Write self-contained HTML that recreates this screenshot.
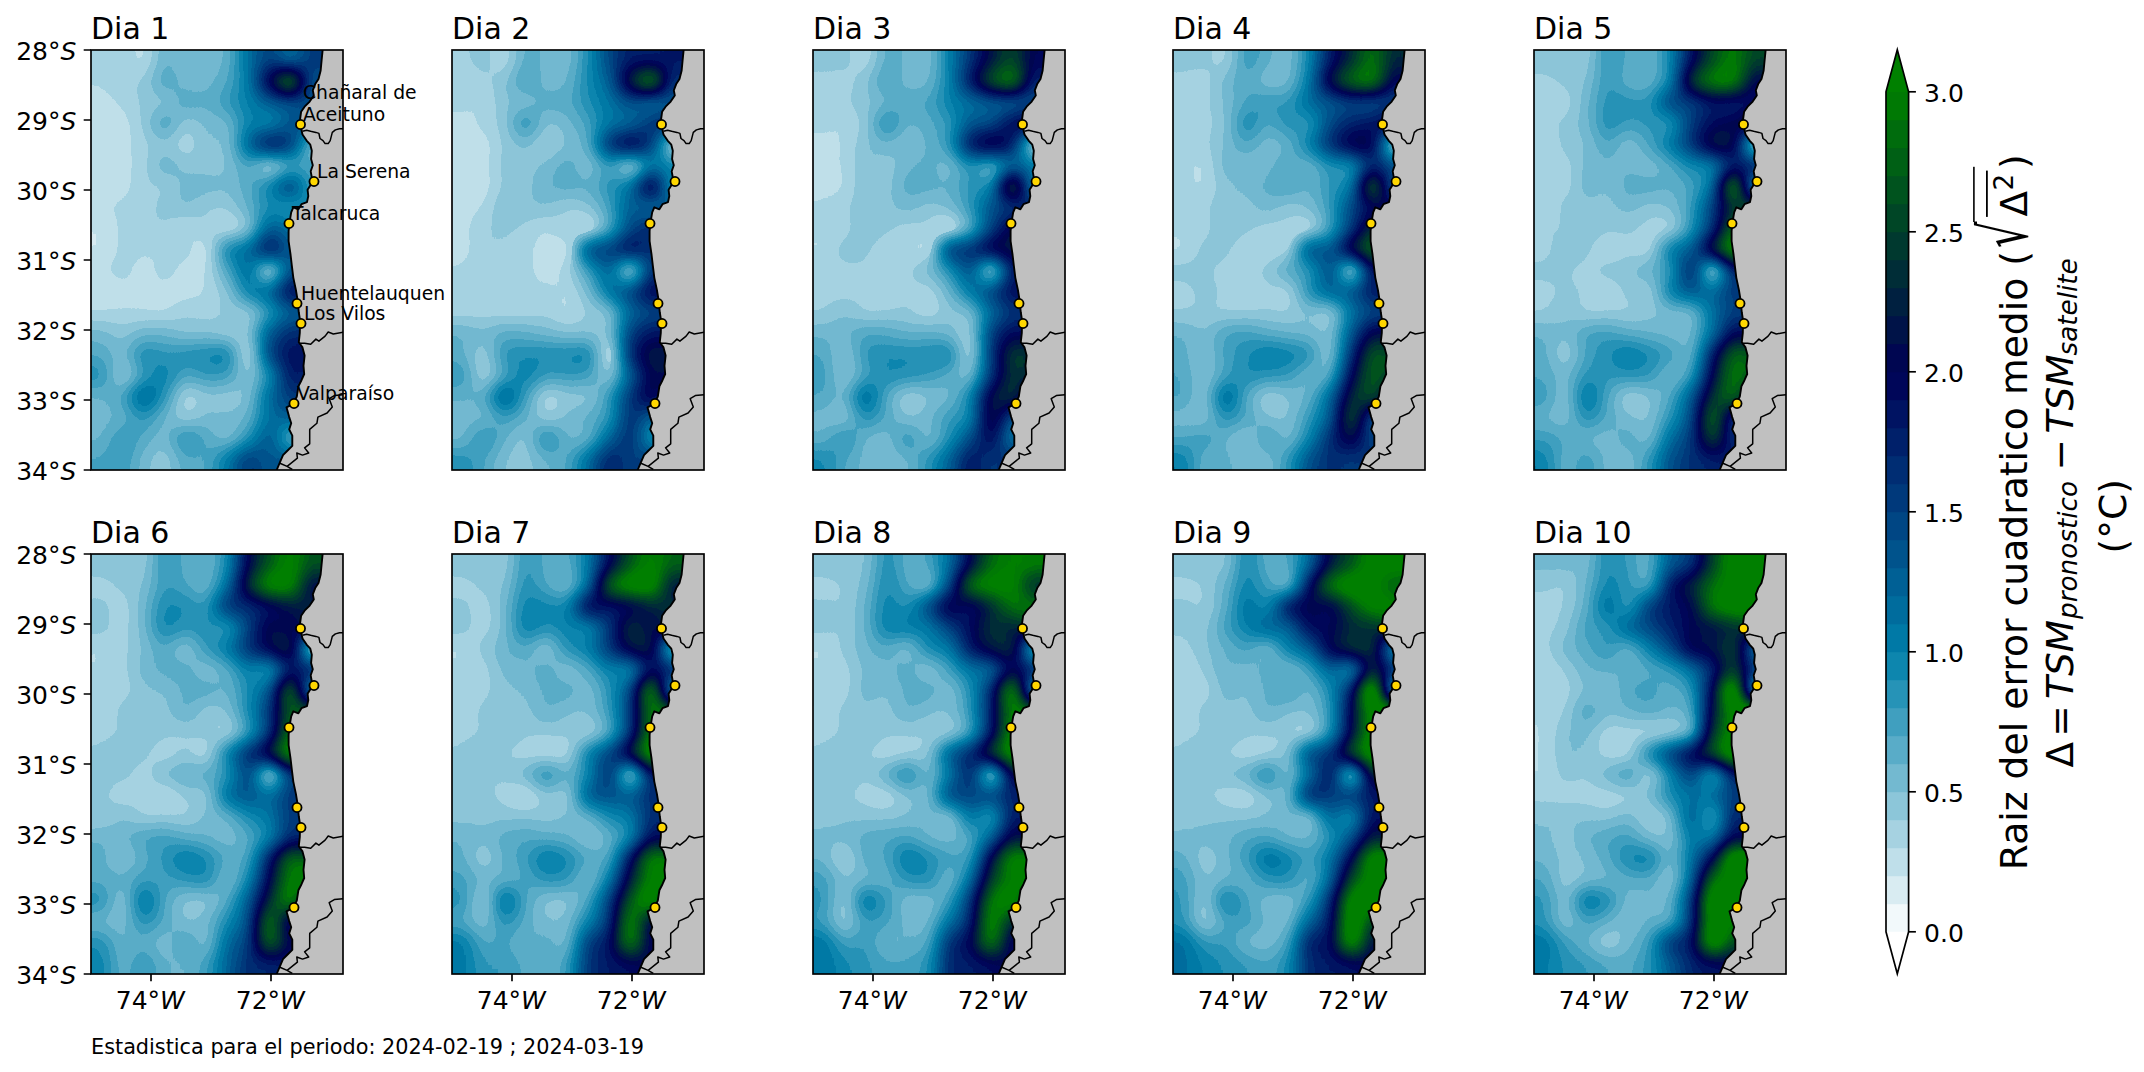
<!DOCTYPE html>
<html lang="es"><head><meta charset="utf-8"><title>RMSE TSM</title>
<style>html,body{margin:0;padding:0;background:#fff}body{width:2144px;height:1072px;overflow:hidden}svg{display:block}text{font-family:"DejaVu Sans","Liberation Sans",sans-serif;fill:#000}.i{font-family:"DejaVu Sans","Liberation Sans",sans-serif;font-style:oblique}.tk{font-size:25px}.tt{font-size:30px}.ct{font-size:18.75px}</style>
</head><body>
<svg width="2144" height="1072" viewBox="0 0 2144 1072">
<defs>
<filter id="cm" filterUnits="userSpaceOnUse" x="-63" y="-63" width="378" height="546" color-interpolation-filters="sRGB">
<feGaussianBlur stdDeviation="9.5" result="b"/>
<feColorMatrix in="b" type="matrix" values="1 0 0 0 0 1 0 0 0 0 1 0 0 0 0 0 0 0 0 1"/>
<feComponentTransfer result="cR"><feFuncR type="discrete" tableValues="0.9500 0.8500 0.7500 0.6500 0.5500 0.4500 0.3500 0.2500 0.1500 0.0500 0.0000 0.0000 0.0000 0.0000 0.0000 0.0000 0.0000 0.0000 0.0000 0.0000 0.0000 0.0000 0.0000 0.0000 0.0000 0.0000 0.0000 0.0000 0.0000 0.0000 0.0000 0.0000 0.0000 0.0000 0.0000 0.0000 0.0000 0.0000 0.0000 0.0000"/><feFuncG type="discrete" tableValues="0.9750 0.9250 0.8750 0.8250 0.7750 0.7250 0.6750 0.6250 0.5750 0.5250 0.4750 0.4250 0.3750 0.3250 0.2750 0.2250 0.1750 0.1250 0.0750 0.0250 0.0250 0.0750 0.1250 0.1750 0.2250 0.2750 0.3250 0.3750 0.4250 0.4750 0.5000 0.5000 0.5000 0.5000 0.5000 0.5000 0.5000 0.5000 0.5000 0.5000"/><feFuncB type="discrete" tableValues="0.9833 0.9500 0.9167 0.8833 0.8500 0.8167 0.7833 0.7500 0.7167 0.6833 0.6500 0.6167 0.5833 0.5500 0.5167 0.4833 0.4500 0.4167 0.3833 0.3500 0.3167 0.2833 0.2500 0.2167 0.1833 0.1500 0.1167 0.0833 0.0500 0.0167 0.0000 0.0000 0.0000 0.0000 0.0000 0.0000 0.0000 0.0000 0.0000 0.0000"/></feComponentTransfer>
<feColorMatrix in="b" type="matrix" values="0 1 0 0 0 0 1 0 0 0 0 1 0 0 0 0 0 0 0 1"/>
<feComponentTransfer result="cG"><feFuncR type="discrete" tableValues="0.9500 0.8500 0.7500 0.6500 0.5500 0.4500 0.3500 0.2500 0.1500 0.0500 0.0000 0.0000 0.0000 0.0000 0.0000 0.0000 0.0000 0.0000 0.0000 0.0000"/><feFuncG type="discrete" tableValues="0.9750 0.9250 0.8750 0.8250 0.7750 0.7250 0.6750 0.6250 0.5750 0.5250 0.4750 0.4250 0.3750 0.3250 0.2750 0.2250 0.1750 0.1250 0.0750 0.0250"/><feFuncB type="discrete" tableValues="0.9833 0.9500 0.9167 0.8833 0.8500 0.8167 0.7833 0.7500 0.7167 0.6833 0.6500 0.6167 0.5833 0.5500 0.5167 0.4833 0.4500 0.4167 0.3833 0.3500"/></feComponentTransfer>
<feColorMatrix in="b" type="matrix" values="0 0 1 0 0 0 0 1 0 0 0 0 1 0 0 0 0 0 0 1"/>
<feComponentTransfer result="cB"><feFuncR type="discrete" tableValues="0.9500 0.8500 0.7500 0.6500 0.5500 0.4500 0.3500 0.2500 0.1500 0.0500"/><feFuncG type="discrete" tableValues="0.9750 0.9250 0.8750 0.8250 0.7750 0.7250 0.6750 0.6250 0.5750 0.5250"/><feFuncB type="discrete" tableValues="0.9833 0.9500 0.9167 0.8833 0.8500 0.8167 0.7833 0.7500 0.7167 0.6833"/></feComponentTransfer>
<feColorMatrix in="b" type="matrix" values="0 0 0 0 0 0 0 0 0 0 0 0 0 0 0 -255 0 0 0 63.7500" result="mG"/>
<feColorMatrix in="b" type="matrix" values="0 0 0 0 0 0 0 0 0 0 0 0 0 0 0 0 -255 0 0 63.7500" result="mB"/>
<feComposite in="cG" in2="mG" operator="in" result="cGm"/>
<feComposite in="cB" in2="mB" operator="in" result="cBm"/>
<feMerge><feMergeNode in="cR"/><feMergeNode in="cGm"/><feMergeNode in="cBm"/></feMerge>
</filter>
<clipPath id="ax"><rect x="0" y="0" width="252" height="420"/></clipPath>
<g id="land"><polygon points="231.6,-1.8 231.6,0.3 230.6,10.5 229.6,20.8 227.5,29.0 224.2,34.1 221.8,40.3 222.8,45.4 218.7,51.6 213.6,56.7 210.1,61.8 209.1,69.0 210.5,80.3 211.5,84.4 215.6,90.6 219.3,94.7 220.8,100.8 220.1,109.0 221.8,115.2 219.7,121.3 220.8,127.5 219.7,134.7 216.6,139.8 217.3,146.0 216.0,152.1 210.5,154.2 207.4,159.3 202.3,157.3 200.2,162.4 198.8,170.6 197.6,180.9 197.6,191.1 198.8,199.3 199.6,205.0 200.8,215.3 202.3,227.6 204.9,239.9 206.4,249.1 207.8,262.5 209.1,270.7 208.8,283.0 207.8,292.2 211.5,297.4 213.6,305.6 212.5,315.8 213.2,324.0 210.5,330.2 207.4,336.3 205.8,346.6 202.3,353.8 195.5,357.3 198.2,367.1 200.2,373.3 198.2,379.4 201.3,385.6 201.3,395.9 196.1,401.0 192.0,405.1 188.9,412.3 185.9,419.5 184.8,424.6 257.0,429.6 257.0,-5.0 231.6,-5.0" fill="#c0c0c0"/>
<polyline points="231.6,-1.8 231.6,0.3 230.6,10.5 229.6,20.8 227.5,29.0 224.2,34.1 221.8,40.3 222.8,45.4 218.7,51.6 213.6,56.7 210.1,61.8 209.1,69.0 210.5,80.3 211.5,84.4 215.6,90.6 219.3,94.7 220.8,100.8 220.1,109.0 221.8,115.2 219.7,121.3 220.8,127.5 219.7,134.7 216.6,139.8 217.3,146.0 216.0,152.1 210.5,154.2 207.4,159.3 202.3,157.3 200.2,162.4 198.8,170.6 197.6,180.9 197.6,191.1 198.8,199.3 199.6,205.0 200.8,215.3 202.3,227.6 204.9,239.9 206.4,249.1 207.8,262.5 209.1,270.7 208.8,283.0 207.8,292.2 211.5,297.4 213.6,305.6 212.5,315.8 213.2,324.0 210.5,330.2 207.4,336.3 205.8,346.6 202.3,353.8 195.5,357.3 198.2,367.1 200.2,373.3 198.2,379.4 201.3,385.6 201.3,395.9 196.1,401.0 192.0,405.1 188.9,412.3 185.9,419.5 184.8,424.6" fill="none" stroke="#000" stroke-width="1.9" stroke-linejoin="round"/>
<polyline points="211.5,81.3 215.6,80.3 219.7,81.3 224.9,82.4 227.9,83.4 229.0,88.5 232.0,90.6 234.1,93.6 237.2,93.6 239.2,90.6 241.3,82.4 244.4,79.9 248.5,78.7 253.6,78.7" fill="none" stroke="#000" stroke-width="1.5" stroke-linejoin="round"/>
<polyline points="208.4,293.2 213.6,293.2 219.7,294.3 224.9,289.1 227.9,291.2 234.1,286.1 237.2,282.0 242.3,284.0 253.6,282.0" fill="none" stroke="#000" stroke-width="1.5" stroke-linejoin="round"/>
<polyline points="196.1,416.4 206.4,408.2 205.8,403.0 211.5,405.1 217.7,403.0 213.6,397.9 218.7,393.8 218.7,379.4 225.9,373.3 226.9,367.1 236.1,363.0 241.3,356.9 238.2,348.7 243.3,345.6 253.6,344.6" fill="none" stroke="#000" stroke-width="1.5" stroke-linejoin="round"/>
<polyline points="188.9,413.3 196.1,416.4 201.3,419.5" fill="none" stroke="#000" stroke-width="1.5" stroke-linejoin="round"/>
</g>
<g id="dots">
<circle cx="209.5" cy="74.5" r="4.55" fill="#ffd700" stroke="#000" stroke-width="1.8"/>
<circle cx="223.0" cy="131.5" r="4.55" fill="#ffd700" stroke="#000" stroke-width="1.8"/>
<circle cx="198.0" cy="173.5" r="4.55" fill="#ffd700" stroke="#000" stroke-width="1.8"/>
<circle cx="206.0" cy="253.5" r="4.55" fill="#ffd700" stroke="#000" stroke-width="1.8"/>
<circle cx="210.0" cy="273.5" r="4.55" fill="#ffd700" stroke="#000" stroke-width="1.8"/>
<circle cx="203.0" cy="353.5" r="4.55" fill="#ffd700" stroke="#000" stroke-width="1.8"/>
</g>
</defs>
<rect width="2144" height="1072" fill="#fff"/>
<g transform="translate(91,50)">
<g clip-path="url(#ax)">
<g filter="url(#cm)" shape-rendering="crispEdges">
<rect x="-42" y="-42" width="63" height="21" fill="#183060"/>
<rect x="21" y="-42" width="21" height="21" fill="#193264"/>
<rect x="42" y="-42" width="21" height="21" fill="#0e1d39"/>
<rect x="63" y="-42" width="21" height="21" fill="#2850a0"/>
<rect x="84" y="-42" width="21" height="21" fill="#203f7e"/>
<rect x="105" y="-42" width="21" height="21" fill="#20407f"/>
<rect x="126" y="-42" width="21" height="21" fill="#274d9b"/>
<rect x="147" y="-42" width="21" height="21" fill="#4890ff"/>
<rect x="168" y="-42" width="21" height="21" fill="#62c5ff"/>
<rect x="189" y="-42" width="21" height="21" fill="#4487ff"/>
<rect x="210" y="-42" width="21" height="21" fill="#66ccff"/>
<rect x="231" y="-42" width="63" height="21" fill="#60c0ff"/>
<rect x="-42" y="-21" width="63" height="21" fill="#183060"/>
<rect x="21" y="-21" width="21" height="21" fill="#193264"/>
<rect x="42" y="-21" width="21" height="21" fill="#0e1d39"/>
<rect x="63" y="-21" width="21" height="21" fill="#2850a0"/>
<rect x="84" y="-21" width="21" height="21" fill="#203f7e"/>
<rect x="105" y="-21" width="21" height="21" fill="#20407f"/>
<rect x="126" y="-21" width="21" height="21" fill="#274d9b"/>
<rect x="147" y="-21" width="21" height="21" fill="#4890ff"/>
<rect x="168" y="-21" width="21" height="21" fill="#62c5ff"/>
<rect x="189" y="-21" width="21" height="21" fill="#4487ff"/>
<rect x="210" y="-21" width="21" height="21" fill="#66ccff"/>
<rect x="231" y="-21" width="63" height="21" fill="#60c0ff"/>
<rect x="-42" y="0" width="63" height="21" fill="#183060"/>
<rect x="21" y="0" width="21" height="21" fill="#193264"/>
<rect x="42" y="0" width="21" height="21" fill="#0e1d39"/>
<rect x="63" y="0" width="21" height="21" fill="#2850a0"/>
<rect x="84" y="0" width="21" height="21" fill="#203f7e"/>
<rect x="105" y="0" width="21" height="21" fill="#20407f"/>
<rect x="126" y="0" width="21" height="21" fill="#274d9b"/>
<rect x="147" y="0" width="21" height="21" fill="#4890ff"/>
<rect x="168" y="0" width="21" height="21" fill="#62c5ff"/>
<rect x="189" y="0" width="21" height="21" fill="#4487ff"/>
<rect x="210" y="0" width="21" height="21" fill="#66ccff"/>
<rect x="231" y="0" width="63" height="21" fill="#60c0ff"/>
<rect x="-42" y="21" width="63" height="21" fill="#14274f"/>
<rect x="21" y="21" width="21" height="21" fill="#193263"/>
<rect x="42" y="21" width="21" height="21" fill="#1a3366"/>
<rect x="63" y="21" width="21" height="21" fill="#2f5dba"/>
<rect x="84" y="21" width="21" height="21" fill="#224489"/>
<rect x="105" y="21" width="21" height="21" fill="#23468c"/>
<rect x="126" y="21" width="21" height="21" fill="#2c57ae"/>
<rect x="147" y="21" width="21" height="21" fill="#4285ff"/>
<rect x="168" y="21" width="21" height="21" fill="#88ffff"/>
<rect x="189" y="21" width="21" height="21" fill="#d1ffff"/>
<rect x="210" y="21" width="21" height="21" fill="#4e9bff"/>
<rect x="231" y="21" width="63" height="21" fill="#66cbff"/>
<rect x="-42" y="42" width="63" height="21" fill="#102040"/>
<rect x="21" y="42" width="21" height="21" fill="#142850"/>
<rect x="42" y="42" width="21" height="21" fill="#1b376e"/>
<rect x="63" y="42" width="21" height="21" fill="#1b366c"/>
<rect x="84" y="42" width="21" height="21" fill="#2d5bb6"/>
<rect x="105" y="42" width="21" height="21" fill="#274e9c"/>
<rect x="126" y="42" width="21" height="21" fill="#3468d0"/>
<rect x="147" y="42" width="21" height="21" fill="#4081ff"/>
<rect x="168" y="42" width="21" height="21" fill="#50a1ff"/>
<rect x="189" y="42" width="21" height="21" fill="#54a8ff"/>
<rect x="210" y="42" width="21" height="21" fill="#5ab4ff"/>
<rect x="231" y="42" width="63" height="21" fill="#59b1ff"/>
<rect x="-42" y="63" width="63" height="21" fill="#122347"/>
<rect x="21" y="63" width="21" height="21" fill="#0f1d3b"/>
<rect x="42" y="63" width="21" height="21" fill="#1a3367"/>
<rect x="63" y="63" width="21" height="21" fill="#3365ca"/>
<rect x="84" y="63" width="21" height="21" fill="#193163"/>
<rect x="105" y="63" width="21" height="21" fill="#214385"/>
<rect x="126" y="63" width="21" height="21" fill="#224488"/>
<rect x="147" y="63" width="21" height="21" fill="#3f7dfa"/>
<rect x="168" y="63" width="21" height="21" fill="#3973e5"/>
<rect x="189" y="63" width="21" height="21" fill="#54a8ff"/>
<rect x="210" y="63" width="21" height="21" fill="#5dbbff"/>
<rect x="231" y="63" width="63" height="21" fill="#5cb7ff"/>
<rect x="-42" y="84" width="63" height="21" fill="#112345"/>
<rect x="21" y="84" width="21" height="21" fill="#102041"/>
<rect x="42" y="84" width="21" height="21" fill="#172e5c"/>
<rect x="63" y="84" width="21" height="21" fill="#1d3972"/>
<rect x="84" y="84" width="21" height="21" fill="#122448"/>
<rect x="105" y="84" width="21" height="21" fill="#20407f"/>
<rect x="126" y="84" width="21" height="21" fill="#1e3b77"/>
<rect x="147" y="84" width="21" height="21" fill="#50a0ff"/>
<rect x="168" y="84" width="21" height="21" fill="#7ffdff"/>
<rect x="189" y="84" width="21" height="21" fill="#6ad4ff"/>
<rect x="210" y="84" width="21" height="21" fill="#183162"/>
<rect x="231" y="84" width="63" height="21" fill="#274f9d"/>
<rect x="-42" y="105" width="63" height="21" fill="#112345"/>
<rect x="21" y="105" width="21" height="21" fill="#102142"/>
<rect x="42" y="105" width="21" height="21" fill="#162c59"/>
<rect x="63" y="105" width="21" height="21" fill="#284f9e"/>
<rect x="84" y="105" width="21" height="21" fill="#1e3b77"/>
<rect x="105" y="105" width="21" height="21" fill="#1d3973"/>
<rect x="126" y="105" width="21" height="21" fill="#1e3c79"/>
<rect x="147" y="105" width="21" height="21" fill="#2f5ebd"/>
<rect x="168" y="105" width="21" height="21" fill="#0c182f"/>
<rect x="189" y="105" width="21" height="21" fill="#284f9f"/>
<rect x="210" y="105" width="21" height="21" fill="#305fbe"/>
<rect x="231" y="105" width="63" height="21" fill="#2e5cb8"/>
<rect x="-42" y="126" width="63" height="21" fill="#112346"/>
<rect x="21" y="126" width="21" height="21" fill="#0f1d3b"/>
<rect x="42" y="126" width="21" height="21" fill="#193365"/>
<rect x="63" y="126" width="21" height="21" fill="#172e5c"/>
<rect x="84" y="126" width="21" height="21" fill="#24478e"/>
<rect x="105" y="126" width="21" height="21" fill="#24478f"/>
<rect x="126" y="126" width="21" height="21" fill="#214283"/>
<rect x="147" y="126" width="21" height="21" fill="#2a54a7"/>
<rect x="168" y="126" width="21" height="21" fill="#4080ff"/>
<rect x="189" y="126" width="21" height="21" fill="#68d0ff"/>
<rect x="210" y="126" width="21" height="21" fill="#2a55a9"/>
<rect x="231" y="126" width="63" height="21" fill="#366bd6"/>
<rect x="-42" y="147" width="63" height="21" fill="#112346"/>
<rect x="21" y="147" width="21" height="21" fill="#152b56"/>
<rect x="42" y="147" width="21" height="21" fill="#172e5c"/>
<rect x="63" y="147" width="21" height="21" fill="#1c376e"/>
<rect x="84" y="147" width="21" height="21" fill="#214386"/>
<rect x="105" y="147" width="21" height="21" fill="#183161"/>
<rect x="126" y="147" width="21" height="21" fill="#1a3366"/>
<rect x="147" y="147" width="21" height="21" fill="#284f9e"/>
<rect x="168" y="147" width="21" height="21" fill="#3a74e9"/>
<rect x="189" y="147" width="21" height="21" fill="#2f5ebb"/>
<rect x="210" y="147" width="21" height="21" fill="#3e7bf7"/>
<rect x="231" y="147" width="63" height="21" fill="#3b76ec"/>
<rect x="-42" y="168" width="63" height="21" fill="#0c1931"/>
<rect x="21" y="168" width="21" height="21" fill="#152a54"/>
<rect x="42" y="168" width="21" height="21" fill="#193163"/>
<rect x="63" y="168" width="21" height="21" fill="#193264"/>
<rect x="84" y="168" width="21" height="21" fill="#0f1e3d"/>
<rect x="105" y="168" width="21" height="21" fill="#1c376e"/>
<rect x="126" y="168" width="21" height="21" fill="#0c1931"/>
<rect x="147" y="168" width="21" height="21" fill="#1a3467"/>
<rect x="168" y="168" width="21" height="21" fill="#55aaff"/>
<rect x="189" y="168" width="21" height="21" fill="#4891ff"/>
<rect x="210" y="168" width="21" height="21" fill="#3b77ee"/>
<rect x="231" y="168" width="63" height="21" fill="#3e7cf7"/>
<rect x="-42" y="189" width="63" height="21" fill="#0c1830"/>
<rect x="21" y="189" width="21" height="21" fill="#162c57"/>
<rect x="42" y="189" width="21" height="21" fill="#142952"/>
<rect x="63" y="189" width="21" height="21" fill="#13254b"/>
<rect x="84" y="189" width="21" height="21" fill="#183060"/>
<rect x="105" y="189" width="21" height="21" fill="#0a1529"/>
<rect x="126" y="189" width="21" height="21" fill="#4385ff"/>
<rect x="147" y="189" width="21" height="21" fill="#4a93ff"/>
<rect x="168" y="189" width="21" height="21" fill="#82ffff"/>
<rect x="189" y="189" width="21" height="21" fill="#4f9fff"/>
<rect x="210" y="189" width="21" height="21" fill="#5cb7ff"/>
<rect x="231" y="189" width="63" height="21" fill="#59b3ff"/>
<rect x="-42" y="210" width="63" height="21" fill="#122449"/>
<rect x="21" y="210" width="21" height="21" fill="#172e5c"/>
<rect x="42" y="210" width="21" height="21" fill="#0e1c39"/>
<rect x="63" y="210" width="21" height="21" fill="#182f5f"/>
<rect x="84" y="210" width="21" height="21" fill="#0f1e3d"/>
<rect x="105" y="210" width="21" height="21" fill="#112244"/>
<rect x="126" y="210" width="21" height="21" fill="#2d5ab5"/>
<rect x="147" y="210" width="21" height="21" fill="#4f9dff"/>
<rect x="168" y="210" width="21" height="21" fill="#010305"/>
<rect x="189" y="210" width="21" height="21" fill="#5db9ff"/>
<rect x="210" y="210" width="21" height="21" fill="#4992ff"/>
<rect x="231" y="210" width="63" height="21" fill="#4d99ff"/>
<rect x="-42" y="231" width="63" height="21" fill="#0b172e"/>
<rect x="21" y="231" width="21" height="21" fill="#112143"/>
<rect x="42" y="231" width="21" height="21" fill="#112346"/>
<rect x="63" y="231" width="21" height="21" fill="#102041"/>
<rect x="84" y="231" width="21" height="21" fill="#101f3e"/>
<rect x="105" y="231" width="21" height="21" fill="#13264c"/>
<rect x="126" y="231" width="21" height="21" fill="#1c3870"/>
<rect x="147" y="231" width="21" height="21" fill="#4386ff"/>
<rect x="168" y="231" width="21" height="21" fill="#50a1ff"/>
<rect x="189" y="231" width="21" height="21" fill="#82ffff"/>
<rect x="210" y="231" width="21" height="21" fill="#79f2ff"/>
<rect x="231" y="231" width="63" height="21" fill="#7bf5ff"/>
<rect x="-42" y="252" width="63" height="21" fill="#13274e"/>
<rect x="21" y="252" width="21" height="21" fill="#14274e"/>
<rect x="42" y="252" width="21" height="21" fill="#122448"/>
<rect x="63" y="252" width="21" height="21" fill="#112244"/>
<rect x="84" y="252" width="21" height="21" fill="#193265"/>
<rect x="105" y="252" width="21" height="21" fill="#162c58"/>
<rect x="126" y="252" width="21" height="21" fill="#1b376d"/>
<rect x="147" y="252" width="21" height="21" fill="#172e5c"/>
<rect x="168" y="252" width="21" height="21" fill="#3163c6"/>
<rect x="189" y="252" width="21" height="21" fill="#4e9bff"/>
<rect x="210" y="252" width="21" height="21" fill="#4891ff"/>
<rect x="231" y="252" width="63" height="21" fill="#4992ff"/>
<rect x="-42" y="273" width="63" height="21" fill="#23468b"/>
<rect x="21" y="273" width="21" height="21" fill="#1c3871"/>
<rect x="42" y="273" width="21" height="21" fill="#254a95"/>
<rect x="63" y="273" width="21" height="21" fill="#264b97"/>
<rect x="84" y="273" width="21" height="21" fill="#1d3a74"/>
<rect x="105" y="273" width="21" height="21" fill="#1f3e7c"/>
<rect x="126" y="273" width="21" height="21" fill="#183060"/>
<rect x="147" y="273" width="21" height="21" fill="#1c3870"/>
<rect x="168" y="273" width="21" height="21" fill="#55aaff"/>
<rect x="189" y="273" width="21" height="21" fill="#6edcff"/>
<rect x="210" y="273" width="21" height="21" fill="#69d2ff"/>
<rect x="231" y="273" width="63" height="21" fill="#6ad4ff"/>
<rect x="-42" y="294" width="63" height="21" fill="#2c58b0"/>
<rect x="21" y="294" width="21" height="21" fill="#224387"/>
<rect x="42" y="294" width="21" height="21" fill="#3d7af4"/>
<rect x="63" y="294" width="21" height="21" fill="#3467cf"/>
<rect x="84" y="294" width="21" height="21" fill="#3973e6"/>
<rect x="105" y="294" width="21" height="21" fill="#3d79f2"/>
<rect x="126" y="294" width="21" height="21" fill="#4386ff"/>
<rect x="147" y="294" width="21" height="21" fill="#081122"/>
<rect x="168" y="294" width="21" height="21" fill="#62c4ff"/>
<rect x="189" y="294" width="21" height="21" fill="#7bf6ff"/>
<rect x="210" y="294" width="21" height="21" fill="#76ecff"/>
<rect x="231" y="294" width="63" height="21" fill="#77eeff"/>
<rect x="-42" y="315" width="63" height="21" fill="#3973e5"/>
<rect x="21" y="315" width="21" height="21" fill="#142850"/>
<rect x="42" y="315" width="21" height="21" fill="#3162c4"/>
<rect x="63" y="315" width="21" height="21" fill="#4283ff"/>
<rect x="84" y="315" width="21" height="21" fill="#2c58b0"/>
<rect x="105" y="315" width="21" height="21" fill="#356ad3"/>
<rect x="126" y="315" width="21" height="21" fill="#3264c8"/>
<rect x="147" y="315" width="21" height="21" fill="#1b366b"/>
<rect x="168" y="315" width="21" height="21" fill="#356bd5"/>
<rect x="189" y="315" width="21" height="21" fill="#79f2ff"/>
<rect x="210" y="315" width="21" height="21" fill="#6cd8ff"/>
<rect x="231" y="315" width="63" height="21" fill="#6fddff"/>
<rect x="-42" y="336" width="63" height="21" fill="#254992"/>
<rect x="21" y="336" width="21" height="21" fill="#2e5db9"/>
<rect x="42" y="336" width="21" height="21" fill="#55a9ff"/>
<rect x="63" y="336" width="21" height="21" fill="#376ddb"/>
<rect x="84" y="336" width="21" height="21" fill="#102041"/>
<rect x="105" y="336" width="21" height="21" fill="#1b376e"/>
<rect x="126" y="336" width="21" height="21" fill="#193264"/>
<rect x="147" y="336" width="21" height="21" fill="#1e3d79"/>
<rect x="168" y="336" width="21" height="21" fill="#4d9aff"/>
<rect x="189" y="336" width="21" height="21" fill="#65cbff"/>
<rect x="210" y="336" width="21" height="21" fill="#61c1ff"/>
<rect x="231" y="336" width="63" height="21" fill="#61c3ff"/>
<rect x="-42" y="357" width="63" height="21" fill="#23468d"/>
<rect x="21" y="357" width="21" height="21" fill="#264c98"/>
<rect x="42" y="357" width="21" height="21" fill="#366dd9"/>
<rect x="63" y="357" width="21" height="21" fill="#254993"/>
<rect x="84" y="357" width="21" height="21" fill="#182f5e"/>
<rect x="105" y="357" width="21" height="21" fill="#224488"/>
<rect x="126" y="357" width="21" height="21" fill="#214386"/>
<rect x="147" y="357" width="21" height="21" fill="#254b96"/>
<rect x="168" y="357" width="21" height="21" fill="#4993ff"/>
<rect x="189" y="357" width="21" height="21" fill="#53a5ff"/>
<rect x="210" y="357" width="84" height="21" fill="#51a2ff"/>
<rect x="-42" y="378" width="63" height="21" fill="#244991"/>
<rect x="21" y="378" width="21" height="21" fill="#376edc"/>
<rect x="42" y="378" width="21" height="21" fill="#2a55aa"/>
<rect x="63" y="378" width="21" height="21" fill="#204181"/>
<rect x="84" y="378" width="21" height="21" fill="#3d7af4"/>
<rect x="105" y="378" width="21" height="21" fill="#2b57ad"/>
<rect x="126" y="378" width="21" height="21" fill="#1e3c78"/>
<rect x="147" y="378" width="21" height="21" fill="#356ad3"/>
<rect x="168" y="378" width="21" height="21" fill="#5bb7ff"/>
<rect x="189" y="378" width="21" height="21" fill="#1e3c78"/>
<rect x="210" y="378" width="21" height="21" fill="#2a53a7"/>
<rect x="231" y="378" width="63" height="21" fill="#284f9e"/>
<rect x="-42" y="399" width="63" height="21" fill="#2e5cb9"/>
<rect x="21" y="399" width="21" height="21" fill="#3468d0"/>
<rect x="42" y="399" width="21" height="21" fill="#224489"/>
<rect x="63" y="399" width="21" height="21" fill="#193264"/>
<rect x="84" y="399" width="21" height="21" fill="#2b57ae"/>
<rect x="105" y="399" width="21" height="21" fill="#2b55ab"/>
<rect x="126" y="399" width="21" height="21" fill="#4489ff"/>
<rect x="147" y="399" width="21" height="21" fill="#68d0ff"/>
<rect x="168" y="399" width="21" height="21" fill="#50a0ff"/>
<rect x="189" y="399" width="21" height="21" fill="#5dbaff"/>
<rect x="210" y="399" width="21" height="21" fill="#5bb5ff"/>
<rect x="231" y="399" width="63" height="21" fill="#5bb6ff"/>
<rect x="-42" y="420" width="63" height="21" fill="#2e5cb9"/>
<rect x="21" y="420" width="21" height="21" fill="#3468d0"/>
<rect x="42" y="420" width="21" height="21" fill="#224489"/>
<rect x="63" y="420" width="21" height="21" fill="#193264"/>
<rect x="84" y="420" width="21" height="21" fill="#2b57ae"/>
<rect x="105" y="420" width="21" height="21" fill="#2b55ab"/>
<rect x="126" y="420" width="21" height="21" fill="#4489ff"/>
<rect x="147" y="420" width="21" height="21" fill="#68d0ff"/>
<rect x="168" y="420" width="21" height="21" fill="#50a0ff"/>
<rect x="189" y="420" width="21" height="21" fill="#5dbaff"/>
<rect x="210" y="420" width="21" height="21" fill="#5bb5ff"/>
<rect x="231" y="420" width="63" height="21" fill="#5bb6ff"/>
<rect x="-42" y="441" width="63" height="21" fill="#2e5cb9"/>
<rect x="21" y="441" width="21" height="21" fill="#3468d0"/>
<rect x="42" y="441" width="21" height="21" fill="#224489"/>
<rect x="63" y="441" width="21" height="21" fill="#193264"/>
<rect x="84" y="441" width="21" height="21" fill="#2b57ae"/>
<rect x="105" y="441" width="21" height="21" fill="#2b55ab"/>
<rect x="126" y="441" width="21" height="21" fill="#4489ff"/>
<rect x="147" y="441" width="21" height="21" fill="#68d0ff"/>
<rect x="168" y="441" width="21" height="21" fill="#50a0ff"/>
<rect x="189" y="441" width="21" height="21" fill="#5dbaff"/>
<rect x="210" y="441" width="21" height="21" fill="#5bb5ff"/>
<rect x="231" y="441" width="63" height="21" fill="#5bb6ff"/>
</g>
<use href="#land"/>
</g>
<use href="#dots"/>
<rect x="0" y="0" width="252" height="420" fill="none" stroke="#000" stroke-width="1.67"/>
<path d="M-7.3,0 H0 M-7.3,70 H0 M-7.3,140 H0 M-7.3,210 H0 M-7.3,280 H0 M-7.3,350 H0 M-7.3,420 H0" stroke="#000" stroke-width="1.67" fill="none"/>
<text class="tk" x="-14.6" y="9.6" text-anchor="end">28°<tspan class="i">S</tspan></text>
<text class="tk" x="-14.6" y="79.6" text-anchor="end">29°<tspan class="i">S</tspan></text>
<text class="tk" x="-14.6" y="149.6" text-anchor="end">30°<tspan class="i">S</tspan></text>
<text class="tk" x="-14.6" y="219.6" text-anchor="end">31°<tspan class="i">S</tspan></text>
<text class="tk" x="-14.6" y="289.6" text-anchor="end">32°<tspan class="i">S</tspan></text>
<text class="tk" x="-14.6" y="359.6" text-anchor="end">33°<tspan class="i">S</tspan></text>
<text class="tk" x="-14.6" y="429.6" text-anchor="end">34°<tspan class="i">S</tspan></text>
<text class="tt" x="0" y="-11">Dia 1</text>
<text class="ct" x="212.0" y="48.5">Chañaral de</text>
<text class="ct" x="212.0" y="70.5">Aceituno</text>
<text class="ct" x="226.0" y="127.5">La Serena</text>
<text class="ct" x="201.0" y="169.5">Talcaruca</text>
<text class="ct" x="210.0" y="249.5">Huentelauquen</text>
<text class="ct" x="213.0" y="269.5">Los Vilos</text>
<text class="ct" x="206.0" y="349.5">Valparaíso</text>
</g>
<g transform="translate(452,50)">
<g clip-path="url(#ax)">
<g filter="url(#cm)" shape-rendering="crispEdges">
<rect x="-42" y="-42" width="63" height="21" fill="#172f5d"/>
<rect x="21" y="-42" width="21" height="21" fill="#1e3c77"/>
<rect x="42" y="-42" width="21" height="21" fill="#112245"/>
<rect x="63" y="-42" width="21" height="21" fill="#2b56ac"/>
<rect x="84" y="-42" width="21" height="21" fill="#244891"/>
<rect x="105" y="-42" width="21" height="21" fill="#204080"/>
<rect x="126" y="-42" width="21" height="21" fill="#3972e4"/>
<rect x="147" y="-42" width="21" height="21" fill="#5dbbff"/>
<rect x="168" y="-42" width="21" height="21" fill="#72e4ff"/>
<rect x="189" y="-42" width="21" height="21" fill="#6fdfff"/>
<rect x="210" y="-42" width="21" height="21" fill="#75ebff"/>
<rect x="231" y="-42" width="63" height="21" fill="#74e9ff"/>
<rect x="-42" y="-21" width="63" height="21" fill="#172f5d"/>
<rect x="21" y="-21" width="21" height="21" fill="#1e3c77"/>
<rect x="42" y="-21" width="21" height="21" fill="#112245"/>
<rect x="63" y="-21" width="21" height="21" fill="#2b56ac"/>
<rect x="84" y="-21" width="21" height="21" fill="#244891"/>
<rect x="105" y="-21" width="21" height="21" fill="#204080"/>
<rect x="126" y="-21" width="21" height="21" fill="#3972e4"/>
<rect x="147" y="-21" width="21" height="21" fill="#5dbbff"/>
<rect x="168" y="-21" width="21" height="21" fill="#72e4ff"/>
<rect x="189" y="-21" width="21" height="21" fill="#6fdfff"/>
<rect x="210" y="-21" width="21" height="21" fill="#75ebff"/>
<rect x="231" y="-21" width="63" height="21" fill="#74e9ff"/>
<rect x="-42" y="0" width="63" height="21" fill="#172f5d"/>
<rect x="21" y="0" width="21" height="21" fill="#1e3c77"/>
<rect x="42" y="0" width="21" height="21" fill="#112245"/>
<rect x="63" y="0" width="21" height="21" fill="#2b56ac"/>
<rect x="84" y="0" width="21" height="21" fill="#244891"/>
<rect x="105" y="0" width="21" height="21" fill="#204080"/>
<rect x="126" y="0" width="21" height="21" fill="#3972e4"/>
<rect x="147" y="0" width="21" height="21" fill="#5dbbff"/>
<rect x="168" y="0" width="21" height="21" fill="#72e4ff"/>
<rect x="189" y="0" width="21" height="21" fill="#6fdfff"/>
<rect x="210" y="0" width="21" height="21" fill="#75ebff"/>
<rect x="231" y="0" width="63" height="21" fill="#74e9ff"/>
<rect x="-42" y="21" width="63" height="21" fill="#13264c"/>
<rect x="21" y="21" width="21" height="21" fill="#172f5e"/>
<rect x="42" y="21" width="21" height="21" fill="#1d3b75"/>
<rect x="63" y="21" width="21" height="21" fill="#3366cb"/>
<rect x="84" y="21" width="21" height="21" fill="#204181"/>
<rect x="105" y="21" width="21" height="21" fill="#254a93"/>
<rect x="126" y="21" width="21" height="21" fill="#3c77ef"/>
<rect x="147" y="21" width="21" height="21" fill="#4e9cff"/>
<rect x="168" y="21" width="21" height="21" fill="#98ffff"/>
<rect x="189" y="21" width="21" height="21" fill="#d1ffff"/>
<rect x="210" y="21" width="21" height="21" fill="#5fbfff"/>
<rect x="231" y="21" width="63" height="21" fill="#74e8ff"/>
<rect x="-42" y="42" width="63" height="21" fill="#162c58"/>
<rect x="21" y="42" width="21" height="21" fill="#112244"/>
<rect x="42" y="42" width="21" height="21" fill="#20407f"/>
<rect x="63" y="42" width="21" height="21" fill="#1e3c77"/>
<rect x="84" y="42" width="21" height="21" fill="#2b57ad"/>
<rect x="105" y="42" width="21" height="21" fill="#2b55ab"/>
<rect x="126" y="42" width="21" height="21" fill="#3871e1"/>
<rect x="147" y="42" width="21" height="21" fill="#458aff"/>
<rect x="168" y="42" width="21" height="21" fill="#58b0ff"/>
<rect x="189" y="42" width="21" height="21" fill="#4182ff"/>
<rect x="210" y="42" width="21" height="21" fill="#55abff"/>
<rect x="231" y="42" width="63" height="21" fill="#52a3ff"/>
<rect x="-42" y="63" width="63" height="21" fill="#101f3f"/>
<rect x="21" y="63" width="21" height="21" fill="#152a55"/>
<rect x="42" y="63" width="21" height="21" fill="#1b366d"/>
<rect x="63" y="63" width="21" height="21" fill="#3c78f0"/>
<rect x="84" y="63" width="21" height="21" fill="#1c3870"/>
<rect x="105" y="63" width="21" height="21" fill="#23468c"/>
<rect x="126" y="63" width="21" height="21" fill="#2f5dbb"/>
<rect x="147" y="63" width="21" height="21" fill="#4488ff"/>
<rect x="168" y="63" width="21" height="21" fill="#488fff"/>
<rect x="189" y="63" width="21" height="21" fill="#69d3ff"/>
<rect x="210" y="63" width="21" height="21" fill="#73e6ff"/>
<rect x="231" y="63" width="63" height="21" fill="#71e3ff"/>
<rect x="-42" y="84" width="63" height="21" fill="#122447"/>
<rect x="21" y="84" width="21" height="21" fill="#0e1c39"/>
<rect x="42" y="84" width="21" height="21" fill="#1b366c"/>
<rect x="63" y="84" width="21" height="21" fill="#214183"/>
<rect x="84" y="84" width="21" height="21" fill="#152b55"/>
<rect x="105" y="84" width="21" height="21" fill="#203f7e"/>
<rect x="126" y="84" width="21" height="21" fill="#284f9e"/>
<rect x="147" y="84" width="21" height="21" fill="#6ddaff"/>
<rect x="168" y="84" width="21" height="21" fill="#8dffff"/>
<rect x="189" y="84" width="21" height="21" fill="#66ccff"/>
<rect x="210" y="84" width="21" height="21" fill="#060c18"/>
<rect x="231" y="84" width="63" height="21" fill="#182f5e"/>
<rect x="-42" y="105" width="63" height="21" fill="#112346"/>
<rect x="21" y="105" width="21" height="21" fill="#0f1f3e"/>
<rect x="42" y="105" width="21" height="21" fill="#1d3a73"/>
<rect x="63" y="105" width="21" height="21" fill="#1e3b76"/>
<rect x="84" y="105" width="21" height="21" fill="#214283"/>
<rect x="105" y="105" width="21" height="21" fill="#2c59b1"/>
<rect x="126" y="105" width="21" height="21" fill="#1c386f"/>
<rect x="147" y="105" width="21" height="21" fill="#3365ca"/>
<rect x="168" y="105" width="21" height="21" fill="#0c182f"/>
<rect x="189" y="105" width="21" height="21" fill="#4080ff"/>
<rect x="210" y="105" width="84" height="21" fill="#4182ff"/>
<rect x="-42" y="126" width="63" height="21" fill="#122347"/>
<rect x="21" y="126" width="21" height="21" fill="#0e1d39"/>
<rect x="42" y="126" width="21" height="21" fill="#1c376e"/>
<rect x="63" y="126" width="21" height="21" fill="#1d3972"/>
<rect x="84" y="126" width="21" height="21" fill="#274d9b"/>
<rect x="105" y="126" width="21" height="21" fill="#2b56ac"/>
<rect x="126" y="126" width="21" height="21" fill="#2850a0"/>
<rect x="147" y="126" width="21" height="21" fill="#366dd9"/>
<rect x="168" y="126" width="21" height="21" fill="#478dff"/>
<rect x="189" y="126" width="21" height="21" fill="#97ffff"/>
<rect x="210" y="126" width="21" height="21" fill="#2d59b2"/>
<rect x="231" y="126" width="63" height="21" fill="#4080ff"/>
<rect x="-42" y="147" width="63" height="21" fill="#112244"/>
<rect x="21" y="147" width="21" height="21" fill="#13254a"/>
<rect x="42" y="147" width="21" height="21" fill="#224487"/>
<rect x="63" y="147" width="21" height="21" fill="#1f3e7b"/>
<rect x="84" y="147" width="21" height="21" fill="#204080"/>
<rect x="105" y="147" width="21" height="21" fill="#162d5a"/>
<rect x="126" y="147" width="21" height="21" fill="#1d3a73"/>
<rect x="147" y="147" width="21" height="21" fill="#2f5dbb"/>
<rect x="168" y="147" width="21" height="21" fill="#53a5ff"/>
<rect x="189" y="147" width="21" height="21" fill="#4386ff"/>
<rect x="210" y="147" width="21" height="21" fill="#57afff"/>
<rect x="231" y="147" width="63" height="21" fill="#54a7ff"/>
<rect x="-42" y="168" width="63" height="21" fill="#102041"/>
<rect x="21" y="168" width="21" height="21" fill="#193264"/>
<rect x="42" y="168" width="21" height="21" fill="#1b376e"/>
<rect x="63" y="168" width="21" height="21" fill="#172e5c"/>
<rect x="84" y="168" width="21" height="21" fill="#112244"/>
<rect x="105" y="168" width="21" height="21" fill="#1b376d"/>
<rect x="126" y="168" width="21" height="21" fill="#081121"/>
<rect x="147" y="168" width="21" height="21" fill="#2952a4"/>
<rect x="168" y="168" width="21" height="21" fill="#5cb7ff"/>
<rect x="189" y="168" width="21" height="21" fill="#71e1ff"/>
<rect x="210" y="168" width="21" height="21" fill="#69d3ff"/>
<rect x="231" y="168" width="63" height="21" fill="#6bd5ff"/>
<rect x="-42" y="189" width="63" height="21" fill="#0f1e3d"/>
<rect x="21" y="189" width="21" height="21" fill="#193263"/>
<rect x="42" y="189" width="21" height="21" fill="#183161"/>
<rect x="63" y="189" width="21" height="21" fill="#14274e"/>
<rect x="84" y="189" width="21" height="21" fill="#112346"/>
<rect x="105" y="189" width="21" height="21" fill="#0b162c"/>
<rect x="126" y="189" width="21" height="21" fill="#61c2ff"/>
<rect x="147" y="189" width="21" height="21" fill="#64c9ff"/>
<rect x="168" y="189" width="21" height="21" fill="#82ffff"/>
<rect x="189" y="189" width="21" height="21" fill="#64c8ff"/>
<rect x="210" y="189" width="21" height="21" fill="#6ad4ff"/>
<rect x="231" y="189" width="63" height="21" fill="#69d2ff"/>
<rect x="-42" y="210" width="63" height="21" fill="#152952"/>
<rect x="21" y="210" width="21" height="21" fill="#193264"/>
<rect x="42" y="210" width="21" height="21" fill="#12254a"/>
<rect x="63" y="210" width="21" height="21" fill="#162c58"/>
<rect x="84" y="210" width="21" height="21" fill="#0f1d3b"/>
<rect x="105" y="210" width="21" height="21" fill="#162b57"/>
<rect x="126" y="210" width="21" height="21" fill="#3060c0"/>
<rect x="147" y="210" width="21" height="21" fill="#53a6ff"/>
<rect x="168" y="210" width="21" height="21" fill="#010305"/>
<rect x="189" y="210" width="21" height="21" fill="#6ddbff"/>
<rect x="210" y="210" width="21" height="21" fill="#56adff"/>
<rect x="231" y="210" width="63" height="21" fill="#5bb5ff"/>
<rect x="-42" y="231" width="63" height="21" fill="#13264d"/>
<rect x="21" y="231" width="21" height="21" fill="#1a3467"/>
<rect x="42" y="231" width="21" height="21" fill="#13274e"/>
<rect x="63" y="231" width="21" height="21" fill="#142850"/>
<rect x="84" y="231" width="21" height="21" fill="#162b56"/>
<rect x="105" y="231" width="21" height="21" fill="#112345"/>
<rect x="126" y="231" width="21" height="21" fill="#214284"/>
<rect x="147" y="231" width="21" height="21" fill="#4991ff"/>
<rect x="168" y="231" width="21" height="21" fill="#61c3ff"/>
<rect x="189" y="231" width="21" height="21" fill="#83ffff"/>
<rect x="210" y="231" width="21" height="21" fill="#7dfaff"/>
<rect x="231" y="231" width="63" height="21" fill="#7efcff"/>
<rect x="-42" y="252" width="63" height="21" fill="#152b56"/>
<rect x="21" y="252" width="21" height="21" fill="#152a55"/>
<rect x="42" y="252" width="42" height="21" fill="#152a54"/>
<rect x="84" y="252" width="21" height="21" fill="#172f5d"/>
<rect x="105" y="252" width="21" height="21" fill="#102142"/>
<rect x="126" y="252" width="21" height="21" fill="#193265"/>
<rect x="147" y="252" width="21" height="21" fill="#1c3870"/>
<rect x="168" y="252" width="21" height="21" fill="#4c98ff"/>
<rect x="189" y="252" width="21" height="21" fill="#5ab4ff"/>
<rect x="210" y="252" width="21" height="21" fill="#57afff"/>
<rect x="231" y="252" width="63" height="21" fill="#58b0ff"/>
<rect x="-42" y="273" width="63" height="21" fill="#274f9e"/>
<rect x="21" y="273" width="21" height="21" fill="#224589"/>
<rect x="42" y="273" width="21" height="21" fill="#2a54a8"/>
<rect x="63" y="273" width="21" height="21" fill="#2850a0"/>
<rect x="84" y="273" width="21" height="21" fill="#22458a"/>
<rect x="105" y="273" width="21" height="21" fill="#1e3c78"/>
<rect x="126" y="273" width="21" height="21" fill="#1f3d7a"/>
<rect x="147" y="273" width="21" height="21" fill="#1d3973"/>
<rect x="168" y="273" width="21" height="21" fill="#63c5ff"/>
<rect x="189" y="273" width="21" height="21" fill="#78f0ff"/>
<rect x="210" y="273" width="21" height="21" fill="#74e9ff"/>
<rect x="231" y="273" width="63" height="21" fill="#75eaff"/>
<rect x="-42" y="294" width="63" height="21" fill="#2851a2"/>
<rect x="21" y="294" width="21" height="21" fill="#162d5a"/>
<rect x="42" y="294" width="21" height="21" fill="#3870e0"/>
<rect x="63" y="294" width="21" height="21" fill="#3972e5"/>
<rect x="84" y="294" width="21" height="21" fill="#3c79f2"/>
<rect x="105" y="294" width="21" height="21" fill="#3c78ef"/>
<rect x="126" y="294" width="21" height="21" fill="#4285ff"/>
<rect x="147" y="294" width="21" height="21" fill="#050a14"/>
<rect x="168" y="294" width="21" height="21" fill="#6fddff"/>
<rect x="189" y="294" width="21" height="21" fill="#92ffff"/>
<rect x="210" y="294" width="21" height="21" fill="#8affff"/>
<rect x="231" y="294" width="63" height="21" fill="#8bffff"/>
<rect x="-42" y="315" width="63" height="21" fill="#356bd5"/>
<rect x="21" y="315" width="21" height="21" fill="#13264c"/>
<rect x="42" y="315" width="21" height="21" fill="#2c58b0"/>
<rect x="63" y="315" width="21" height="21" fill="#4284ff"/>
<rect x="84" y="315" width="21" height="21" fill="#3263c6"/>
<rect x="105" y="315" width="21" height="21" fill="#3468cf"/>
<rect x="126" y="315" width="21" height="21" fill="#3264c9"/>
<rect x="147" y="315" width="21" height="21" fill="#182f5f"/>
<rect x="168" y="315" width="21" height="21" fill="#4e9bff"/>
<rect x="189" y="315" width="21" height="21" fill="#87ffff"/>
<rect x="210" y="315" width="21" height="21" fill="#83ffff"/>
<rect x="231" y="315" width="63" height="21" fill="#84ffff"/>
<rect x="-42" y="336" width="63" height="21" fill="#264c99"/>
<rect x="21" y="336" width="21" height="21" fill="#2951a3"/>
<rect x="42" y="336" width="21" height="21" fill="#59b2ff"/>
<rect x="63" y="336" width="21" height="21" fill="#2f5fbd"/>
<rect x="84" y="336" width="21" height="21" fill="#112142"/>
<rect x="105" y="336" width="21" height="21" fill="#1b366c"/>
<rect x="126" y="336" width="21" height="21" fill="#193366"/>
<rect x="147" y="336" width="21" height="21" fill="#3467ce"/>
<rect x="168" y="336" width="21" height="21" fill="#66ccff"/>
<rect x="189" y="336" width="21" height="21" fill="#8dffff"/>
<rect x="210" y="336" width="21" height="21" fill="#5ebbff"/>
<rect x="231" y="336" width="63" height="21" fill="#66ccff"/>
<rect x="-42" y="357" width="63" height="21" fill="#244890"/>
<rect x="21" y="357" width="21" height="21" fill="#214386"/>
<rect x="42" y="357" width="21" height="21" fill="#3162c4"/>
<rect x="63" y="357" width="21" height="21" fill="#2850a1"/>
<rect x="84" y="357" width="21" height="21" fill="#172e5c"/>
<rect x="105" y="357" width="21" height="21" fill="#224488"/>
<rect x="126" y="357" width="21" height="21" fill="#2952a3"/>
<rect x="147" y="357" width="21" height="21" fill="#3162c5"/>
<rect x="168" y="357" width="21" height="21" fill="#6ddaff"/>
<rect x="189" y="357" width="21" height="21" fill="#4b96ff"/>
<rect x="210" y="357" width="21" height="21" fill="#59b1ff"/>
<rect x="231" y="357" width="63" height="21" fill="#56acff"/>
<rect x="-42" y="378" width="63" height="21" fill="#224589"/>
<rect x="21" y="378" width="21" height="21" fill="#3a74e8"/>
<rect x="42" y="378" width="21" height="21" fill="#274e9c"/>
<rect x="63" y="378" width="21" height="21" fill="#1a3367"/>
<rect x="84" y="378" width="21" height="21" fill="#4181ff"/>
<rect x="105" y="378" width="21" height="21" fill="#23478d"/>
<rect x="126" y="378" width="21" height="21" fill="#24478e"/>
<rect x="147" y="378" width="21" height="21" fill="#4e9bff"/>
<rect x="168" y="378" width="21" height="21" fill="#6eddff"/>
<rect x="189" y="378" width="21" height="21" fill="#2d59b3"/>
<rect x="210" y="378" width="21" height="21" fill="#386fdf"/>
<rect x="231" y="378" width="63" height="21" fill="#366bd7"/>
<rect x="-42" y="399" width="63" height="21" fill="#3870e0"/>
<rect x="21" y="399" width="21" height="21" fill="#2e5bb6"/>
<rect x="42" y="399" width="21" height="21" fill="#1e3d7a"/>
<rect x="63" y="399" width="21" height="21" fill="#1c3870"/>
<rect x="84" y="399" width="21" height="21" fill="#264b96"/>
<rect x="105" y="399" width="21" height="21" fill="#2c57ae"/>
<rect x="126" y="399" width="21" height="21" fill="#4b95ff"/>
<rect x="147" y="399" width="21" height="21" fill="#74e9ff"/>
<rect x="168" y="399" width="21" height="21" fill="#5cb7ff"/>
<rect x="189" y="399" width="21" height="21" fill="#6ad3ff"/>
<rect x="210" y="399" width="21" height="21" fill="#67ceff"/>
<rect x="231" y="399" width="63" height="21" fill="#68cfff"/>
<rect x="-42" y="420" width="63" height="21" fill="#3870e0"/>
<rect x="21" y="420" width="21" height="21" fill="#2e5bb6"/>
<rect x="42" y="420" width="21" height="21" fill="#1e3d7a"/>
<rect x="63" y="420" width="21" height="21" fill="#1c3870"/>
<rect x="84" y="420" width="21" height="21" fill="#264b96"/>
<rect x="105" y="420" width="21" height="21" fill="#2c57ae"/>
<rect x="126" y="420" width="21" height="21" fill="#4b95ff"/>
<rect x="147" y="420" width="21" height="21" fill="#74e9ff"/>
<rect x="168" y="420" width="21" height="21" fill="#5cb7ff"/>
<rect x="189" y="420" width="21" height="21" fill="#6ad3ff"/>
<rect x="210" y="420" width="21" height="21" fill="#67ceff"/>
<rect x="231" y="420" width="63" height="21" fill="#68cfff"/>
<rect x="-42" y="441" width="63" height="21" fill="#3870e0"/>
<rect x="21" y="441" width="21" height="21" fill="#2e5bb6"/>
<rect x="42" y="441" width="21" height="21" fill="#1e3d7a"/>
<rect x="63" y="441" width="21" height="21" fill="#1c3870"/>
<rect x="84" y="441" width="21" height="21" fill="#264b96"/>
<rect x="105" y="441" width="21" height="21" fill="#2c57ae"/>
<rect x="126" y="441" width="21" height="21" fill="#4b95ff"/>
<rect x="147" y="441" width="21" height="21" fill="#74e9ff"/>
<rect x="168" y="441" width="21" height="21" fill="#5cb7ff"/>
<rect x="189" y="441" width="21" height="21" fill="#6ad3ff"/>
<rect x="210" y="441" width="21" height="21" fill="#67ceff"/>
<rect x="231" y="441" width="63" height="21" fill="#68cfff"/>
</g>
<use href="#land"/>
</g>
<use href="#dots"/>
<rect x="0" y="0" width="252" height="420" fill="none" stroke="#000" stroke-width="1.67"/>
<text class="tt" x="0" y="-11">Dia 2</text>
</g>
<g transform="translate(813,50)">
<g clip-path="url(#ax)">
<g filter="url(#cm)" shape-rendering="crispEdges">
<rect x="-42" y="-42" width="63" height="21" fill="#1b366c"/>
<rect x="21" y="-42" width="21" height="21" fill="#1d3b75"/>
<rect x="42" y="-42" width="21" height="21" fill="#112345"/>
<rect x="63" y="-42" width="21" height="21" fill="#2b56ac"/>
<rect x="84" y="-42" width="21" height="21" fill="#244992"/>
<rect x="105" y="-42" width="21" height="21" fill="#1f3d7a"/>
<rect x="126" y="-42" width="21" height="21" fill="#4181ff"/>
<rect x="147" y="-42" width="21" height="21" fill="#65caff"/>
<rect x="168" y="-42" width="21" height="21" fill="#8affff"/>
<rect x="189" y="-42" width="21" height="21" fill="#a6ffff"/>
<rect x="210" y="-42" width="21" height="21" fill="#7bf7ff"/>
<rect x="231" y="-42" width="63" height="21" fill="#83ffff"/>
<rect x="-42" y="-21" width="63" height="21" fill="#1b366c"/>
<rect x="21" y="-21" width="21" height="21" fill="#1d3b75"/>
<rect x="42" y="-21" width="21" height="21" fill="#112345"/>
<rect x="63" y="-21" width="21" height="21" fill="#2b56ac"/>
<rect x="84" y="-21" width="21" height="21" fill="#244992"/>
<rect x="105" y="-21" width="21" height="21" fill="#1f3d7a"/>
<rect x="126" y="-21" width="21" height="21" fill="#4181ff"/>
<rect x="147" y="-21" width="21" height="21" fill="#65caff"/>
<rect x="168" y="-21" width="21" height="21" fill="#8affff"/>
<rect x="189" y="-21" width="21" height="21" fill="#a6ffff"/>
<rect x="210" y="-21" width="21" height="21" fill="#7bf7ff"/>
<rect x="231" y="-21" width="63" height="21" fill="#83ffff"/>
<rect x="-42" y="0" width="63" height="21" fill="#1b366c"/>
<rect x="21" y="0" width="21" height="21" fill="#1d3b75"/>
<rect x="42" y="0" width="21" height="21" fill="#112345"/>
<rect x="63" y="0" width="21" height="21" fill="#2b56ac"/>
<rect x="84" y="0" width="21" height="21" fill="#244992"/>
<rect x="105" y="0" width="21" height="21" fill="#1f3d7a"/>
<rect x="126" y="0" width="21" height="21" fill="#4181ff"/>
<rect x="147" y="0" width="21" height="21" fill="#65caff"/>
<rect x="168" y="0" width="21" height="21" fill="#8affff"/>
<rect x="189" y="0" width="21" height="21" fill="#a6ffff"/>
<rect x="210" y="0" width="21" height="21" fill="#7bf7ff"/>
<rect x="231" y="0" width="63" height="21" fill="#83ffff"/>
<rect x="-42" y="21" width="63" height="21" fill="#183060"/>
<rect x="21" y="21" width="21" height="21" fill="#152a55"/>
<rect x="42" y="21" width="21" height="21" fill="#1e3c78"/>
<rect x="63" y="21" width="21" height="21" fill="#3264c7"/>
<rect x="84" y="21" width="21" height="21" fill="#20407f"/>
<rect x="105" y="21" width="21" height="21" fill="#24478f"/>
<rect x="126" y="21" width="21" height="21" fill="#3d7af5"/>
<rect x="147" y="21" width="21" height="21" fill="#77edff"/>
<rect x="168" y="21" width="21" height="21" fill="#b0ffff"/>
<rect x="189" y="21" width="21" height="21" fill="#cbffff"/>
<rect x="210" y="21" width="21" height="21" fill="#67cfff"/>
<rect x="231" y="21" width="63" height="21" fill="#79f3ff"/>
<rect x="-42" y="42" width="63" height="21" fill="#13264c"/>
<rect x="21" y="42" width="21" height="21" fill="#193162"/>
<rect x="42" y="42" width="21" height="21" fill="#1e3b77"/>
<rect x="63" y="42" width="21" height="21" fill="#23468c"/>
<rect x="84" y="42" width="21" height="21" fill="#2e5db9"/>
<rect x="105" y="42" width="21" height="21" fill="#2d5ab4"/>
<rect x="126" y="42" width="21" height="21" fill="#4181ff"/>
<rect x="147" y="42" width="21" height="21" fill="#458bff"/>
<rect x="168" y="42" width="21" height="21" fill="#4d99ff"/>
<rect x="189" y="42" width="21" height="21" fill="#4992ff"/>
<rect x="210" y="42" width="21" height="21" fill="#57aeff"/>
<rect x="231" y="42" width="63" height="21" fill="#55a9ff"/>
<rect x="-42" y="63" width="63" height="21" fill="#162c57"/>
<rect x="21" y="63" width="21" height="21" fill="#122448"/>
<rect x="42" y="63" width="21" height="21" fill="#1a3469"/>
<rect x="63" y="63" width="21" height="21" fill="#3f7efb"/>
<rect x="84" y="63" width="21" height="21" fill="#24478e"/>
<rect x="105" y="63" width="21" height="21" fill="#2a55a9"/>
<rect x="126" y="63" width="21" height="21" fill="#3263c6"/>
<rect x="147" y="63" width="21" height="21" fill="#55aaff"/>
<rect x="168" y="63" width="21" height="21" fill="#57aeff"/>
<rect x="189" y="63" width="21" height="21" fill="#81ffff"/>
<rect x="210" y="63" width="21" height="21" fill="#8effff"/>
<rect x="231" y="63" width="63" height="21" fill="#8cffff"/>
<rect x="-42" y="84" width="63" height="21" fill="#102040"/>
<rect x="21" y="84" width="21" height="21" fill="#13274e"/>
<rect x="42" y="84" width="21" height="21" fill="#1f3e7b"/>
<rect x="63" y="84" width="21" height="21" fill="#244890"/>
<rect x="84" y="84" width="21" height="21" fill="#1d3a74"/>
<rect x="105" y="84" width="21" height="21" fill="#274d9a"/>
<rect x="126" y="84" width="21" height="21" fill="#3467ce"/>
<rect x="147" y="84" width="21" height="21" fill="#7bf7ff"/>
<rect x="168" y="84" width="21" height="21" fill="#97ffff"/>
<rect x="189" y="84" width="21" height="21" fill="#76ecff"/>
<rect x="210" y="84" width="21" height="21" fill="#010305"/>
<rect x="231" y="84" width="63" height="21" fill="#122447"/>
<rect x="-42" y="105" width="63" height="21" fill="#112345"/>
<rect x="21" y="105" width="21" height="21" fill="#13264c"/>
<rect x="42" y="105" width="21" height="21" fill="#214182"/>
<rect x="63" y="105" width="21" height="21" fill="#1b366c"/>
<rect x="84" y="105" width="21" height="21" fill="#254a95"/>
<rect x="105" y="105" width="21" height="21" fill="#2952a5"/>
<rect x="126" y="105" width="21" height="21" fill="#1f3e7c"/>
<rect x="147" y="105" width="21" height="21" fill="#386fde"/>
<rect x="168" y="105" width="21" height="21" fill="#1f3f7e"/>
<rect x="189" y="105" width="105" height="21" fill="#4992ff"/>
<rect x="-42" y="126" width="63" height="21" fill="#102041"/>
<rect x="21" y="126" width="21" height="21" fill="#122447"/>
<rect x="42" y="126" width="21" height="21" fill="#214283"/>
<rect x="63" y="126" width="21" height="21" fill="#1b366c"/>
<rect x="84" y="126" width="21" height="21" fill="#2c57af"/>
<rect x="105" y="126" width="21" height="21" fill="#2a53a6"/>
<rect x="126" y="126" width="21" height="21" fill="#264d9a"/>
<rect x="147" y="126" width="21" height="21" fill="#366cd9"/>
<rect x="168" y="126" width="21" height="21" fill="#3972e4"/>
<rect x="189" y="126" width="21" height="21" fill="#c0ffff"/>
<rect x="210" y="126" width="21" height="21" fill="#3263c7"/>
<rect x="231" y="126" width="63" height="21" fill="#4c97ff"/>
<rect x="-42" y="147" width="63" height="21" fill="#152953"/>
<rect x="21" y="147" width="21" height="21" fill="#183060"/>
<rect x="42" y="147" width="21" height="21" fill="#1f3e7c"/>
<rect x="63" y="147" width="21" height="21" fill="#1d3b75"/>
<rect x="84" y="147" width="21" height="21" fill="#24478e"/>
<rect x="105" y="147" width="21" height="21" fill="#1b376d"/>
<rect x="126" y="147" width="21" height="21" fill="#224487"/>
<rect x="147" y="147" width="21" height="21" fill="#3467cf"/>
<rect x="168" y="147" width="21" height="21" fill="#59b1ff"/>
<rect x="189" y="147" width="21" height="21" fill="#5fbfff"/>
<rect x="210" y="147" width="21" height="21" fill="#74e8ff"/>
<rect x="231" y="147" width="63" height="21" fill="#70e1ff"/>
<rect x="-42" y="168" width="63" height="21" fill="#142951"/>
<rect x="21" y="168" width="21" height="21" fill="#152a54"/>
<rect x="42" y="168" width="21" height="21" fill="#214283"/>
<rect x="63" y="168" width="21" height="21" fill="#1c386f"/>
<rect x="84" y="168" width="21" height="21" fill="#152a54"/>
<rect x="105" y="168" width="21" height="21" fill="#193265"/>
<rect x="126" y="168" width="21" height="21" fill="#060c18"/>
<rect x="147" y="168" width="21" height="21" fill="#264c98"/>
<rect x="168" y="168" width="21" height="21" fill="#5db9ff"/>
<rect x="189" y="168" width="21" height="21" fill="#8cffff"/>
<rect x="210" y="168" width="21" height="21" fill="#7ffeff"/>
<rect x="231" y="168" width="63" height="21" fill="#82ffff"/>
<rect x="-42" y="189" width="63" height="21" fill="#122448"/>
<rect x="21" y="189" width="21" height="21" fill="#1e3c79"/>
<rect x="42" y="189" width="21" height="21" fill="#1c3870"/>
<rect x="63" y="189" width="21" height="21" fill="#112244"/>
<rect x="84" y="189" width="21" height="21" fill="#152a54"/>
<rect x="105" y="189" width="21" height="21" fill="#0c1830"/>
<rect x="126" y="189" width="21" height="21" fill="#6ad5ff"/>
<rect x="147" y="189" width="21" height="21" fill="#6bd5ff"/>
<rect x="168" y="189" width="21" height="21" fill="#8fffff"/>
<rect x="189" y="189" width="21" height="21" fill="#8effff"/>
<rect x="210" y="189" width="21" height="21" fill="#8fffff"/>
<rect x="231" y="189" width="63" height="21" fill="#8effff"/>
<rect x="-42" y="210" width="63" height="21" fill="#193163"/>
<rect x="21" y="210" width="21" height="21" fill="#162d5a"/>
<rect x="42" y="210" width="21" height="21" fill="#182f5f"/>
<rect x="63" y="210" width="21" height="21" fill="#14284f"/>
<rect x="84" y="210" width="21" height="21" fill="#172e5d"/>
<rect x="105" y="210" width="21" height="21" fill="#244890"/>
<rect x="126" y="210" width="21" height="21" fill="#356ad3"/>
<rect x="147" y="210" width="21" height="21" fill="#5dbaff"/>
<rect x="168" y="210" width="21" height="21" fill="#010305"/>
<rect x="189" y="210" width="21" height="21" fill="#7bf6ff"/>
<rect x="210" y="210" width="21" height="21" fill="#61c2ff"/>
<rect x="231" y="210" width="63" height="21" fill="#66ccff"/>
<rect x="-42" y="231" width="63" height="21" fill="#172e5d"/>
<rect x="21" y="231" width="21" height="21" fill="#162c58"/>
<rect x="42" y="231" width="21" height="21" fill="#193264"/>
<rect x="63" y="231" width="21" height="21" fill="#112346"/>
<rect x="84" y="231" width="21" height="21" fill="#193264"/>
<rect x="105" y="231" width="21" height="21" fill="#122449"/>
<rect x="126" y="231" width="21" height="21" fill="#254a93"/>
<rect x="147" y="231" width="21" height="21" fill="#458bff"/>
<rect x="168" y="231" width="21" height="21" fill="#62c5ff"/>
<rect x="189" y="231" width="21" height="21" fill="#7ffeff"/>
<rect x="210" y="231" width="21" height="21" fill="#79f3ff"/>
<rect x="231" y="231" width="63" height="21" fill="#7af5ff"/>
<rect x="-42" y="252" width="63" height="21" fill="#193162"/>
<rect x="21" y="252" width="21" height="21" fill="#204081"/>
<rect x="42" y="252" width="21" height="21" fill="#162d59"/>
<rect x="63" y="252" width="21" height="21" fill="#193365"/>
<rect x="84" y="252" width="21" height="21" fill="#1a356a"/>
<rect x="105" y="252" width="21" height="21" fill="#13254a"/>
<rect x="126" y="252" width="21" height="21" fill="#1d3a73"/>
<rect x="147" y="252" width="21" height="21" fill="#1d3b76"/>
<rect x="168" y="252" width="21" height="21" fill="#4a93ff"/>
<rect x="189" y="252" width="21" height="21" fill="#65caff"/>
<rect x="210" y="252" width="21" height="21" fill="#60bfff"/>
<rect x="231" y="252" width="63" height="21" fill="#61c1ff"/>
<rect x="-42" y="273" width="84" height="21" fill="#254a94"/>
<rect x="42" y="273" width="21" height="21" fill="#2e5db9"/>
<rect x="63" y="273" width="21" height="21" fill="#2c58af"/>
<rect x="84" y="273" width="21" height="21" fill="#254b96"/>
<rect x="105" y="273" width="21" height="21" fill="#2851a1"/>
<rect x="126" y="273" width="21" height="21" fill="#23478d"/>
<rect x="147" y="273" width="21" height="21" fill="#142851"/>
<rect x="168" y="273" width="21" height="21" fill="#64c8ff"/>
<rect x="189" y="273" width="21" height="21" fill="#7efbff"/>
<rect x="210" y="273" width="21" height="21" fill="#79f1ff"/>
<rect x="231" y="273" width="63" height="21" fill="#7af3ff"/>
<rect x="-42" y="294" width="63" height="21" fill="#2e5bb6"/>
<rect x="21" y="294" width="21" height="21" fill="#1a3469"/>
<rect x="42" y="294" width="21" height="21" fill="#366cd8"/>
<rect x="63" y="294" width="21" height="21" fill="#3a74e7"/>
<rect x="84" y="294" width="21" height="21" fill="#3b75ea"/>
<rect x="105" y="294" width="21" height="21" fill="#3a75e9"/>
<rect x="126" y="294" width="21" height="21" fill="#4284ff"/>
<rect x="147" y="294" width="21" height="21" fill="#0d1a34"/>
<rect x="168" y="294" width="21" height="21" fill="#65c9ff"/>
<rect x="189" y="294" width="21" height="21" fill="#a3ffff"/>
<rect x="210" y="294" width="21" height="21" fill="#97ffff"/>
<rect x="231" y="294" width="63" height="21" fill="#99ffff"/>
<rect x="-42" y="315" width="63" height="21" fill="#3264c9"/>
<rect x="21" y="315" width="21" height="21" fill="#1a3366"/>
<rect x="42" y="315" width="21" height="21" fill="#2e5bb6"/>
<rect x="63" y="315" width="21" height="21" fill="#3b77ee"/>
<rect x="84" y="315" width="21" height="21" fill="#3871e2"/>
<rect x="105" y="315" width="21" height="21" fill="#3467cf"/>
<rect x="126" y="315" width="21" height="21" fill="#2953a5"/>
<rect x="147" y="315" width="21" height="21" fill="#1c3971"/>
<rect x="168" y="315" width="21" height="21" fill="#65caff"/>
<rect x="189" y="315" width="21" height="21" fill="#9cffff"/>
<rect x="210" y="315" width="21" height="21" fill="#90ffff"/>
<rect x="231" y="315" width="63" height="21" fill="#92ffff"/>
<rect x="-42" y="336" width="63" height="21" fill="#2d5ab4"/>
<rect x="21" y="336" width="21" height="21" fill="#224589"/>
<rect x="42" y="336" width="21" height="21" fill="#54a7ff"/>
<rect x="63" y="336" width="21" height="21" fill="#2953a5"/>
<rect x="84" y="336" width="21" height="21" fill="#152a54"/>
<rect x="105" y="336" width="21" height="21" fill="#1e3b76"/>
<rect x="126" y="336" width="21" height="21" fill="#224489"/>
<rect x="147" y="336" width="21" height="21" fill="#3e7cf8"/>
<rect x="168" y="336" width="21" height="21" fill="#8effff"/>
<rect x="189" y="336" width="21" height="21" fill="#a1ffff"/>
<rect x="210" y="336" width="21" height="21" fill="#5ebcff"/>
<rect x="231" y="336" width="63" height="21" fill="#6ad4ff"/>
<rect x="-42" y="357" width="63" height="21" fill="#23468c"/>
<rect x="21" y="357" width="21" height="21" fill="#1b366c"/>
<rect x="42" y="357" width="21" height="21" fill="#3973e5"/>
<rect x="63" y="357" width="21" height="21" fill="#2c58b0"/>
<rect x="84" y="357" width="21" height="21" fill="#1c3971"/>
<rect x="105" y="357" width="21" height="21" fill="#254993"/>
<rect x="126" y="357" width="21" height="21" fill="#3366cd"/>
<rect x="147" y="357" width="21" height="21" fill="#3870e0"/>
<rect x="168" y="357" width="21" height="21" fill="#99ffff"/>
<rect x="189" y="357" width="21" height="21" fill="#4f9dff"/>
<rect x="210" y="357" width="21" height="21" fill="#69d2ff"/>
<rect x="231" y="357" width="63" height="21" fill="#64c8ff"/>
<rect x="-42" y="378" width="63" height="21" fill="#274e9c"/>
<rect x="21" y="378" width="21" height="21" fill="#3b76eb"/>
<rect x="42" y="378" width="21" height="21" fill="#23468d"/>
<rect x="63" y="378" width="21" height="21" fill="#20407f"/>
<rect x="84" y="378" width="21" height="21" fill="#3972e4"/>
<rect x="105" y="378" width="21" height="21" fill="#1e3c79"/>
<rect x="126" y="378" width="21" height="21" fill="#376ddb"/>
<rect x="147" y="378" width="21" height="21" fill="#5ab3ff"/>
<rect x="168" y="378" width="21" height="21" fill="#84ffff"/>
<rect x="189" y="378" width="21" height="21" fill="#3a74e8"/>
<rect x="210" y="378" width="21" height="21" fill="#468bff"/>
<rect x="231" y="378" width="63" height="21" fill="#4487ff"/>
<rect x="-42" y="399" width="63" height="21" fill="#3c78ef"/>
<rect x="21" y="399" width="21" height="21" fill="#2c58af"/>
<rect x="42" y="399" width="21" height="21" fill="#23478e"/>
<rect x="63" y="399" width="21" height="21" fill="#203f7e"/>
<rect x="84" y="399" width="21" height="21" fill="#244891"/>
<rect x="105" y="399" width="21" height="21" fill="#366bd6"/>
<rect x="126" y="399" width="21" height="21" fill="#4f9dff"/>
<rect x="147" y="399" width="21" height="21" fill="#7af4ff"/>
<rect x="168" y="399" width="21" height="21" fill="#60bfff"/>
<rect x="189" y="399" width="21" height="21" fill="#6fdeff"/>
<rect x="210" y="399" width="21" height="21" fill="#6cd9ff"/>
<rect x="231" y="399" width="63" height="21" fill="#6ddaff"/>
<rect x="-42" y="420" width="63" height="21" fill="#3c78ef"/>
<rect x="21" y="420" width="21" height="21" fill="#2c58af"/>
<rect x="42" y="420" width="21" height="21" fill="#23478e"/>
<rect x="63" y="420" width="21" height="21" fill="#203f7e"/>
<rect x="84" y="420" width="21" height="21" fill="#244891"/>
<rect x="105" y="420" width="21" height="21" fill="#366bd6"/>
<rect x="126" y="420" width="21" height="21" fill="#4f9dff"/>
<rect x="147" y="420" width="21" height="21" fill="#7af4ff"/>
<rect x="168" y="420" width="21" height="21" fill="#60bfff"/>
<rect x="189" y="420" width="21" height="21" fill="#6fdeff"/>
<rect x="210" y="420" width="21" height="21" fill="#6cd9ff"/>
<rect x="231" y="420" width="63" height="21" fill="#6ddaff"/>
<rect x="-42" y="441" width="63" height="21" fill="#3c78ef"/>
<rect x="21" y="441" width="21" height="21" fill="#2c58af"/>
<rect x="42" y="441" width="21" height="21" fill="#23478e"/>
<rect x="63" y="441" width="21" height="21" fill="#203f7e"/>
<rect x="84" y="441" width="21" height="21" fill="#244891"/>
<rect x="105" y="441" width="21" height="21" fill="#366bd6"/>
<rect x="126" y="441" width="21" height="21" fill="#4f9dff"/>
<rect x="147" y="441" width="21" height="21" fill="#7af4ff"/>
<rect x="168" y="441" width="21" height="21" fill="#60bfff"/>
<rect x="189" y="441" width="21" height="21" fill="#6fdeff"/>
<rect x="210" y="441" width="21" height="21" fill="#6cd9ff"/>
<rect x="231" y="441" width="63" height="21" fill="#6ddaff"/>
</g>
<use href="#land"/>
</g>
<use href="#dots"/>
<rect x="0" y="0" width="252" height="420" fill="none" stroke="#000" stroke-width="1.67"/>
<text class="tt" x="0" y="-11">Dia 3</text>
</g>
<g transform="translate(1173,50)">
<g clip-path="url(#ax)">
<g filter="url(#cm)" shape-rendering="crispEdges">
<rect x="-42" y="-42" width="63" height="21" fill="#1b366c"/>
<rect x="21" y="-42" width="21" height="21" fill="#1d3a73"/>
<rect x="42" y="-42" width="21" height="21" fill="#142850"/>
<rect x="63" y="-42" width="21" height="21" fill="#3569d3"/>
<rect x="84" y="-42" width="21" height="21" fill="#2850a1"/>
<rect x="105" y="-42" width="21" height="21" fill="#1f3e7c"/>
<rect x="126" y="-42" width="21" height="21" fill="#3d79f2"/>
<rect x="147" y="-42" width="21" height="21" fill="#73e6ff"/>
<rect x="168" y="-42" width="21" height="21" fill="#94ffff"/>
<rect x="189" y="-42" width="21" height="21" fill="#beffff"/>
<rect x="210" y="-42" width="21" height="21" fill="#8fffff"/>
<rect x="231" y="-42" width="63" height="21" fill="#98ffff"/>
<rect x="-42" y="-21" width="63" height="21" fill="#1b366c"/>
<rect x="21" y="-21" width="21" height="21" fill="#1d3a73"/>
<rect x="42" y="-21" width="21" height="21" fill="#142850"/>
<rect x="63" y="-21" width="21" height="21" fill="#3569d3"/>
<rect x="84" y="-21" width="21" height="21" fill="#2850a1"/>
<rect x="105" y="-21" width="21" height="21" fill="#1f3e7c"/>
<rect x="126" y="-21" width="21" height="21" fill="#3d79f2"/>
<rect x="147" y="-21" width="21" height="21" fill="#73e6ff"/>
<rect x="168" y="-21" width="21" height="21" fill="#94ffff"/>
<rect x="189" y="-21" width="21" height="21" fill="#beffff"/>
<rect x="210" y="-21" width="21" height="21" fill="#8fffff"/>
<rect x="231" y="-21" width="63" height="21" fill="#98ffff"/>
<rect x="-42" y="0" width="63" height="21" fill="#1b366c"/>
<rect x="21" y="0" width="21" height="21" fill="#1d3a73"/>
<rect x="42" y="0" width="21" height="21" fill="#142850"/>
<rect x="63" y="0" width="21" height="21" fill="#3569d3"/>
<rect x="84" y="0" width="21" height="21" fill="#2850a1"/>
<rect x="105" y="0" width="21" height="21" fill="#1f3e7c"/>
<rect x="126" y="0" width="21" height="21" fill="#3d79f2"/>
<rect x="147" y="0" width="21" height="21" fill="#73e6ff"/>
<rect x="168" y="0" width="21" height="21" fill="#94ffff"/>
<rect x="189" y="0" width="21" height="21" fill="#beffff"/>
<rect x="210" y="0" width="21" height="21" fill="#8fffff"/>
<rect x="231" y="0" width="63" height="21" fill="#98ffff"/>
<rect x="-42" y="21" width="63" height="21" fill="#183161"/>
<rect x="21" y="21" width="21" height="21" fill="#142951"/>
<rect x="42" y="21" width="21" height="21" fill="#23478d"/>
<rect x="63" y="21" width="21" height="21" fill="#2d5ab3"/>
<rect x="84" y="21" width="21" height="21" fill="#1e3c79"/>
<rect x="105" y="21" width="21" height="21" fill="#214385"/>
<rect x="126" y="21" width="21" height="21" fill="#4284ff"/>
<rect x="147" y="21" width="21" height="21" fill="#91ffff"/>
<rect x="168" y="21" width="21" height="21" fill="#bdffff"/>
<rect x="189" y="21" width="21" height="21" fill="#caffff"/>
<rect x="210" y="21" width="21" height="21" fill="#76edff"/>
<rect x="231" y="21" width="63" height="21" fill="#86ffff"/>
<rect x="-42" y="42" width="63" height="21" fill="#122449"/>
<rect x="21" y="42" width="21" height="21" fill="#172e5d"/>
<rect x="42" y="42" width="21" height="21" fill="#204181"/>
<rect x="63" y="42" width="21" height="21" fill="#2e5bb6"/>
<rect x="84" y="42" width="21" height="21" fill="#366cd9"/>
<rect x="105" y="42" width="21" height="21" fill="#3365ca"/>
<rect x="126" y="42" width="21" height="21" fill="#4e9bff"/>
<rect x="147" y="42" width="21" height="21" fill="#51a2ff"/>
<rect x="168" y="42" width="21" height="21" fill="#59b3ff"/>
<rect x="189" y="42" width="21" height="21" fill="#52a3ff"/>
<rect x="210" y="42" width="21" height="21" fill="#5dbaff"/>
<rect x="231" y="42" width="63" height="21" fill="#5bb6ff"/>
<rect x="-42" y="63" width="63" height="21" fill="#1a3367"/>
<rect x="21" y="63" width="21" height="21" fill="#162c57"/>
<rect x="42" y="63" width="21" height="21" fill="#1e3c78"/>
<rect x="63" y="63" width="21" height="21" fill="#3f7dfa"/>
<rect x="84" y="63" width="21" height="21" fill="#2a54a8"/>
<rect x="105" y="63" width="21" height="21" fill="#3a73e6"/>
<rect x="126" y="63" width="21" height="21" fill="#2e5db9"/>
<rect x="147" y="63" width="21" height="21" fill="#5dbbff"/>
<rect x="168" y="63" width="21" height="21" fill="#6edbff"/>
<rect x="189" y="63" width="21" height="21" fill="#77efff"/>
<rect x="210" y="63" width="21" height="21" fill="#90ffff"/>
<rect x="231" y="63" width="63" height="21" fill="#8bffff"/>
<rect x="-42" y="84" width="63" height="21" fill="#13264b"/>
<rect x="21" y="84" width="21" height="21" fill="#18305f"/>
<rect x="42" y="84" width="21" height="21" fill="#204081"/>
<rect x="63" y="84" width="21" height="21" fill="#2e5db9"/>
<rect x="84" y="84" width="21" height="21" fill="#203f7f"/>
<rect x="105" y="84" width="21" height="21" fill="#264b97"/>
<rect x="126" y="84" width="21" height="21" fill="#4283ff"/>
<rect x="147" y="84" width="21" height="21" fill="#6cd8ff"/>
<rect x="168" y="84" width="21" height="21" fill="#8effff"/>
<rect x="189" y="84" width="21" height="21" fill="#8affff"/>
<rect x="210" y="84" width="21" height="21" fill="#010305"/>
<rect x="231" y="84" width="63" height="21" fill="#0e1d39"/>
<rect x="-42" y="105" width="63" height="21" fill="#152a55"/>
<rect x="21" y="105" width="21" height="21" fill="#102041"/>
<rect x="42" y="105" width="21" height="21" fill="#264c98"/>
<rect x="63" y="105" width="21" height="21" fill="#1d3b75"/>
<rect x="84" y="105" width="21" height="21" fill="#23468d"/>
<rect x="105" y="105" width="21" height="21" fill="#2d5bb6"/>
<rect x="126" y="105" width="21" height="21" fill="#224589"/>
<rect x="147" y="105" width="21" height="21" fill="#366cd9"/>
<rect x="168" y="105" width="21" height="21" fill="#3163c6"/>
<rect x="189" y="105" width="21" height="21" fill="#6cd8ff"/>
<rect x="210" y="105" width="21" height="21" fill="#5ebcff"/>
<rect x="231" y="105" width="63" height="21" fill="#61c2ff"/>
<rect x="-42" y="126" width="63" height="21" fill="#152a53"/>
<rect x="21" y="126" width="21" height="21" fill="#122346"/>
<rect x="42" y="126" width="21" height="21" fill="#1f3d7a"/>
<rect x="63" y="126" width="21" height="21" fill="#214386"/>
<rect x="84" y="126" width="21" height="21" fill="#2a53a7"/>
<rect x="105" y="126" width="21" height="21" fill="#305fbe"/>
<rect x="126" y="126" width="21" height="21" fill="#254a94"/>
<rect x="147" y="126" width="21" height="21" fill="#356bd6"/>
<rect x="168" y="126" width="21" height="21" fill="#3e7cf7"/>
<rect x="189" y="126" width="21" height="21" fill="#c6ffff"/>
<rect x="210" y="126" width="21" height="21" fill="#468cff"/>
<rect x="231" y="126" width="63" height="21" fill="#5dbbff"/>
<rect x="-42" y="147" width="63" height="21" fill="#14284f"/>
<rect x="21" y="147" width="21" height="21" fill="#183060"/>
<rect x="42" y="147" width="21" height="21" fill="#1f3f7e"/>
<rect x="63" y="147" width="21" height="21" fill="#1c3870"/>
<rect x="84" y="147" width="21" height="21" fill="#24488f"/>
<rect x="105" y="147" width="21" height="21" fill="#1b356a"/>
<rect x="126" y="147" width="21" height="21" fill="#214284"/>
<rect x="147" y="147" width="21" height="21" fill="#3162c4"/>
<rect x="168" y="147" width="21" height="21" fill="#5ebbff"/>
<rect x="189" y="147" width="21" height="21" fill="#79f2ff"/>
<rect x="210" y="147" width="21" height="21" fill="#87ffff"/>
<rect x="231" y="147" width="63" height="21" fill="#85ffff"/>
<rect x="-42" y="168" width="63" height="21" fill="#152952"/>
<rect x="21" y="168" width="21" height="21" fill="#152a55"/>
<rect x="42" y="168" width="21" height="21" fill="#214183"/>
<rect x="63" y="168" width="21" height="21" fill="#1c3870"/>
<rect x="84" y="168" width="21" height="21" fill="#162b56"/>
<rect x="105" y="168" width="21" height="21" fill="#172e5d"/>
<rect x="126" y="168" width="21" height="21" fill="#0d1b35"/>
<rect x="147" y="168" width="21" height="21" fill="#2f5ebc"/>
<rect x="168" y="168" width="21" height="21" fill="#60c0ff"/>
<rect x="189" y="168" width="21" height="21" fill="#9dffff"/>
<rect x="210" y="168" width="21" height="21" fill="#8effff"/>
<rect x="231" y="168" width="63" height="21" fill="#91ffff"/>
<rect x="-42" y="189" width="63" height="21" fill="#112244"/>
<rect x="21" y="189" width="21" height="21" fill="#1d3b75"/>
<rect x="42" y="189" width="21" height="21" fill="#1c3971"/>
<rect x="63" y="189" width="21" height="21" fill="#102040"/>
<rect x="84" y="189" width="21" height="21" fill="#13264b"/>
<rect x="105" y="189" width="21" height="21" fill="#122449"/>
<rect x="126" y="189" width="21" height="21" fill="#61c2ff"/>
<rect x="147" y="189" width="21" height="21" fill="#51a2ff"/>
<rect x="168" y="189" width="21" height="21" fill="#96ffff"/>
<rect x="189" y="189" width="21" height="21" fill="#bcffff"/>
<rect x="210" y="189" width="21" height="21" fill="#b6ffff"/>
<rect x="231" y="189" width="63" height="21" fill="#b7ffff"/>
<rect x="-42" y="210" width="63" height="21" fill="#1d3b76"/>
<rect x="21" y="210" width="21" height="21" fill="#1b366c"/>
<rect x="42" y="210" width="21" height="21" fill="#162b57"/>
<rect x="63" y="210" width="21" height="21" fill="#1a3468"/>
<rect x="84" y="210" width="21" height="21" fill="#1a356a"/>
<rect x="105" y="210" width="21" height="21" fill="#2f5ebc"/>
<rect x="126" y="210" width="21" height="21" fill="#3060c1"/>
<rect x="147" y="210" width="21" height="21" fill="#60c1ff"/>
<rect x="168" y="210" width="21" height="21" fill="#010305"/>
<rect x="189" y="210" width="21" height="21" fill="#7ffdff"/>
<rect x="210" y="210" width="21" height="21" fill="#64c8ff"/>
<rect x="231" y="210" width="63" height="21" fill="#69d1ff"/>
<rect x="-42" y="231" width="63" height="21" fill="#152a55"/>
<rect x="21" y="231" width="21" height="21" fill="#1d3973"/>
<rect x="42" y="231" width="21" height="21" fill="#183060"/>
<rect x="63" y="231" width="21" height="21" fill="#112143"/>
<rect x="84" y="231" width="21" height="21" fill="#183161"/>
<rect x="105" y="231" width="21" height="21" fill="#112345"/>
<rect x="126" y="231" width="21" height="21" fill="#3b76eb"/>
<rect x="147" y="231" width="21" height="21" fill="#51a1ff"/>
<rect x="168" y="231" width="21" height="21" fill="#57aeff"/>
<rect x="189" y="231" width="21" height="21" fill="#78f0ff"/>
<rect x="210" y="231" width="21" height="21" fill="#72e3ff"/>
<rect x="231" y="231" width="63" height="21" fill="#73e6ff"/>
<rect x="-42" y="252" width="84" height="21" fill="#1a3366"/>
<rect x="42" y="252" width="21" height="21" fill="#182f5e"/>
<rect x="63" y="252" width="21" height="21" fill="#183162"/>
<rect x="84" y="252" width="21" height="21" fill="#193264"/>
<rect x="105" y="252" width="21" height="21" fill="#183161"/>
<rect x="126" y="252" width="21" height="21" fill="#1f3e7c"/>
<rect x="147" y="252" width="21" height="21" fill="#142951"/>
<rect x="168" y="252" width="21" height="21" fill="#458aff"/>
<rect x="189" y="252" width="21" height="21" fill="#5bb6ff"/>
<rect x="210" y="252" width="21" height="21" fill="#57aeff"/>
<rect x="231" y="252" width="63" height="21" fill="#58afff"/>
<rect x="-42" y="273" width="63" height="21" fill="#274e9b"/>
<rect x="21" y="273" width="21" height="21" fill="#1f3f7e"/>
<rect x="42" y="273" width="21" height="21" fill="#2f5fbe"/>
<rect x="63" y="273" width="21" height="21" fill="#3163c5"/>
<rect x="84" y="273" width="21" height="21" fill="#2952a3"/>
<rect x="105" y="273" width="21" height="21" fill="#264b96"/>
<rect x="126" y="273" width="21" height="21" fill="#23468b"/>
<rect x="147" y="273" width="21" height="21" fill="#1d3b75"/>
<rect x="168" y="273" width="21" height="21" fill="#54a8ff"/>
<rect x="189" y="273" width="21" height="21" fill="#8affff"/>
<rect x="210" y="273" width="21" height="21" fill="#80ffff"/>
<rect x="231" y="273" width="63" height="21" fill="#82ffff"/>
<rect x="-42" y="294" width="63" height="21" fill="#2952a3"/>
<rect x="21" y="294" width="21" height="21" fill="#1d3a74"/>
<rect x="42" y="294" width="21" height="21" fill="#2f5fbd"/>
<rect x="63" y="294" width="21" height="21" fill="#3870df"/>
<rect x="84" y="294" width="21" height="21" fill="#458bff"/>
<rect x="105" y="294" width="21" height="21" fill="#4081ff"/>
<rect x="126" y="294" width="21" height="21" fill="#3a74e8"/>
<rect x="147" y="294" width="21" height="21" fill="#162c58"/>
<rect x="168" y="294" width="21" height="21" fill="#69d2ff"/>
<rect x="189" y="294" width="21" height="21" fill="#b0ffff"/>
<rect x="210" y="294" width="21" height="21" fill="#a5ffff"/>
<rect x="231" y="294" width="63" height="21" fill="#a7ffff"/>
<rect x="-42" y="315" width="63" height="21" fill="#2d5bb6"/>
<rect x="21" y="315" width="21" height="21" fill="#1b376e"/>
<rect x="42" y="315" width="21" height="21" fill="#2e5db9"/>
<rect x="63" y="315" width="21" height="21" fill="#3c78f0"/>
<rect x="84" y="315" width="21" height="21" fill="#366cd8"/>
<rect x="105" y="315" width="21" height="21" fill="#3468d0"/>
<rect x="126" y="315" width="21" height="21" fill="#214284"/>
<rect x="147" y="315" width="21" height="21" fill="#264d9a"/>
<rect x="168" y="315" width="21" height="21" fill="#7ffeff"/>
<rect x="189" y="315" width="21" height="21" fill="#b2ffff"/>
<rect x="210" y="315" width="21" height="21" fill="#9bffff"/>
<rect x="231" y="315" width="63" height="21" fill="#9fffff"/>
<rect x="-42" y="336" width="63" height="21" fill="#2f5ebc"/>
<rect x="21" y="336" width="21" height="21" fill="#1b366c"/>
<rect x="42" y="336" width="21" height="21" fill="#55a9ff"/>
<rect x="63" y="336" width="21" height="21" fill="#2952a3"/>
<rect x="84" y="336" width="21" height="21" fill="#152a54"/>
<rect x="105" y="336" width="21" height="21" fill="#1e3d79"/>
<rect x="126" y="336" width="21" height="21" fill="#264c98"/>
<rect x="147" y="336" width="21" height="21" fill="#4c98ff"/>
<rect x="168" y="336" width="21" height="21" fill="#96ffff"/>
<rect x="189" y="336" width="21" height="21" fill="#afffff"/>
<rect x="210" y="336" width="21" height="21" fill="#6ddaff"/>
<rect x="231" y="336" width="63" height="21" fill="#79f2ff"/>
<rect x="-42" y="357" width="63" height="21" fill="#224387"/>
<rect x="21" y="357" width="21" height="21" fill="#1e3b76"/>
<rect x="42" y="357" width="21" height="21" fill="#3972e3"/>
<rect x="63" y="357" width="21" height="21" fill="#2d5ab4"/>
<rect x="84" y="357" width="21" height="21" fill="#1e3d79"/>
<rect x="105" y="357" width="21" height="21" fill="#1e3c77"/>
<rect x="126" y="357" width="21" height="21" fill="#3366cc"/>
<rect x="147" y="357" width="21" height="21" fill="#50a0ff"/>
<rect x="168" y="357" width="21" height="21" fill="#b3ffff"/>
<rect x="189" y="357" width="21" height="21" fill="#4b97ff"/>
<rect x="210" y="357" width="21" height="21" fill="#6bd6ff"/>
<rect x="231" y="357" width="63" height="21" fill="#65caff"/>
<rect x="-42" y="378" width="63" height="21" fill="#2d59b2"/>
<rect x="21" y="378" width="21" height="21" fill="#3468d0"/>
<rect x="42" y="378" width="21" height="21" fill="#254992"/>
<rect x="63" y="378" width="21" height="21" fill="#1a3468"/>
<rect x="84" y="378" width="21" height="21" fill="#3569d2"/>
<rect x="105" y="378" width="21" height="21" fill="#1f3e7c"/>
<rect x="126" y="378" width="21" height="21" fill="#3d7af4"/>
<rect x="147" y="378" width="21" height="21" fill="#6cd7ff"/>
<rect x="168" y="378" width="21" height="21" fill="#8effff"/>
<rect x="189" y="378" width="21" height="21" fill="#58afff"/>
<rect x="210" y="378" width="21" height="21" fill="#60c0ff"/>
<rect x="231" y="378" width="63" height="21" fill="#5ebdff"/>
<rect x="-42" y="399" width="63" height="21" fill="#4081ff"/>
<rect x="21" y="399" width="21" height="21" fill="#264b97"/>
<rect x="42" y="399" width="21" height="21" fill="#2a53a7"/>
<rect x="63" y="399" width="21" height="21" fill="#204081"/>
<rect x="84" y="399" width="21" height="21" fill="#204080"/>
<rect x="105" y="399" width="21" height="21" fill="#3468d0"/>
<rect x="126" y="399" width="21" height="21" fill="#5ab5ff"/>
<rect x="147" y="399" width="21" height="21" fill="#6ad5ff"/>
<rect x="168" y="399" width="21" height="21" fill="#61c1ff"/>
<rect x="189" y="399" width="21" height="21" fill="#6ad4ff"/>
<rect x="210" y="399" width="21" height="21" fill="#68d1ff"/>
<rect x="231" y="399" width="63" height="21" fill="#69d1ff"/>
<rect x="-42" y="420" width="63" height="21" fill="#4081ff"/>
<rect x="21" y="420" width="21" height="21" fill="#264b97"/>
<rect x="42" y="420" width="21" height="21" fill="#2a53a7"/>
<rect x="63" y="420" width="21" height="21" fill="#204081"/>
<rect x="84" y="420" width="21" height="21" fill="#204080"/>
<rect x="105" y="420" width="21" height="21" fill="#3468d0"/>
<rect x="126" y="420" width="21" height="21" fill="#5ab5ff"/>
<rect x="147" y="420" width="21" height="21" fill="#6ad5ff"/>
<rect x="168" y="420" width="21" height="21" fill="#61c1ff"/>
<rect x="189" y="420" width="21" height="21" fill="#6ad4ff"/>
<rect x="210" y="420" width="21" height="21" fill="#68d1ff"/>
<rect x="231" y="420" width="63" height="21" fill="#69d1ff"/>
<rect x="-42" y="441" width="63" height="21" fill="#4081ff"/>
<rect x="21" y="441" width="21" height="21" fill="#264b97"/>
<rect x="42" y="441" width="21" height="21" fill="#2a53a7"/>
<rect x="63" y="441" width="21" height="21" fill="#204081"/>
<rect x="84" y="441" width="21" height="21" fill="#204080"/>
<rect x="105" y="441" width="21" height="21" fill="#3468d0"/>
<rect x="126" y="441" width="21" height="21" fill="#5ab5ff"/>
<rect x="147" y="441" width="21" height="21" fill="#6ad5ff"/>
<rect x="168" y="441" width="21" height="21" fill="#61c1ff"/>
<rect x="189" y="441" width="21" height="21" fill="#6ad4ff"/>
<rect x="210" y="441" width="21" height="21" fill="#68d1ff"/>
<rect x="231" y="441" width="63" height="21" fill="#69d1ff"/>
</g>
<use href="#land"/>
</g>
<use href="#dots"/>
<rect x="0" y="0" width="252" height="420" fill="none" stroke="#000" stroke-width="1.67"/>
<text class="tt" x="0" y="-11">Dia 4</text>
</g>
<g transform="translate(1534,50)">
<g clip-path="url(#ax)">
<g filter="url(#cm)" shape-rendering="crispEdges">
<rect x="-42" y="-42" width="63" height="21" fill="#1f3e7d"/>
<rect x="21" y="-42" width="21" height="21" fill="#1f3f7e"/>
<rect x="42" y="-42" width="21" height="21" fill="#183162"/>
<rect x="63" y="-42" width="21" height="21" fill="#376edc"/>
<rect x="84" y="-42" width="21" height="21" fill="#2a55a9"/>
<rect x="105" y="-42" width="21" height="21" fill="#23468c"/>
<rect x="126" y="-42" width="21" height="21" fill="#3c77ef"/>
<rect x="147" y="-42" width="21" height="21" fill="#77efff"/>
<rect x="168" y="-42" width="21" height="21" fill="#a5ffff"/>
<rect x="189" y="-42" width="21" height="21" fill="#c2ffff"/>
<rect x="210" y="-42" width="21" height="21" fill="#9fffff"/>
<rect x="231" y="-42" width="63" height="21" fill="#a6ffff"/>
<rect x="-42" y="-21" width="63" height="21" fill="#1f3e7d"/>
<rect x="21" y="-21" width="21" height="21" fill="#1f3f7e"/>
<rect x="42" y="-21" width="21" height="21" fill="#183162"/>
<rect x="63" y="-21" width="21" height="21" fill="#376edc"/>
<rect x="84" y="-21" width="21" height="21" fill="#2a55a9"/>
<rect x="105" y="-21" width="21" height="21" fill="#23468c"/>
<rect x="126" y="-21" width="21" height="21" fill="#3c77ef"/>
<rect x="147" y="-21" width="21" height="21" fill="#77efff"/>
<rect x="168" y="-21" width="21" height="21" fill="#a5ffff"/>
<rect x="189" y="-21" width="21" height="21" fill="#c2ffff"/>
<rect x="210" y="-21" width="21" height="21" fill="#9fffff"/>
<rect x="231" y="-21" width="63" height="21" fill="#a6ffff"/>
<rect x="-42" y="0" width="63" height="21" fill="#1f3e7d"/>
<rect x="21" y="0" width="21" height="21" fill="#1f3f7e"/>
<rect x="42" y="0" width="21" height="21" fill="#183162"/>
<rect x="63" y="0" width="21" height="21" fill="#376edc"/>
<rect x="84" y="0" width="21" height="21" fill="#2a55a9"/>
<rect x="105" y="0" width="21" height="21" fill="#23468c"/>
<rect x="126" y="0" width="21" height="21" fill="#3c77ef"/>
<rect x="147" y="0" width="21" height="21" fill="#77efff"/>
<rect x="168" y="0" width="21" height="21" fill="#a5ffff"/>
<rect x="189" y="0" width="21" height="21" fill="#c2ffff"/>
<rect x="210" y="0" width="21" height="21" fill="#9fffff"/>
<rect x="231" y="0" width="63" height="21" fill="#a6ffff"/>
<rect x="-42" y="21" width="63" height="21" fill="#152b56"/>
<rect x="21" y="21" width="21" height="21" fill="#1b376d"/>
<rect x="42" y="21" width="21" height="21" fill="#1e3d7a"/>
<rect x="63" y="21" width="21" height="21" fill="#366bd6"/>
<rect x="84" y="21" width="21" height="21" fill="#274d9a"/>
<rect x="105" y="21" width="21" height="21" fill="#264b96"/>
<rect x="126" y="21" width="21" height="21" fill="#3972e4"/>
<rect x="147" y="21" width="21" height="21" fill="#a4ffff"/>
<rect x="168" y="21" width="21" height="21" fill="#c9ffff"/>
<rect x="189" y="21" width="21" height="21" fill="#ccffff"/>
<rect x="210" y="21" width="21" height="21" fill="#78f0ff"/>
<rect x="231" y="21" width="63" height="21" fill="#87ffff"/>
<rect x="-42" y="42" width="63" height="21" fill="#183162"/>
<rect x="21" y="42" width="21" height="21" fill="#13264d"/>
<rect x="42" y="42" width="21" height="21" fill="#254993"/>
<rect x="63" y="42" width="21" height="21" fill="#376edd"/>
<rect x="84" y="42" width="21" height="21" fill="#376edc"/>
<rect x="105" y="42" width="21" height="21" fill="#3468d0"/>
<rect x="126" y="42" width="21" height="21" fill="#64c8ff"/>
<rect x="147" y="42" width="21" height="21" fill="#5bb6ff"/>
<rect x="168" y="42" width="21" height="21" fill="#71e2ff"/>
<rect x="189" y="42" width="21" height="21" fill="#69d2ff"/>
<rect x="210" y="42" width="21" height="21" fill="#75eaff"/>
<rect x="231" y="42" width="63" height="21" fill="#73e5ff"/>
<rect x="-42" y="63" width="63" height="21" fill="#183060"/>
<rect x="21" y="63" width="21" height="21" fill="#1b366b"/>
<rect x="42" y="63" width="21" height="21" fill="#23468b"/>
<rect x="63" y="63" width="21" height="21" fill="#3b75ea"/>
<rect x="84" y="63" width="21" height="21" fill="#3162c4"/>
<rect x="105" y="63" width="21" height="21" fill="#366bd6"/>
<rect x="126" y="63" width="21" height="21" fill="#2e5db9"/>
<rect x="147" y="63" width="21" height="21" fill="#64c8ff"/>
<rect x="168" y="63" width="21" height="21" fill="#7bf7ff"/>
<rect x="189" y="63" width="21" height="21" fill="#83ffff"/>
<rect x="210" y="63" width="21" height="21" fill="#9dffff"/>
<rect x="231" y="63" width="63" height="21" fill="#98ffff"/>
<rect x="-42" y="84" width="63" height="21" fill="#112346"/>
<rect x="21" y="84" width="21" height="21" fill="#1d3972"/>
<rect x="42" y="84" width="21" height="21" fill="#1f3d7b"/>
<rect x="63" y="84" width="21" height="21" fill="#2e5db9"/>
<rect x="84" y="84" width="21" height="21" fill="#1d3a75"/>
<rect x="105" y="84" width="21" height="21" fill="#2e5cb9"/>
<rect x="126" y="84" width="21" height="21" fill="#468cff"/>
<rect x="147" y="84" width="21" height="21" fill="#67cdff"/>
<rect x="168" y="84" width="21" height="21" fill="#95ffff"/>
<rect x="189" y="84" width="21" height="21" fill="#90ffff"/>
<rect x="210" y="84" width="21" height="21" fill="#010305"/>
<rect x="231" y="84" width="63" height="21" fill="#112143"/>
<rect x="-42" y="105" width="63" height="21" fill="#193264"/>
<rect x="21" y="105" width="21" height="21" fill="#142952"/>
<rect x="42" y="105" width="21" height="21" fill="#23468c"/>
<rect x="63" y="105" width="21" height="21" fill="#244890"/>
<rect x="84" y="105" width="21" height="21" fill="#254993"/>
<rect x="105" y="105" width="21" height="21" fill="#1f3e7c"/>
<rect x="126" y="105" width="21" height="21" fill="#2953a5"/>
<rect x="147" y="105" width="21" height="21" fill="#3b77ee"/>
<rect x="168" y="105" width="21" height="21" fill="#3973e5"/>
<rect x="189" y="105" width="21" height="21" fill="#6edbff"/>
<rect x="210" y="105" width="21" height="21" fill="#78f1ff"/>
<rect x="231" y="105" width="63" height="21" fill="#76edff"/>
<rect x="-42" y="126" width="63" height="21" fill="#193264"/>
<rect x="21" y="126" width="21" height="21" fill="#142850"/>
<rect x="42" y="126" width="21" height="21" fill="#254a94"/>
<rect x="63" y="126" width="21" height="21" fill="#1f3e7b"/>
<rect x="84" y="126" width="21" height="21" fill="#2b56ac"/>
<rect x="105" y="126" width="21" height="21" fill="#2b57ad"/>
<rect x="126" y="126" width="21" height="21" fill="#274d9b"/>
<rect x="147" y="126" width="21" height="21" fill="#2c59b2"/>
<rect x="168" y="126" width="21" height="21" fill="#4488ff"/>
<rect x="189" y="126" width="21" height="21" fill="#dbffff"/>
<rect x="210" y="126" width="21" height="21" fill="#214283"/>
<rect x="231" y="126" width="63" height="21" fill="#4386ff"/>
<rect x="-42" y="147" width="63" height="21" fill="#112345"/>
<rect x="21" y="147" width="21" height="21" fill="#1d3b75"/>
<rect x="42" y="147" width="42" height="21" fill="#1d3a74"/>
<rect x="84" y="147" width="21" height="21" fill="#23458a"/>
<rect x="105" y="147" width="21" height="21" fill="#1b376e"/>
<rect x="126" y="147" width="21" height="21" fill="#204081"/>
<rect x="147" y="147" width="21" height="21" fill="#3161c2"/>
<rect x="168" y="147" width="21" height="21" fill="#61c2ff"/>
<rect x="189" y="147" width="21" height="21" fill="#98ffff"/>
<rect x="210" y="147" width="21" height="21" fill="#acffff"/>
<rect x="231" y="147" width="63" height="21" fill="#a8ffff"/>
<rect x="-42" y="168" width="63" height="21" fill="#193162"/>
<rect x="21" y="168" width="21" height="21" fill="#193163"/>
<rect x="42" y="168" width="21" height="21" fill="#204182"/>
<rect x="63" y="168" width="42" height="21" fill="#1b376d"/>
<rect x="105" y="168" width="21" height="21" fill="#162d59"/>
<rect x="126" y="168" width="21" height="21" fill="#112245"/>
<rect x="147" y="168" width="21" height="21" fill="#356ad4"/>
<rect x="168" y="168" width="21" height="21" fill="#62c4ff"/>
<rect x="189" y="168" width="21" height="21" fill="#bbffff"/>
<rect x="210" y="168" width="21" height="21" fill="#a5ffff"/>
<rect x="231" y="168" width="63" height="21" fill="#a9ffff"/>
<rect x="-42" y="189" width="63" height="21" fill="#152953"/>
<rect x="21" y="189" width="21" height="21" fill="#224489"/>
<rect x="42" y="189" width="21" height="21" fill="#1c376f"/>
<rect x="63" y="189" width="21" height="21" fill="#0e1c38"/>
<rect x="84" y="189" width="21" height="21" fill="#182f5e"/>
<rect x="105" y="189" width="21" height="21" fill="#112243"/>
<rect x="126" y="189" width="21" height="21" fill="#4890ff"/>
<rect x="147" y="189" width="21" height="21" fill="#4f9dff"/>
<rect x="168" y="189" width="21" height="21" fill="#9cffff"/>
<rect x="189" y="189" width="21" height="21" fill="#d7ffff"/>
<rect x="210" y="189" width="21" height="21" fill="#cdffff"/>
<rect x="231" y="189" width="63" height="21" fill="#cfffff"/>
<rect x="-42" y="210" width="63" height="21" fill="#1d3973"/>
<rect x="21" y="210" width="21" height="21" fill="#1a356a"/>
<rect x="42" y="210" width="21" height="21" fill="#152953"/>
<rect x="63" y="210" width="21" height="21" fill="#20407f"/>
<rect x="84" y="210" width="21" height="21" fill="#1f3e7b"/>
<rect x="105" y="210" width="21" height="21" fill="#2850a0"/>
<rect x="126" y="210" width="21" height="21" fill="#305fbf"/>
<rect x="147" y="210" width="21" height="21" fill="#79f1ff"/>
<rect x="168" y="210" width="21" height="21" fill="#010305"/>
<rect x="189" y="210" width="21" height="21" fill="#73e6ff"/>
<rect x="210" y="210" width="21" height="21" fill="#5ab4ff"/>
<rect x="231" y="210" width="63" height="21" fill="#5fbdff"/>
<rect x="-42" y="231" width="63" height="21" fill="#162b56"/>
<rect x="21" y="231" width="21" height="21" fill="#1c376e"/>
<rect x="42" y="231" width="21" height="21" fill="#193162"/>
<rect x="63" y="231" width="21" height="21" fill="#0e1d3a"/>
<rect x="84" y="231" width="21" height="21" fill="#1d3b76"/>
<rect x="105" y="231" width="21" height="21" fill="#152a54"/>
<rect x="126" y="231" width="21" height="21" fill="#4488ff"/>
<rect x="147" y="231" width="21" height="21" fill="#57adff"/>
<rect x="168" y="231" width="21" height="21" fill="#4c99ff"/>
<rect x="189" y="231" width="21" height="21" fill="#66ccff"/>
<rect x="210" y="231" width="21" height="21" fill="#61c3ff"/>
<rect x="231" y="231" width="63" height="21" fill="#62c4ff"/>
<rect x="-42" y="252" width="63" height="21" fill="#193162"/>
<rect x="21" y="252" width="21" height="21" fill="#204080"/>
<rect x="42" y="252" width="21" height="21" fill="#162c58"/>
<rect x="63" y="252" width="21" height="21" fill="#193365"/>
<rect x="84" y="252" width="21" height="21" fill="#172e5c"/>
<rect x="105" y="252" width="21" height="21" fill="#1d3a75"/>
<rect x="126" y="252" width="21" height="21" fill="#204081"/>
<rect x="147" y="252" width="21" height="21" fill="#1e3c79"/>
<rect x="168" y="252" width="21" height="21" fill="#488fff"/>
<rect x="189" y="252" width="21" height="21" fill="#61c1ff"/>
<rect x="210" y="252" width="21" height="21" fill="#5cb8ff"/>
<rect x="231" y="252" width="63" height="21" fill="#5dbaff"/>
<rect x="-42" y="273" width="63" height="21" fill="#274d9b"/>
<rect x="21" y="273" width="21" height="21" fill="#203f7f"/>
<rect x="42" y="273" width="21" height="21" fill="#3060bf"/>
<rect x="63" y="273" width="21" height="21" fill="#3162c4"/>
<rect x="84" y="273" width="21" height="21" fill="#2952a4"/>
<rect x="105" y="273" width="21" height="21" fill="#264c97"/>
<rect x="126" y="273" width="21" height="21" fill="#224489"/>
<rect x="147" y="273" width="21" height="21" fill="#224589"/>
<rect x="168" y="273" width="21" height="21" fill="#468cff"/>
<rect x="189" y="273" width="21" height="21" fill="#80ffff"/>
<rect x="210" y="273" width="21" height="21" fill="#74e9ff"/>
<rect x="231" y="273" width="63" height="21" fill="#76edff"/>
<rect x="-42" y="294" width="63" height="21" fill="#2a54a8"/>
<rect x="21" y="294" width="21" height="21" fill="#152b55"/>
<rect x="42" y="294" width="21" height="21" fill="#2f5ebc"/>
<rect x="63" y="294" width="21" height="21" fill="#3972e4"/>
<rect x="84" y="294" width="21" height="21" fill="#468cff"/>
<rect x="105" y="294" width="21" height="21" fill="#3b76ed"/>
<rect x="126" y="294" width="21" height="21" fill="#3366cd"/>
<rect x="147" y="294" width="21" height="21" fill="#1f3f7d"/>
<rect x="168" y="294" width="21" height="21" fill="#73e6ff"/>
<rect x="189" y="294" width="21" height="21" fill="#b8ffff"/>
<rect x="210" y="294" width="21" height="21" fill="#adffff"/>
<rect x="231" y="294" width="63" height="21" fill="#afffff"/>
<rect x="-42" y="315" width="63" height="21" fill="#2c57ae"/>
<rect x="21" y="315" width="21" height="21" fill="#224488"/>
<rect x="42" y="315" width="21" height="21" fill="#366dd9"/>
<rect x="63" y="315" width="21" height="21" fill="#3468d0"/>
<rect x="84" y="315" width="21" height="21" fill="#376fde"/>
<rect x="105" y="315" width="21" height="21" fill="#356bd5"/>
<rect x="126" y="315" width="21" height="21" fill="#1f3f7e"/>
<rect x="147" y="315" width="21" height="21" fill="#2f5dba"/>
<rect x="168" y="315" width="21" height="21" fill="#83ffff"/>
<rect x="189" y="315" width="21" height="21" fill="#c1ffff"/>
<rect x="210" y="315" width="21" height="21" fill="#aaffff"/>
<rect x="231" y="315" width="63" height="21" fill="#aeffff"/>
<rect x="-42" y="336" width="63" height="21" fill="#3468cf"/>
<rect x="21" y="336" width="21" height="21" fill="#1a3468"/>
<rect x="42" y="336" width="21" height="21" fill="#4d99ff"/>
<rect x="63" y="336" width="21" height="21" fill="#2c58af"/>
<rect x="84" y="336" width="21" height="21" fill="#142952"/>
<rect x="105" y="336" width="21" height="21" fill="#1d3b76"/>
<rect x="126" y="336" width="21" height="21" fill="#2a55a9"/>
<rect x="147" y="336" width="21" height="21" fill="#53a6ff"/>
<rect x="168" y="336" width="21" height="21" fill="#99ffff"/>
<rect x="189" y="336" width="21" height="21" fill="#c0ffff"/>
<rect x="210" y="336" width="21" height="21" fill="#6edbff"/>
<rect x="231" y="336" width="63" height="21" fill="#7dfaff"/>
<rect x="-42" y="357" width="63" height="21" fill="#254a94"/>
<rect x="21" y="357" width="21" height="21" fill="#1e3c78"/>
<rect x="42" y="357" width="21" height="21" fill="#3b76ec"/>
<rect x="63" y="357" width="21" height="21" fill="#2b56ac"/>
<rect x="84" y="357" width="21" height="21" fill="#204080"/>
<rect x="105" y="357" width="21" height="21" fill="#1d3b75"/>
<rect x="126" y="357" width="21" height="21" fill="#3469d2"/>
<rect x="147" y="357" width="21" height="21" fill="#58b0ff"/>
<rect x="168" y="357" width="21" height="21" fill="#c1ffff"/>
<rect x="189" y="357" width="21" height="21" fill="#58b0ff"/>
<rect x="210" y="357" width="21" height="21" fill="#7af4ff"/>
<rect x="231" y="357" width="63" height="21" fill="#74e7ff"/>
<rect x="-42" y="378" width="63" height="21" fill="#3264c9"/>
<rect x="21" y="378" width="21" height="21" fill="#2d5ab4"/>
<rect x="42" y="378" width="21" height="21" fill="#224589"/>
<rect x="63" y="378" width="21" height="21" fill="#214285"/>
<rect x="84" y="378" width="21" height="21" fill="#2d5ab4"/>
<rect x="105" y="378" width="21" height="21" fill="#1e3c78"/>
<rect x="126" y="378" width="21" height="21" fill="#4b96ff"/>
<rect x="147" y="378" width="21" height="21" fill="#62c3ff"/>
<rect x="168" y="378" width="21" height="21" fill="#acffff"/>
<rect x="189" y="378" width="21" height="21" fill="#61c3ff"/>
<rect x="210" y="378" width="21" height="21" fill="#6ddaff"/>
<rect x="231" y="378" width="63" height="21" fill="#6bd5ff"/>
<rect x="-42" y="399" width="63" height="21" fill="#407fff"/>
<rect x="21" y="399" width="21" height="21" fill="#254a94"/>
<rect x="42" y="399" width="21" height="21" fill="#3468cf"/>
<rect x="63" y="399" width="21" height="21" fill="#22458a"/>
<rect x="84" y="399" width="21" height="21" fill="#214183"/>
<rect x="105" y="399" width="21" height="21" fill="#3468d1"/>
<rect x="126" y="399" width="21" height="21" fill="#59b2ff"/>
<rect x="147" y="399" width="21" height="21" fill="#68d1ff"/>
<rect x="168" y="399" width="21" height="21" fill="#6edcff"/>
<rect x="189" y="399" width="21" height="21" fill="#76edff"/>
<rect x="210" y="399" width="21" height="21" fill="#75eaff"/>
<rect x="231" y="399" width="63" height="21" fill="#75ebff"/>
<rect x="-42" y="420" width="63" height="21" fill="#407fff"/>
<rect x="21" y="420" width="21" height="21" fill="#254a94"/>
<rect x="42" y="420" width="21" height="21" fill="#3468cf"/>
<rect x="63" y="420" width="21" height="21" fill="#22458a"/>
<rect x="84" y="420" width="21" height="21" fill="#214183"/>
<rect x="105" y="420" width="21" height="21" fill="#3468d1"/>
<rect x="126" y="420" width="21" height="21" fill="#59b2ff"/>
<rect x="147" y="420" width="21" height="21" fill="#68d1ff"/>
<rect x="168" y="420" width="21" height="21" fill="#6edcff"/>
<rect x="189" y="420" width="21" height="21" fill="#76edff"/>
<rect x="210" y="420" width="21" height="21" fill="#75eaff"/>
<rect x="231" y="420" width="63" height="21" fill="#75ebff"/>
<rect x="-42" y="441" width="63" height="21" fill="#407fff"/>
<rect x="21" y="441" width="21" height="21" fill="#254a94"/>
<rect x="42" y="441" width="21" height="21" fill="#3468cf"/>
<rect x="63" y="441" width="21" height="21" fill="#22458a"/>
<rect x="84" y="441" width="21" height="21" fill="#214183"/>
<rect x="105" y="441" width="21" height="21" fill="#3468d1"/>
<rect x="126" y="441" width="21" height="21" fill="#59b2ff"/>
<rect x="147" y="441" width="21" height="21" fill="#68d1ff"/>
<rect x="168" y="441" width="21" height="21" fill="#6edcff"/>
<rect x="189" y="441" width="21" height="21" fill="#76edff"/>
<rect x="210" y="441" width="21" height="21" fill="#75eaff"/>
<rect x="231" y="441" width="63" height="21" fill="#75ebff"/>
</g>
<use href="#land"/>
</g>
<use href="#dots"/>
<rect x="0" y="0" width="252" height="420" fill="none" stroke="#000" stroke-width="1.67"/>
<text class="tt" x="0" y="-11">Dia 5</text>
</g>
<g transform="translate(91,554)">
<g clip-path="url(#ax)">
<g filter="url(#cm)" shape-rendering="crispEdges">
<rect x="-42" y="-42" width="63" height="21" fill="#1f3f7d"/>
<rect x="21" y="-42" width="21" height="21" fill="#1f3f7e"/>
<rect x="42" y="-42" width="21" height="21" fill="#183161"/>
<rect x="63" y="-42" width="21" height="21" fill="#376fdd"/>
<rect x="84" y="-42" width="21" height="21" fill="#2953a5"/>
<rect x="105" y="-42" width="21" height="21" fill="#244890"/>
<rect x="126" y="-42" width="21" height="21" fill="#3870e0"/>
<rect x="147" y="-42" width="21" height="21" fill="#82ffff"/>
<rect x="168" y="-42" width="21" height="21" fill="#aaffff"/>
<rect x="189" y="-42" width="21" height="21" fill="#c9ffff"/>
<rect x="210" y="-42" width="21" height="21" fill="#a6ffff"/>
<rect x="231" y="-42" width="63" height="21" fill="#adffff"/>
<rect x="-42" y="-21" width="63" height="21" fill="#1f3f7d"/>
<rect x="21" y="-21" width="21" height="21" fill="#1f3f7e"/>
<rect x="42" y="-21" width="21" height="21" fill="#183161"/>
<rect x="63" y="-21" width="21" height="21" fill="#376fdd"/>
<rect x="84" y="-21" width="21" height="21" fill="#2953a5"/>
<rect x="105" y="-21" width="21" height="21" fill="#244890"/>
<rect x="126" y="-21" width="21" height="21" fill="#3870e0"/>
<rect x="147" y="-21" width="21" height="21" fill="#82ffff"/>
<rect x="168" y="-21" width="21" height="21" fill="#aaffff"/>
<rect x="189" y="-21" width="21" height="21" fill="#c9ffff"/>
<rect x="210" y="-21" width="21" height="21" fill="#a6ffff"/>
<rect x="231" y="-21" width="63" height="21" fill="#adffff"/>
<rect x="-42" y="0" width="63" height="21" fill="#1f3f7d"/>
<rect x="21" y="0" width="21" height="21" fill="#1f3f7e"/>
<rect x="42" y="0" width="21" height="21" fill="#183161"/>
<rect x="63" y="0" width="21" height="21" fill="#376fdd"/>
<rect x="84" y="0" width="21" height="21" fill="#2953a5"/>
<rect x="105" y="0" width="21" height="21" fill="#244890"/>
<rect x="126" y="0" width="21" height="21" fill="#3870e0"/>
<rect x="147" y="0" width="21" height="21" fill="#82ffff"/>
<rect x="168" y="0" width="21" height="21" fill="#aaffff"/>
<rect x="189" y="0" width="21" height="21" fill="#c9ffff"/>
<rect x="210" y="0" width="21" height="21" fill="#a6ffff"/>
<rect x="231" y="0" width="63" height="21" fill="#adffff"/>
<rect x="-42" y="21" width="63" height="21" fill="#152952"/>
<rect x="21" y="21" width="21" height="21" fill="#1b366d"/>
<rect x="42" y="21" width="21" height="21" fill="#1f3e7c"/>
<rect x="63" y="21" width="21" height="21" fill="#3367cd"/>
<rect x="84" y="21" width="21" height="21" fill="#2d5ab4"/>
<rect x="105" y="21" width="21" height="21" fill="#224589"/>
<rect x="126" y="21" width="21" height="21" fill="#468bff"/>
<rect x="147" y="21" width="21" height="21" fill="#9bffff"/>
<rect x="168" y="21" width="21" height="21" fill="#d3ffff"/>
<rect x="189" y="21" width="21" height="21" fill="#cdffff"/>
<rect x="210" y="21" width="21" height="21" fill="#7bf6ff"/>
<rect x="231" y="21" width="63" height="21" fill="#8affff"/>
<rect x="-42" y="42" width="63" height="21" fill="#1d3a73"/>
<rect x="21" y="42" width="21" height="21" fill="#14274e"/>
<rect x="42" y="42" width="21" height="21" fill="#24478f"/>
<rect x="63" y="42" width="21" height="21" fill="#3c78ef"/>
<rect x="84" y="42" width="21" height="21" fill="#3b76eb"/>
<rect x="105" y="42" width="21" height="21" fill="#3161c3"/>
<rect x="126" y="42" width="21" height="21" fill="#6ddaff"/>
<rect x="147" y="42" width="21" height="21" fill="#67cdff"/>
<rect x="168" y="42" width="21" height="21" fill="#71e2ff"/>
<rect x="189" y="42" width="21" height="21" fill="#89ffff"/>
<rect x="210" y="42" width="21" height="21" fill="#8fffff"/>
<rect x="231" y="42" width="63" height="21" fill="#8effff"/>
<rect x="-42" y="63" width="63" height="21" fill="#1d3a75"/>
<rect x="21" y="63" width="21" height="21" fill="#152952"/>
<rect x="42" y="63" width="21" height="21" fill="#23468d"/>
<rect x="63" y="63" width="21" height="21" fill="#3f7ffd"/>
<rect x="84" y="63" width="21" height="21" fill="#356ad4"/>
<rect x="105" y="63" width="21" height="21" fill="#3a75ea"/>
<rect x="126" y="63" width="21" height="21" fill="#2c59b2"/>
<rect x="147" y="63" width="21" height="21" fill="#5fbeff"/>
<rect x="168" y="63" width="21" height="21" fill="#8bffff"/>
<rect x="189" y="63" width="21" height="21" fill="#78f1ff"/>
<rect x="210" y="63" width="21" height="21" fill="#97ffff"/>
<rect x="231" y="63" width="63" height="21" fill="#91ffff"/>
<rect x="-42" y="84" width="63" height="21" fill="#13254a"/>
<rect x="21" y="84" width="21" height="21" fill="#172e5c"/>
<rect x="42" y="84" width="21" height="21" fill="#20407f"/>
<rect x="63" y="84" width="21" height="21" fill="#2c59b2"/>
<rect x="84" y="84" width="21" height="21" fill="#1a3468"/>
<rect x="105" y="84" width="21" height="21" fill="#3468d1"/>
<rect x="126" y="84" width="21" height="21" fill="#4589ff"/>
<rect x="147" y="84" width="21" height="21" fill="#6ad3ff"/>
<rect x="168" y="84" width="21" height="21" fill="#86ffff"/>
<rect x="189" y="84" width="21" height="21" fill="#9fffff"/>
<rect x="210" y="84" width="21" height="21" fill="#010305"/>
<rect x="231" y="84" width="63" height="21" fill="#1b366c"/>
<rect x="-42" y="105" width="63" height="21" fill="#13274d"/>
<rect x="21" y="105" width="21" height="21" fill="#172d5a"/>
<rect x="42" y="105" width="21" height="21" fill="#23468b"/>
<rect x="63" y="105" width="21" height="21" fill="#2953a6"/>
<rect x="84" y="105" width="21" height="21" fill="#2b56ac"/>
<rect x="105" y="105" width="21" height="21" fill="#1d3a74"/>
<rect x="126" y="105" width="21" height="21" fill="#2951a2"/>
<rect x="147" y="105" width="21" height="21" fill="#4183ff"/>
<rect x="168" y="105" width="21" height="21" fill="#2c57ae"/>
<rect x="189" y="105" width="21" height="21" fill="#71e3ff"/>
<rect x="210" y="105" width="21" height="21" fill="#76ebff"/>
<rect x="231" y="105" width="63" height="21" fill="#75eaff"/>
<rect x="-42" y="126" width="63" height="21" fill="#1a3467"/>
<rect x="21" y="126" width="21" height="21" fill="#152a53"/>
<rect x="42" y="126" width="21" height="21" fill="#1e3d79"/>
<rect x="63" y="126" width="21" height="21" fill="#1f3f7d"/>
<rect x="84" y="126" width="21" height="21" fill="#2850a1"/>
<rect x="105" y="126" width="21" height="21" fill="#2d59b3"/>
<rect x="126" y="126" width="21" height="21" fill="#244890"/>
<rect x="147" y="126" width="21" height="21" fill="#3a74e8"/>
<rect x="168" y="126" width="21" height="21" fill="#52a3ff"/>
<rect x="189" y="126" width="21" height="21" fill="#c7ffff"/>
<rect x="210" y="126" width="21" height="21" fill="#23468d"/>
<rect x="231" y="126" width="63" height="21" fill="#4182ff"/>
<rect x="-42" y="147" width="63" height="21" fill="#112345"/>
<rect x="21" y="147" width="21" height="21" fill="#1d3a74"/>
<rect x="42" y="147" width="21" height="21" fill="#1f3d7a"/>
<rect x="63" y="147" width="21" height="21" fill="#1c376f"/>
<rect x="84" y="147" width="21" height="21" fill="#2a54a8"/>
<rect x="105" y="147" width="21" height="21" fill="#193264"/>
<rect x="126" y="147" width="21" height="21" fill="#1f3e7b"/>
<rect x="147" y="147" width="21" height="21" fill="#3a75ea"/>
<rect x="168" y="147" width="21" height="21" fill="#64c9ff"/>
<rect x="189" y="147" width="105" height="21" fill="#b0ffff"/>
<rect x="-42" y="168" width="63" height="21" fill="#182f5e"/>
<rect x="21" y="168" width="21" height="21" fill="#193264"/>
<rect x="42" y="168" width="21" height="21" fill="#204081"/>
<rect x="63" y="168" width="21" height="21" fill="#1b366c"/>
<rect x="84" y="168" width="21" height="21" fill="#183060"/>
<rect x="105" y="168" width="21" height="21" fill="#1d3b76"/>
<rect x="126" y="168" width="21" height="21" fill="#112244"/>
<rect x="147" y="168" width="21" height="21" fill="#2e5cb9"/>
<rect x="168" y="168" width="21" height="21" fill="#60c1ff"/>
<rect x="189" y="168" width="21" height="21" fill="#c1ffff"/>
<rect x="210" y="168" width="21" height="21" fill="#acffff"/>
<rect x="231" y="168" width="63" height="21" fill="#b0ffff"/>
<rect x="-42" y="189" width="63" height="21" fill="#1b356a"/>
<rect x="21" y="189" width="21" height="21" fill="#214284"/>
<rect x="42" y="189" width="21" height="21" fill="#1b366c"/>
<rect x="63" y="189" width="21" height="21" fill="#13254b"/>
<rect x="84" y="189" width="21" height="21" fill="#1b376d"/>
<rect x="105" y="189" width="21" height="21" fill="#0f1e3b"/>
<rect x="126" y="189" width="21" height="21" fill="#4387ff"/>
<rect x="147" y="189" width="21" height="21" fill="#6ddaff"/>
<rect x="168" y="189" width="21" height="21" fill="#95ffff"/>
<rect x="189" y="189" width="21" height="21" fill="#d9ffff"/>
<rect x="210" y="189" width="21" height="21" fill="#cdffff"/>
<rect x="231" y="189" width="63" height="21" fill="#cfffff"/>
<rect x="-42" y="210" width="63" height="21" fill="#1a3569"/>
<rect x="21" y="210" width="21" height="21" fill="#1c3871"/>
<rect x="42" y="210" width="21" height="21" fill="#14284f"/>
<rect x="63" y="210" width="21" height="21" fill="#23478d"/>
<rect x="84" y="210" width="21" height="21" fill="#2952a4"/>
<rect x="105" y="210" width="21" height="21" fill="#2c57ae"/>
<rect x="126" y="210" width="21" height="21" fill="#3162c3"/>
<rect x="147" y="210" width="21" height="21" fill="#64c8ff"/>
<rect x="168" y="210" width="21" height="21" fill="#010305"/>
<rect x="189" y="210" width="21" height="21" fill="#66ccff"/>
<rect x="210" y="210" width="21" height="21" fill="#52a4ff"/>
<rect x="231" y="210" width="63" height="21" fill="#55abff"/>
<rect x="-42" y="231" width="63" height="21" fill="#1c3971"/>
<rect x="21" y="231" width="21" height="21" fill="#14284f"/>
<rect x="42" y="231" width="21" height="21" fill="#1a3469"/>
<rect x="63" y="231" width="21" height="21" fill="#0e1b37"/>
<rect x="84" y="231" width="21" height="21" fill="#1b366b"/>
<rect x="105" y="231" width="21" height="21" fill="#182f5e"/>
<rect x="126" y="231" width="21" height="21" fill="#4d9aff"/>
<rect x="147" y="231" width="21" height="21" fill="#59b3ff"/>
<rect x="168" y="231" width="21" height="21" fill="#4a94ff"/>
<rect x="189" y="231" width="21" height="21" fill="#68d0ff"/>
<rect x="210" y="231" width="21" height="21" fill="#62c5ff"/>
<rect x="231" y="231" width="63" height="21" fill="#63c7ff"/>
<rect x="-42" y="252" width="63" height="21" fill="#172f5e"/>
<rect x="21" y="252" width="21" height="21" fill="#214182"/>
<rect x="42" y="252" width="21" height="21" fill="#162c57"/>
<rect x="63" y="252" width="21" height="21" fill="#193366"/>
<rect x="84" y="252" width="21" height="21" fill="#162d5a"/>
<rect x="105" y="252" width="21" height="21" fill="#224488"/>
<rect x="126" y="252" width="21" height="21" fill="#244991"/>
<rect x="147" y="252" width="21" height="21" fill="#3a74e9"/>
<rect x="168" y="252" width="21" height="21" fill="#4488ff"/>
<rect x="189" y="252" width="21" height="21" fill="#65caff"/>
<rect x="210" y="252" width="21" height="21" fill="#5fbeff"/>
<rect x="231" y="252" width="63" height="21" fill="#60c0ff"/>
<rect x="-42" y="273" width="63" height="21" fill="#264c98"/>
<rect x="21" y="273" width="21" height="21" fill="#254a94"/>
<rect x="42" y="273" width="21" height="21" fill="#305fbe"/>
<rect x="63" y="273" width="21" height="21" fill="#3264c8"/>
<rect x="84" y="273" width="21" height="21" fill="#2952a3"/>
<rect x="105" y="273" width="21" height="21" fill="#254b96"/>
<rect x="126" y="273" width="21" height="21" fill="#204081"/>
<rect x="147" y="273" width="21" height="21" fill="#2a53a7"/>
<rect x="168" y="273" width="21" height="21" fill="#3b77ed"/>
<rect x="189" y="273" width="21" height="21" fill="#6cd7ff"/>
<rect x="210" y="273" width="21" height="21" fill="#63c6ff"/>
<rect x="231" y="273" width="63" height="21" fill="#65c9ff"/>
<rect x="-42" y="294" width="63" height="21" fill="#2953a6"/>
<rect x="21" y="294" width="21" height="21" fill="#1a356a"/>
<rect x="42" y="294" width="21" height="21" fill="#2a53a7"/>
<rect x="63" y="294" width="21" height="21" fill="#3569d2"/>
<rect x="84" y="294" width="21" height="21" fill="#478eff"/>
<rect x="105" y="294" width="21" height="21" fill="#3b77ee"/>
<rect x="126" y="294" width="21" height="21" fill="#2b56ad"/>
<rect x="147" y="294" width="21" height="21" fill="#2a54a7"/>
<rect x="168" y="294" width="21" height="21" fill="#73e6ff"/>
<rect x="189" y="294" width="21" height="21" fill="#bcffff"/>
<rect x="210" y="294" width="21" height="21" fill="#abffff"/>
<rect x="231" y="294" width="63" height="21" fill="#aeffff"/>
<rect x="-42" y="315" width="63" height="21" fill="#2953a6"/>
<rect x="21" y="315" width="21" height="21" fill="#2952a3"/>
<rect x="42" y="315" width="21" height="21" fill="#3061c2"/>
<rect x="63" y="315" width="21" height="21" fill="#3060c0"/>
<rect x="84" y="315" width="21" height="21" fill="#366bd6"/>
<rect x="105" y="315" width="21" height="21" fill="#3d79f3"/>
<rect x="126" y="315" width="21" height="21" fill="#1d3b75"/>
<rect x="147" y="315" width="21" height="21" fill="#3a74e8"/>
<rect x="168" y="315" width="21" height="21" fill="#80ffff"/>
<rect x="189" y="315" width="21" height="21" fill="#c4ffff"/>
<rect x="210" y="315" width="21" height="21" fill="#c7ffff"/>
<rect x="231" y="315" width="63" height="21" fill="#c6ffff"/>
<rect x="-42" y="336" width="63" height="21" fill="#3a74e7"/>
<rect x="21" y="336" width="21" height="21" fill="#172f5d"/>
<rect x="42" y="336" width="21" height="21" fill="#4e9dff"/>
<rect x="63" y="336" width="21" height="21" fill="#2b56ac"/>
<rect x="84" y="336" width="21" height="21" fill="#1c386f"/>
<rect x="105" y="336" width="21" height="21" fill="#1a3467"/>
<rect x="126" y="336" width="21" height="21" fill="#2a54a7"/>
<rect x="147" y="336" width="21" height="21" fill="#52a4ff"/>
<rect x="168" y="336" width="21" height="21" fill="#94ffff"/>
<rect x="189" y="336" width="21" height="21" fill="#d3ffff"/>
<rect x="210" y="336" width="21" height="21" fill="#77eeff"/>
<rect x="231" y="336" width="63" height="21" fill="#88ffff"/>
<rect x="-42" y="357" width="63" height="21" fill="#23458a"/>
<rect x="21" y="357" width="21" height="21" fill="#204181"/>
<rect x="42" y="357" width="21" height="21" fill="#3972e5"/>
<rect x="63" y="357" width="21" height="21" fill="#2c58b0"/>
<rect x="84" y="357" width="21" height="21" fill="#1c3972"/>
<rect x="105" y="357" width="21" height="21" fill="#23478e"/>
<rect x="126" y="357" width="21" height="21" fill="#3a73e7"/>
<rect x="147" y="357" width="21" height="21" fill="#56adff"/>
<rect x="168" y="357" width="21" height="21" fill="#c7ffff"/>
<rect x="189" y="357" width="21" height="21" fill="#63c5ff"/>
<rect x="210" y="357" width="21" height="21" fill="#85ffff"/>
<rect x="231" y="357" width="63" height="21" fill="#7efdff"/>
<rect x="-42" y="378" width="63" height="21" fill="#3972e5"/>
<rect x="21" y="378" width="21" height="21" fill="#24488f"/>
<rect x="42" y="378" width="21" height="21" fill="#2a54a8"/>
<rect x="63" y="378" width="21" height="21" fill="#1e3b77"/>
<rect x="84" y="378" width="21" height="21" fill="#3467ce"/>
<rect x="105" y="378" width="21" height="21" fill="#1c3871"/>
<rect x="126" y="378" width="21" height="21" fill="#4d99ff"/>
<rect x="147" y="378" width="21" height="21" fill="#5ebbff"/>
<rect x="168" y="378" width="21" height="21" fill="#bfffff"/>
<rect x="189" y="378" width="21" height="21" fill="#7cf7ff"/>
<rect x="210" y="378" width="21" height="21" fill="#85ffff"/>
<rect x="231" y="378" width="63" height="21" fill="#84ffff"/>
<rect x="-42" y="399" width="63" height="21" fill="#3f7dfb"/>
<rect x="21" y="399" width="21" height="21" fill="#254b96"/>
<rect x="42" y="399" width="21" height="21" fill="#376edd"/>
<rect x="63" y="399" width="21" height="21" fill="#264c99"/>
<rect x="84" y="399" width="21" height="21" fill="#254a93"/>
<rect x="105" y="399" width="21" height="21" fill="#3060c1"/>
<rect x="126" y="399" width="21" height="21" fill="#4f9eff"/>
<rect x="147" y="399" width="42" height="21" fill="#6bd6ff"/>
<rect x="189" y="399" width="21" height="21" fill="#72e5ff"/>
<rect x="210" y="399" width="21" height="21" fill="#71e3ff"/>
<rect x="231" y="399" width="63" height="21" fill="#72e3ff"/>
<rect x="-42" y="420" width="63" height="21" fill="#3f7dfb"/>
<rect x="21" y="420" width="21" height="21" fill="#254b96"/>
<rect x="42" y="420" width="21" height="21" fill="#376edd"/>
<rect x="63" y="420" width="21" height="21" fill="#264c99"/>
<rect x="84" y="420" width="21" height="21" fill="#254a93"/>
<rect x="105" y="420" width="21" height="21" fill="#3060c1"/>
<rect x="126" y="420" width="21" height="21" fill="#4f9eff"/>
<rect x="147" y="420" width="42" height="21" fill="#6bd6ff"/>
<rect x="189" y="420" width="21" height="21" fill="#72e5ff"/>
<rect x="210" y="420" width="21" height="21" fill="#71e3ff"/>
<rect x="231" y="420" width="63" height="21" fill="#72e3ff"/>
<rect x="-42" y="441" width="63" height="21" fill="#3f7dfb"/>
<rect x="21" y="441" width="21" height="21" fill="#254b96"/>
<rect x="42" y="441" width="21" height="21" fill="#376edd"/>
<rect x="63" y="441" width="21" height="21" fill="#264c99"/>
<rect x="84" y="441" width="21" height="21" fill="#254a93"/>
<rect x="105" y="441" width="21" height="21" fill="#3060c1"/>
<rect x="126" y="441" width="21" height="21" fill="#4f9eff"/>
<rect x="147" y="441" width="42" height="21" fill="#6bd6ff"/>
<rect x="189" y="441" width="21" height="21" fill="#72e5ff"/>
<rect x="210" y="441" width="21" height="21" fill="#71e3ff"/>
<rect x="231" y="441" width="63" height="21" fill="#72e3ff"/>
</g>
<use href="#land"/>
</g>
<use href="#dots"/>
<rect x="0" y="0" width="252" height="420" fill="none" stroke="#000" stroke-width="1.67"/>
<path d="M-7.3,0 H0 M-7.3,70 H0 M-7.3,140 H0 M-7.3,210 H0 M-7.3,280 H0 M-7.3,350 H0 M-7.3,420 H0 M60,420 v7.3 M180,420 v7.3" stroke="#000" stroke-width="1.67" fill="none"/>
<text class="tk" x="-14.6" y="9.6" text-anchor="end">28°<tspan class="i">S</tspan></text>
<text class="tk" x="-14.6" y="79.6" text-anchor="end">29°<tspan class="i">S</tspan></text>
<text class="tk" x="-14.6" y="149.6" text-anchor="end">30°<tspan class="i">S</tspan></text>
<text class="tk" x="-14.6" y="219.6" text-anchor="end">31°<tspan class="i">S</tspan></text>
<text class="tk" x="-14.6" y="289.6" text-anchor="end">32°<tspan class="i">S</tspan></text>
<text class="tk" x="-14.6" y="359.6" text-anchor="end">33°<tspan class="i">S</tspan></text>
<text class="tk" x="-14.6" y="429.6" text-anchor="end">34°<tspan class="i">S</tspan></text>
<text class="tk" x="59.3" y="455" text-anchor="middle">74°<tspan class="i">W</tspan></text>
<text class="tk" x="179.3" y="455" text-anchor="middle">72°<tspan class="i">W</tspan></text>
<text class="tt" x="0" y="-11">Dia 6</text>
</g>
<g transform="translate(452,554)">
<g clip-path="url(#ax)">
<g filter="url(#cm)" shape-rendering="crispEdges">
<rect x="-42" y="-42" width="63" height="21" fill="#1f3f7d"/>
<rect x="21" y="-42" width="21" height="21" fill="#1f3f7e"/>
<rect x="42" y="-42" width="21" height="21" fill="#193162"/>
<rect x="63" y="-42" width="21" height="21" fill="#376dda"/>
<rect x="84" y="-42" width="21" height="21" fill="#2952a3"/>
<rect x="105" y="-42" width="21" height="21" fill="#28509f"/>
<rect x="126" y="-42" width="21" height="21" fill="#4284ff"/>
<rect x="147" y="-42" width="21" height="21" fill="#7bf5ff"/>
<rect x="168" y="-42" width="21" height="21" fill="#aaffff"/>
<rect x="189" y="-42" width="21" height="21" fill="#c6ffff"/>
<rect x="210" y="-42" width="21" height="21" fill="#afffff"/>
<rect x="231" y="-42" width="63" height="21" fill="#b3ffff"/>
<rect x="-42" y="-21" width="63" height="21" fill="#1f3f7d"/>
<rect x="21" y="-21" width="21" height="21" fill="#1f3f7e"/>
<rect x="42" y="-21" width="21" height="21" fill="#193162"/>
<rect x="63" y="-21" width="21" height="21" fill="#376dda"/>
<rect x="84" y="-21" width="21" height="21" fill="#2952a3"/>
<rect x="105" y="-21" width="21" height="21" fill="#28509f"/>
<rect x="126" y="-21" width="21" height="21" fill="#4284ff"/>
<rect x="147" y="-21" width="21" height="21" fill="#7bf5ff"/>
<rect x="168" y="-21" width="21" height="21" fill="#aaffff"/>
<rect x="189" y="-21" width="21" height="21" fill="#c6ffff"/>
<rect x="210" y="-21" width="21" height="21" fill="#afffff"/>
<rect x="231" y="-21" width="63" height="21" fill="#b3ffff"/>
<rect x="-42" y="0" width="63" height="21" fill="#1f3f7d"/>
<rect x="21" y="0" width="21" height="21" fill="#1f3f7e"/>
<rect x="42" y="0" width="21" height="21" fill="#193162"/>
<rect x="63" y="0" width="21" height="21" fill="#376dda"/>
<rect x="84" y="0" width="21" height="21" fill="#2952a3"/>
<rect x="105" y="0" width="21" height="21" fill="#28509f"/>
<rect x="126" y="0" width="21" height="21" fill="#4284ff"/>
<rect x="147" y="0" width="21" height="21" fill="#7bf5ff"/>
<rect x="168" y="0" width="21" height="21" fill="#aaffff"/>
<rect x="189" y="0" width="21" height="21" fill="#c6ffff"/>
<rect x="210" y="0" width="21" height="21" fill="#afffff"/>
<rect x="231" y="0" width="63" height="21" fill="#b3ffff"/>
<rect x="-42" y="21" width="63" height="21" fill="#152952"/>
<rect x="21" y="21" width="21" height="21" fill="#1b376d"/>
<rect x="42" y="21" width="21" height="21" fill="#1e3c77"/>
<rect x="63" y="21" width="21" height="21" fill="#3972e5"/>
<rect x="84" y="21" width="21" height="21" fill="#2c57ae"/>
<rect x="105" y="21" width="21" height="21" fill="#1f3d7a"/>
<rect x="126" y="21" width="21" height="21" fill="#4489ff"/>
<rect x="147" y="21" width="21" height="21" fill="#bdffff"/>
<rect x="168" y="21" width="42" height="21" fill="#d6ffff"/>
<rect x="210" y="21" width="21" height="21" fill="#81ffff"/>
<rect x="231" y="21" width="63" height="21" fill="#90ffff"/>
<rect x="-42" y="42" width="63" height="21" fill="#1d3973"/>
<rect x="21" y="42" width="21" height="21" fill="#14284f"/>
<rect x="42" y="42" width="21" height="21" fill="#23468d"/>
<rect x="63" y="42" width="21" height="21" fill="#3f7ffe"/>
<rect x="84" y="42" width="21" height="21" fill="#3d7af5"/>
<rect x="105" y="42" width="21" height="21" fill="#3c78f1"/>
<rect x="126" y="42" width="21" height="21" fill="#8affff"/>
<rect x="147" y="42" width="21" height="21" fill="#71e1ff"/>
<rect x="168" y="42" width="21" height="21" fill="#74e8ff"/>
<rect x="189" y="42" width="21" height="21" fill="#8fffff"/>
<rect x="210" y="42" width="21" height="21" fill="#95ffff"/>
<rect x="231" y="42" width="63" height="21" fill="#94ffff"/>
<rect x="-42" y="63" width="63" height="21" fill="#1d3b76"/>
<rect x="21" y="63" width="21" height="21" fill="#14274f"/>
<rect x="42" y="63" width="21" height="21" fill="#214285"/>
<rect x="63" y="63" width="21" height="21" fill="#4488ff"/>
<rect x="84" y="63" width="21" height="21" fill="#3870e1"/>
<rect x="105" y="63" width="21" height="21" fill="#4080ff"/>
<rect x="126" y="63" width="21" height="21" fill="#376edc"/>
<rect x="147" y="63" width="21" height="21" fill="#63c5ff"/>
<rect x="168" y="63" width="21" height="21" fill="#9fffff"/>
<rect x="189" y="63" width="21" height="21" fill="#7ffdff"/>
<rect x="210" y="63" width="21" height="21" fill="#9dffff"/>
<rect x="231" y="63" width="63" height="21" fill="#97ffff"/>
<rect x="-42" y="84" width="63" height="21" fill="#112346"/>
<rect x="21" y="84" width="21" height="21" fill="#1d3972"/>
<rect x="42" y="84" width="21" height="21" fill="#254b95"/>
<rect x="63" y="84" width="21" height="21" fill="#2c58b0"/>
<rect x="84" y="84" width="21" height="21" fill="#183061"/>
<rect x="105" y="84" width="21" height="21" fill="#3a73e7"/>
<rect x="126" y="84" width="21" height="21" fill="#4283ff"/>
<rect x="147" y="84" width="21" height="21" fill="#67cdff"/>
<rect x="168" y="84" width="21" height="21" fill="#8effff"/>
<rect x="189" y="84" width="21" height="21" fill="#97ffff"/>
<rect x="210" y="84" width="21" height="21" fill="#081121"/>
<rect x="231" y="84" width="63" height="21" fill="#23458a"/>
<rect x="-42" y="105" width="63" height="21" fill="#152952"/>
<rect x="21" y="105" width="21" height="21" fill="#152a54"/>
<rect x="42" y="105" width="21" height="21" fill="#23468c"/>
<rect x="63" y="105" width="21" height="21" fill="#23468b"/>
<rect x="84" y="105" width="21" height="21" fill="#2d59b2"/>
<rect x="105" y="105" width="21" height="21" fill="#1c376f"/>
<rect x="126" y="105" width="21" height="21" fill="#2b55aa"/>
<rect x="147" y="105" width="21" height="21" fill="#4181ff"/>
<rect x="168" y="105" width="21" height="21" fill="#3366cc"/>
<rect x="189" y="105" width="21" height="21" fill="#7af3ff"/>
<rect x="210" y="105" width="21" height="21" fill="#73e5ff"/>
<rect x="231" y="105" width="63" height="21" fill="#74e8ff"/>
<rect x="-42" y="126" width="63" height="21" fill="#142851"/>
<rect x="21" y="126" width="21" height="21" fill="#162c59"/>
<rect x="42" y="126" width="21" height="21" fill="#1e3c79"/>
<rect x="63" y="126" width="21" height="21" fill="#214182"/>
<rect x="84" y="126" width="21" height="21" fill="#2850a0"/>
<rect x="105" y="126" width="21" height="21" fill="#2d59b3"/>
<rect x="126" y="126" width="21" height="21" fill="#1e3d79"/>
<rect x="147" y="126" width="21" height="21" fill="#356ad4"/>
<rect x="168" y="126" width="21" height="21" fill="#5ab4ff"/>
<rect x="189" y="126" width="21" height="21" fill="#d9ffff"/>
<rect x="210" y="126" width="21" height="21" fill="#1e3d7a"/>
<rect x="231" y="126" width="63" height="21" fill="#4181ff"/>
<rect x="-42" y="147" width="63" height="21" fill="#12254a"/>
<rect x="21" y="147" width="21" height="21" fill="#1d3a73"/>
<rect x="42" y="147" width="21" height="21" fill="#1f3d7a"/>
<rect x="63" y="147" width="21" height="21" fill="#1c386f"/>
<rect x="84" y="147" width="21" height="21" fill="#2851a2"/>
<rect x="105" y="147" width="21" height="21" fill="#1f3f7e"/>
<rect x="126" y="147" width="21" height="21" fill="#214182"/>
<rect x="147" y="147" width="21" height="21" fill="#3162c5"/>
<rect x="168" y="147" width="21" height="21" fill="#61c1ff"/>
<rect x="189" y="147" width="21" height="21" fill="#c3ffff"/>
<rect x="210" y="147" width="21" height="21" fill="#b6ffff"/>
<rect x="231" y="147" width="63" height="21" fill="#b8ffff"/>
<rect x="-42" y="168" width="63" height="21" fill="#172f5d"/>
<rect x="21" y="168" width="21" height="21" fill="#193264"/>
<rect x="42" y="168" width="21" height="21" fill="#214182"/>
<rect x="63" y="168" width="21" height="21" fill="#1b356b"/>
<rect x="84" y="168" width="21" height="21" fill="#1a3569"/>
<rect x="105" y="168" width="21" height="21" fill="#1c376e"/>
<rect x="126" y="168" width="21" height="21" fill="#13264c"/>
<rect x="147" y="168" width="21" height="21" fill="#264c98"/>
<rect x="168" y="168" width="21" height="21" fill="#61c3ff"/>
<rect x="189" y="168" width="21" height="21" fill="#c7ffff"/>
<rect x="210" y="168" width="21" height="21" fill="#b3ffff"/>
<rect x="231" y="168" width="63" height="21" fill="#b7ffff"/>
<rect x="-42" y="189" width="63" height="21" fill="#1a356a"/>
<rect x="21" y="189" width="21" height="21" fill="#214386"/>
<rect x="42" y="189" width="21" height="21" fill="#1a3366"/>
<rect x="63" y="189" width="21" height="21" fill="#14274f"/>
<rect x="84" y="189" width="42" height="21" fill="#112244"/>
<rect x="126" y="189" width="21" height="21" fill="#4387ff"/>
<rect x="147" y="189" width="21" height="21" fill="#60c0ff"/>
<rect x="168" y="189" width="21" height="21" fill="#95ffff"/>
<rect x="189" y="189" width="21" height="21" fill="#dfffff"/>
<rect x="210" y="189" width="21" height="21" fill="#d1ffff"/>
<rect x="231" y="189" width="63" height="21" fill="#d4ffff"/>
<rect x="-42" y="210" width="63" height="21" fill="#1b366c"/>
<rect x="21" y="210" width="21" height="21" fill="#1a3367"/>
<rect x="42" y="210" width="21" height="21" fill="#1b356a"/>
<rect x="63" y="210" width="21" height="21" fill="#254a94"/>
<rect x="84" y="210" width="21" height="21" fill="#3d7bf5"/>
<rect x="105" y="210" width="21" height="21" fill="#264c99"/>
<rect x="126" y="210" width="21" height="21" fill="#3a74e8"/>
<rect x="147" y="210" width="21" height="21" fill="#71e1ff"/>
<rect x="168" y="210" width="21" height="21" fill="#010305"/>
<rect x="189" y="210" width="21" height="21" fill="#79f2ff"/>
<rect x="210" y="210" width="21" height="21" fill="#61c2ff"/>
<rect x="231" y="210" width="63" height="21" fill="#65cbff"/>
<rect x="-42" y="231" width="63" height="21" fill="#1a3469"/>
<rect x="21" y="231" width="21" height="21" fill="#1b366c"/>
<rect x="42" y="231" width="21" height="21" fill="#172d5b"/>
<rect x="63" y="231" width="21" height="21" fill="#0b172d"/>
<rect x="84" y="231" width="21" height="21" fill="#1d3a74"/>
<rect x="105" y="231" width="21" height="21" fill="#152a55"/>
<rect x="126" y="231" width="21" height="21" fill="#58b0ff"/>
<rect x="147" y="231" width="21" height="21" fill="#59b2ff"/>
<rect x="168" y="231" width="21" height="21" fill="#55aaff"/>
<rect x="189" y="231" width="21" height="21" fill="#6cd7ff"/>
<rect x="210" y="231" width="21" height="21" fill="#67cfff"/>
<rect x="231" y="231" width="63" height="21" fill="#68d0ff"/>
<rect x="-42" y="252" width="63" height="21" fill="#1d3a75"/>
<rect x="21" y="252" width="21" height="21" fill="#1e3c78"/>
<rect x="42" y="252" width="21" height="21" fill="#1d3a74"/>
<rect x="63" y="252" width="21" height="21" fill="#1f3e7b"/>
<rect x="84" y="252" width="21" height="21" fill="#1c376e"/>
<rect x="105" y="252" width="21" height="21" fill="#214285"/>
<rect x="126" y="252" width="21" height="21" fill="#23478e"/>
<rect x="147" y="252" width="21" height="21" fill="#3b77ee"/>
<rect x="168" y="252" width="21" height="21" fill="#4182ff"/>
<rect x="189" y="252" width="21" height="21" fill="#6cd8ff"/>
<rect x="210" y="252" width="21" height="21" fill="#64c8ff"/>
<rect x="231" y="252" width="63" height="21" fill="#65cbff"/>
<rect x="-42" y="273" width="63" height="21" fill="#264c97"/>
<rect x="21" y="273" width="21" height="21" fill="#214283"/>
<rect x="42" y="273" width="21" height="21" fill="#2a55aa"/>
<rect x="63" y="273" width="21" height="21" fill="#2c59b1"/>
<rect x="84" y="273" width="21" height="21" fill="#2951a2"/>
<rect x="105" y="273" width="21" height="21" fill="#264d99"/>
<rect x="126" y="273" width="21" height="21" fill="#1b366b"/>
<rect x="147" y="273" width="21" height="21" fill="#254b96"/>
<rect x="168" y="273" width="21" height="21" fill="#386fde"/>
<rect x="189" y="273" width="21" height="21" fill="#7dfaff"/>
<rect x="210" y="273" width="21" height="21" fill="#70e0ff"/>
<rect x="231" y="273" width="63" height="21" fill="#72e5ff"/>
<rect x="-42" y="294" width="63" height="21" fill="#2952a5"/>
<rect x="21" y="294" width="21" height="21" fill="#162d5a"/>
<rect x="42" y="294" width="21" height="21" fill="#2951a2"/>
<rect x="63" y="294" width="21" height="21" fill="#3162c4"/>
<rect x="84" y="294" width="21" height="21" fill="#4890ff"/>
<rect x="105" y="294" width="21" height="21" fill="#3c79f1"/>
<rect x="126" y="294" width="21" height="21" fill="#2d59b3"/>
<rect x="147" y="294" width="21" height="21" fill="#2850a0"/>
<rect x="168" y="294" width="21" height="21" fill="#79f3ff"/>
<rect x="189" y="294" width="21" height="21" fill="#cbffff"/>
<rect x="210" y="294" width="21" height="21" fill="#bbffff"/>
<rect x="231" y="294" width="63" height="21" fill="#beffff"/>
<rect x="-42" y="315" width="63" height="21" fill="#305fbf"/>
<rect x="21" y="315" width="21" height="21" fill="#254b95"/>
<rect x="42" y="315" width="21" height="21" fill="#264c98"/>
<rect x="63" y="315" width="21" height="21" fill="#2c58b1"/>
<rect x="84" y="315" width="21" height="21" fill="#376fde"/>
<rect x="105" y="315" width="21" height="21" fill="#366cd8"/>
<rect x="126" y="315" width="21" height="21" fill="#1c3971"/>
<rect x="147" y="315" width="21" height="21" fill="#4080ff"/>
<rect x="168" y="315" width="21" height="21" fill="#8fffff"/>
<rect x="189" y="315" width="21" height="21" fill="#c7ffff"/>
<rect x="210" y="315" width="21" height="21" fill="#c1ffff"/>
<rect x="231" y="315" width="63" height="21" fill="#c2ffff"/>
<rect x="-42" y="336" width="63" height="21" fill="#3870e0"/>
<rect x="21" y="336" width="21" height="21" fill="#122448"/>
<rect x="42" y="336" width="21" height="21" fill="#52a4ff"/>
<rect x="63" y="336" width="21" height="21" fill="#2c58af"/>
<rect x="84" y="336" width="21" height="21" fill="#1b376d"/>
<rect x="105" y="336" width="21" height="21" fill="#1b366b"/>
<rect x="126" y="336" width="21" height="21" fill="#2c58b0"/>
<rect x="147" y="336" width="21" height="21" fill="#61c1ff"/>
<rect x="168" y="336" width="21" height="21" fill="#adffff"/>
<rect x="189" y="336" width="21" height="21" fill="#e0ffff"/>
<rect x="210" y="336" width="21" height="21" fill="#7cf8ff"/>
<rect x="231" y="336" width="63" height="21" fill="#8effff"/>
<rect x="-42" y="357" width="63" height="21" fill="#2b56ad"/>
<rect x="21" y="357" width="21" height="21" fill="#1e3c78"/>
<rect x="42" y="357" width="21" height="21" fill="#3870e1"/>
<rect x="63" y="357" width="21" height="21" fill="#2b55ab"/>
<rect x="84" y="357" width="21" height="21" fill="#1e3d79"/>
<rect x="105" y="357" width="21" height="21" fill="#214285"/>
<rect x="126" y="357" width="21" height="21" fill="#3d7bf5"/>
<rect x="147" y="357" width="21" height="21" fill="#63c5ff"/>
<rect x="168" y="357" width="21" height="21" fill="#d1ffff"/>
<rect x="189" y="357" width="21" height="21" fill="#73e7ff"/>
<rect x="210" y="357" width="21" height="21" fill="#96ffff"/>
<rect x="231" y="357" width="63" height="21" fill="#90ffff"/>
<rect x="-42" y="378" width="63" height="21" fill="#4489ff"/>
<rect x="21" y="378" width="21" height="21" fill="#2b55aa"/>
<rect x="42" y="378" width="21" height="21" fill="#2e5cb8"/>
<rect x="63" y="378" width="21" height="21" fill="#24478f"/>
<rect x="84" y="378" width="21" height="21" fill="#2c57af"/>
<rect x="105" y="378" width="21" height="21" fill="#1e3d79"/>
<rect x="126" y="378" width="21" height="21" fill="#66ccff"/>
<rect x="147" y="378" width="21" height="21" fill="#74e9ff"/>
<rect x="168" y="378" width="21" height="21" fill="#ceffff"/>
<rect x="189" y="378" width="21" height="21" fill="#72e3ff"/>
<rect x="210" y="378" width="21" height="21" fill="#80ffff"/>
<rect x="231" y="378" width="63" height="21" fill="#7dfbff"/>
<rect x="-42" y="399" width="63" height="21" fill="#4386ff"/>
<rect x="21" y="399" width="21" height="21" fill="#3366cc"/>
<rect x="42" y="399" width="21" height="21" fill="#3366cb"/>
<rect x="63" y="399" width="21" height="21" fill="#2b56ad"/>
<rect x="84" y="399" width="21" height="21" fill="#254a94"/>
<rect x="105" y="399" width="21" height="21" fill="#3060c0"/>
<rect x="126" y="399" width="21" height="21" fill="#67ceff"/>
<rect x="147" y="399" width="21" height="21" fill="#74e7ff"/>
<rect x="168" y="399" width="21" height="21" fill="#78efff"/>
<rect x="189" y="399" width="21" height="21" fill="#83ffff"/>
<rect x="210" y="399" width="84" height="21" fill="#81ffff"/>
<rect x="-42" y="420" width="63" height="21" fill="#4386ff"/>
<rect x="21" y="420" width="21" height="21" fill="#3366cc"/>
<rect x="42" y="420" width="21" height="21" fill="#3366cb"/>
<rect x="63" y="420" width="21" height="21" fill="#2b56ad"/>
<rect x="84" y="420" width="21" height="21" fill="#254a94"/>
<rect x="105" y="420" width="21" height="21" fill="#3060c0"/>
<rect x="126" y="420" width="21" height="21" fill="#67ceff"/>
<rect x="147" y="420" width="21" height="21" fill="#74e7ff"/>
<rect x="168" y="420" width="21" height="21" fill="#78efff"/>
<rect x="189" y="420" width="21" height="21" fill="#83ffff"/>
<rect x="210" y="420" width="84" height="21" fill="#81ffff"/>
<rect x="-42" y="441" width="63" height="21" fill="#4386ff"/>
<rect x="21" y="441" width="21" height="21" fill="#3366cc"/>
<rect x="42" y="441" width="21" height="21" fill="#3366cb"/>
<rect x="63" y="441" width="21" height="21" fill="#2b56ad"/>
<rect x="84" y="441" width="21" height="21" fill="#254a94"/>
<rect x="105" y="441" width="21" height="21" fill="#3060c0"/>
<rect x="126" y="441" width="21" height="21" fill="#67ceff"/>
<rect x="147" y="441" width="21" height="21" fill="#74e7ff"/>
<rect x="168" y="441" width="21" height="21" fill="#78efff"/>
<rect x="189" y="441" width="21" height="21" fill="#83ffff"/>
<rect x="210" y="441" width="84" height="21" fill="#81ffff"/>
</g>
<use href="#land"/>
</g>
<use href="#dots"/>
<rect x="0" y="0" width="252" height="420" fill="none" stroke="#000" stroke-width="1.67"/>
<path d="M60,420 v7.3 M180,420 v7.3" stroke="#000" stroke-width="1.67" fill="none"/>
<text class="tk" x="59.3" y="455" text-anchor="middle">74°<tspan class="i">W</tspan></text>
<text class="tk" x="179.3" y="455" text-anchor="middle">72°<tspan class="i">W</tspan></text>
<text class="tt" x="0" y="-11">Dia 7</text>
</g>
<g transform="translate(813,554)">
<g clip-path="url(#ax)">
<g filter="url(#cm)" shape-rendering="crispEdges">
<rect x="-42" y="-42" width="63" height="21" fill="#1f3f7d"/>
<rect x="21" y="-42" width="21" height="21" fill="#1f3e7b"/>
<rect x="42" y="-42" width="21" height="21" fill="#1c3971"/>
<rect x="63" y="-42" width="21" height="21" fill="#3a75ea"/>
<rect x="84" y="-42" width="21" height="21" fill="#274e9d"/>
<rect x="105" y="-42" width="21" height="21" fill="#2c59b2"/>
<rect x="126" y="-42" width="21" height="21" fill="#478eff"/>
<rect x="147" y="-42" width="21" height="21" fill="#80ffff"/>
<rect x="168" y="-42" width="21" height="21" fill="#b5ffff"/>
<rect x="189" y="-42" width="21" height="21" fill="#c2ffff"/>
<rect x="210" y="-42" width="21" height="21" fill="#bfffff"/>
<rect x="231" y="-42" width="63" height="21" fill="#c0ffff"/>
<rect x="-42" y="-21" width="63" height="21" fill="#1f3f7d"/>
<rect x="21" y="-21" width="21" height="21" fill="#1f3e7b"/>
<rect x="42" y="-21" width="21" height="21" fill="#1c3971"/>
<rect x="63" y="-21" width="21" height="21" fill="#3a75ea"/>
<rect x="84" y="-21" width="21" height="21" fill="#274e9d"/>
<rect x="105" y="-21" width="21" height="21" fill="#2c59b2"/>
<rect x="126" y="-21" width="21" height="21" fill="#478eff"/>
<rect x="147" y="-21" width="21" height="21" fill="#80ffff"/>
<rect x="168" y="-21" width="21" height="21" fill="#b5ffff"/>
<rect x="189" y="-21" width="21" height="21" fill="#c2ffff"/>
<rect x="210" y="-21" width="21" height="21" fill="#bfffff"/>
<rect x="231" y="-21" width="63" height="21" fill="#c0ffff"/>
<rect x="-42" y="0" width="63" height="21" fill="#1f3f7d"/>
<rect x="21" y="0" width="21" height="21" fill="#1f3e7b"/>
<rect x="42" y="0" width="21" height="21" fill="#1c3971"/>
<rect x="63" y="0" width="21" height="21" fill="#3a75ea"/>
<rect x="84" y="0" width="21" height="21" fill="#274e9d"/>
<rect x="105" y="0" width="21" height="21" fill="#2c59b2"/>
<rect x="126" y="0" width="21" height="21" fill="#478eff"/>
<rect x="147" y="0" width="21" height="21" fill="#80ffff"/>
<rect x="168" y="0" width="21" height="21" fill="#b5ffff"/>
<rect x="189" y="0" width="21" height="21" fill="#c2ffff"/>
<rect x="210" y="0" width="21" height="21" fill="#bfffff"/>
<rect x="231" y="0" width="63" height="21" fill="#c0ffff"/>
<rect x="-42" y="21" width="63" height="21" fill="#152a53"/>
<rect x="21" y="21" width="21" height="21" fill="#1a3366"/>
<rect x="42" y="21" width="21" height="21" fill="#224387"/>
<rect x="63" y="21" width="21" height="21" fill="#3e7bf7"/>
<rect x="84" y="21" width="21" height="21" fill="#2c58b0"/>
<rect x="105" y="21" width="21" height="21" fill="#1a3366"/>
<rect x="126" y="21" width="21" height="21" fill="#58b1ff"/>
<rect x="147" y="21" width="21" height="21" fill="#c4ffff"/>
<rect x="168" y="21" width="21" height="21" fill="#ceffff"/>
<rect x="189" y="21" width="21" height="21" fill="#caffff"/>
<rect x="210" y="21" width="21" height="21" fill="#8cffff"/>
<rect x="231" y="21" width="63" height="21" fill="#97ffff"/>
<rect x="-42" y="42" width="63" height="21" fill="#1c3870"/>
<rect x="21" y="42" width="21" height="21" fill="#193162"/>
<rect x="42" y="42" width="21" height="21" fill="#274d9a"/>
<rect x="63" y="42" width="21" height="21" fill="#3f7ffd"/>
<rect x="84" y="42" width="21" height="21" fill="#3569d3"/>
<rect x="105" y="42" width="21" height="21" fill="#5fbdff"/>
<rect x="126" y="42" width="21" height="21" fill="#90ffff"/>
<rect x="147" y="42" width="21" height="21" fill="#6fddff"/>
<rect x="168" y="42" width="21" height="21" fill="#90ffff"/>
<rect x="189" y="42" width="21" height="21" fill="#beffff"/>
<rect x="210" y="42" width="84" height="21" fill="#bdffff"/>
<rect x="-42" y="63" width="63" height="21" fill="#1d3973"/>
<rect x="21" y="63" width="21" height="21" fill="#183060"/>
<rect x="42" y="63" width="21" height="21" fill="#264d99"/>
<rect x="63" y="63" width="21" height="21" fill="#4183ff"/>
<rect x="84" y="63" width="21" height="21" fill="#4488ff"/>
<rect x="105" y="63" width="21" height="21" fill="#4182ff"/>
<rect x="126" y="63" width="21" height="21" fill="#5fbfff"/>
<rect x="147" y="63" width="21" height="21" fill="#7cf8ff"/>
<rect x="168" y="63" width="21" height="21" fill="#9cffff"/>
<rect x="189" y="63" width="21" height="21" fill="#89ffff"/>
<rect x="210" y="63" width="21" height="21" fill="#a5ffff"/>
<rect x="231" y="63" width="63" height="21" fill="#a0ffff"/>
<rect x="-42" y="84" width="63" height="21" fill="#122346"/>
<rect x="21" y="84" width="21" height="21" fill="#1c376f"/>
<rect x="42" y="84" width="21" height="21" fill="#254993"/>
<rect x="63" y="84" width="21" height="21" fill="#2b57ad"/>
<rect x="84" y="84" width="21" height="21" fill="#1c376e"/>
<rect x="105" y="84" width="21" height="21" fill="#3d7bf5"/>
<rect x="126" y="84" width="21" height="21" fill="#4181ff"/>
<rect x="147" y="84" width="21" height="21" fill="#77edff"/>
<rect x="168" y="84" width="21" height="21" fill="#91ffff"/>
<rect x="189" y="84" width="21" height="21" fill="#9dffff"/>
<rect x="210" y="84" width="21" height="21" fill="#10203f"/>
<rect x="231" y="84" width="63" height="21" fill="#2a54a7"/>
<rect x="-42" y="105" width="63" height="21" fill="#152952"/>
<rect x="21" y="105" width="21" height="21" fill="#152b56"/>
<rect x="42" y="105" width="21" height="21" fill="#224488"/>
<rect x="63" y="105" width="21" height="21" fill="#23468d"/>
<rect x="84" y="105" width="21" height="21" fill="#2c58b0"/>
<rect x="105" y="105" width="21" height="21" fill="#1a3468"/>
<rect x="126" y="105" width="21" height="21" fill="#305fbf"/>
<rect x="147" y="105" width="21" height="21" fill="#4589ff"/>
<rect x="168" y="105" width="21" height="21" fill="#4489ff"/>
<rect x="189" y="105" width="21" height="21" fill="#80ffff"/>
<rect x="210" y="105" width="21" height="21" fill="#70e0ff"/>
<rect x="231" y="105" width="63" height="21" fill="#73e6ff"/>
<rect x="-42" y="126" width="63" height="21" fill="#142952"/>
<rect x="21" y="126" width="21" height="21" fill="#152a53"/>
<rect x="42" y="126" width="21" height="21" fill="#254a94"/>
<rect x="63" y="126" width="21" height="21" fill="#1f3e7d"/>
<rect x="84" y="126" width="21" height="21" fill="#2851a1"/>
<rect x="105" y="126" width="21" height="21" fill="#2d5ab4"/>
<rect x="126" y="126" width="21" height="21" fill="#1d3a74"/>
<rect x="147" y="126" width="21" height="21" fill="#366cd8"/>
<rect x="168" y="126" width="21" height="21" fill="#6ad3ff"/>
<rect x="189" y="126" width="21" height="21" fill="#dfffff"/>
<rect x="210" y="126" width="21" height="21" fill="#1c386f"/>
<rect x="231" y="126" width="63" height="21" fill="#407ffe"/>
<rect x="-42" y="147" width="63" height="21" fill="#122549"/>
<rect x="21" y="147" width="21" height="21" fill="#1d3a74"/>
<rect x="42" y="147" width="21" height="21" fill="#1d3a75"/>
<rect x="63" y="147" width="21" height="21" fill="#1c3870"/>
<rect x="84" y="147" width="21" height="21" fill="#2951a2"/>
<rect x="105" y="147" width="42" height="21" fill="#204080"/>
<rect x="147" y="147" width="21" height="21" fill="#3264c8"/>
<rect x="168" y="147" width="21" height="21" fill="#71e3ff"/>
<rect x="189" y="147" width="21" height="21" fill="#c7ffff"/>
<rect x="210" y="147" width="21" height="21" fill="#beffff"/>
<rect x="231" y="147" width="63" height="21" fill="#c0ffff"/>
<rect x="-42" y="168" width="63" height="21" fill="#172f5d"/>
<rect x="21" y="168" width="21" height="21" fill="#193265"/>
<rect x="42" y="168" width="21" height="21" fill="#214183"/>
<rect x="63" y="168" width="21" height="21" fill="#1b366c"/>
<rect x="84" y="168" width="21" height="21" fill="#1a3367"/>
<rect x="105" y="168" width="21" height="21" fill="#193263"/>
<rect x="126" y="168" width="21" height="21" fill="#152952"/>
<rect x="147" y="168" width="21" height="21" fill="#2a54a9"/>
<rect x="168" y="168" width="21" height="21" fill="#70e0ff"/>
<rect x="189" y="168" width="21" height="21" fill="#ceffff"/>
<rect x="210" y="168" width="21" height="21" fill="#bbffff"/>
<rect x="231" y="168" width="63" height="21" fill="#bfffff"/>
<rect x="-42" y="189" width="63" height="21" fill="#1b356b"/>
<rect x="21" y="189" width="21" height="21" fill="#204081"/>
<rect x="42" y="189" width="21" height="21" fill="#1a3469"/>
<rect x="63" y="189" width="21" height="21" fill="#122447"/>
<rect x="84" y="189" width="21" height="21" fill="#152a54"/>
<rect x="105" y="189" width="21" height="21" fill="#1a3468"/>
<rect x="126" y="189" width="21" height="21" fill="#56abff"/>
<rect x="147" y="189" width="21" height="21" fill="#6fddff"/>
<rect x="168" y="189" width="21" height="21" fill="#a8ffff"/>
<rect x="189" y="189" width="21" height="21" fill="#d6ffff"/>
<rect x="210" y="189" width="21" height="21" fill="#cdffff"/>
<rect x="231" y="189" width="63" height="21" fill="#cfffff"/>
<rect x="-42" y="210" width="63" height="21" fill="#1a3467"/>
<rect x="21" y="210" width="21" height="21" fill="#214183"/>
<rect x="42" y="210" width="21" height="21" fill="#183162"/>
<rect x="63" y="210" width="21" height="21" fill="#2a54a7"/>
<rect x="84" y="210" width="21" height="21" fill="#4283ff"/>
<rect x="105" y="210" width="21" height="21" fill="#203f7f"/>
<rect x="126" y="210" width="21" height="21" fill="#407fff"/>
<rect x="147" y="210" width="21" height="21" fill="#76ebff"/>
<rect x="168" y="210" width="21" height="21" fill="#010305"/>
<rect x="189" y="210" width="21" height="21" fill="#8effff"/>
<rect x="210" y="210" width="21" height="21" fill="#72e4ff"/>
<rect x="231" y="210" width="63" height="21" fill="#77eeff"/>
<rect x="-42" y="231" width="63" height="21" fill="#1a3469"/>
<rect x="21" y="231" width="21" height="21" fill="#1a3468"/>
<rect x="42" y="231" width="21" height="21" fill="#162c58"/>
<rect x="63" y="231" width="21" height="21" fill="#102141"/>
<rect x="84" y="231" width="21" height="21" fill="#1f3d7b"/>
<rect x="105" y="231" width="21" height="21" fill="#1f3e7d"/>
<rect x="126" y="231" width="21" height="21" fill="#62c4ff"/>
<rect x="147" y="231" width="21" height="21" fill="#5ebcff"/>
<rect x="168" y="231" width="21" height="21" fill="#62c3ff"/>
<rect x="189" y="231" width="21" height="21" fill="#6fddff"/>
<rect x="210" y="231" width="21" height="21" fill="#6cd9ff"/>
<rect x="231" y="231" width="63" height="21" fill="#6dd9ff"/>
<rect x="-42" y="252" width="63" height="21" fill="#1e3c78"/>
<rect x="21" y="252" width="21" height="21" fill="#1e3c77"/>
<rect x="42" y="252" width="21" height="21" fill="#1d3b76"/>
<rect x="63" y="252" width="21" height="21" fill="#1d3a74"/>
<rect x="84" y="252" width="21" height="21" fill="#1f3e7c"/>
<rect x="105" y="252" width="21" height="21" fill="#274e9c"/>
<rect x="126" y="252" width="21" height="21" fill="#162c58"/>
<rect x="147" y="252" width="21" height="21" fill="#4b96ff"/>
<rect x="168" y="252" width="21" height="21" fill="#2952a4"/>
<rect x="189" y="252" width="21" height="21" fill="#77edff"/>
<rect x="210" y="252" width="21" height="21" fill="#68d0ff"/>
<rect x="231" y="252" width="63" height="21" fill="#6ad5ff"/>
<rect x="-42" y="273" width="63" height="21" fill="#214285"/>
<rect x="21" y="273" width="21" height="21" fill="#23468b"/>
<rect x="42" y="273" width="21" height="21" fill="#2a54a8"/>
<rect x="63" y="273" width="21" height="21" fill="#2c59b2"/>
<rect x="84" y="273" width="21" height="21" fill="#2e5dba"/>
<rect x="105" y="273" width="21" height="21" fill="#23478e"/>
<rect x="126" y="273" width="21" height="21" fill="#224387"/>
<rect x="147" y="273" width="21" height="21" fill="#2952a4"/>
<rect x="168" y="273" width="21" height="21" fill="#4d99ff"/>
<rect x="189" y="273" width="21" height="21" fill="#8bffff"/>
<rect x="210" y="273" width="21" height="21" fill="#80ffff"/>
<rect x="231" y="273" width="63" height="21" fill="#82ffff"/>
<rect x="-42" y="294" width="63" height="21" fill="#264b96"/>
<rect x="21" y="294" width="21" height="21" fill="#112346"/>
<rect x="42" y="294" width="21" height="21" fill="#2c57ae"/>
<rect x="63" y="294" width="21" height="21" fill="#2b57ad"/>
<rect x="84" y="294" width="21" height="21" fill="#4891ff"/>
<rect x="105" y="294" width="21" height="21" fill="#3b75eb"/>
<rect x="126" y="294" width="21" height="21" fill="#3060bf"/>
<rect x="147" y="294" width="21" height="21" fill="#2d5bb6"/>
<rect x="168" y="294" width="21" height="21" fill="#88ffff"/>
<rect x="189" y="294" width="21" height="21" fill="#d0ffff"/>
<rect x="210" y="294" width="21" height="21" fill="#bfffff"/>
<rect x="231" y="294" width="63" height="21" fill="#c2ffff"/>
<rect x="-42" y="315" width="63" height="21" fill="#3163c6"/>
<rect x="21" y="315" width="21" height="21" fill="#204081"/>
<rect x="42" y="315" width="21" height="21" fill="#224589"/>
<rect x="63" y="315" width="21" height="21" fill="#274e9b"/>
<rect x="84" y="315" width="21" height="21" fill="#376ddb"/>
<rect x="105" y="315" width="21" height="21" fill="#3b76ec"/>
<rect x="126" y="315" width="21" height="21" fill="#1f3e7c"/>
<rect x="147" y="315" width="21" height="21" fill="#458aff"/>
<rect x="168" y="315" width="21" height="21" fill="#a1ffff"/>
<rect x="189" y="315" width="21" height="21" fill="#c2ffff"/>
<rect x="210" y="315" width="21" height="21" fill="#cbffff"/>
<rect x="231" y="315" width="63" height="21" fill="#c9ffff"/>
<rect x="-42" y="336" width="63" height="21" fill="#366dda"/>
<rect x="21" y="336" width="21" height="21" fill="#162b57"/>
<rect x="42" y="336" width="21" height="21" fill="#4c98ff"/>
<rect x="63" y="336" width="21" height="21" fill="#3265ca"/>
<rect x="84" y="336" width="21" height="21" fill="#1f3d7a"/>
<rect x="105" y="336" width="21" height="21" fill="#1e3d79"/>
<rect x="126" y="336" width="21" height="21" fill="#2e5cb8"/>
<rect x="147" y="336" width="21" height="21" fill="#65cbff"/>
<rect x="168" y="336" width="21" height="21" fill="#c1ffff"/>
<rect x="189" y="336" width="21" height="21" fill="#d7ffff"/>
<rect x="210" y="336" width="21" height="21" fill="#83ffff"/>
<rect x="231" y="336" width="63" height="21" fill="#92ffff"/>
<rect x="-42" y="357" width="63" height="21" fill="#3162c4"/>
<rect x="21" y="357" width="21" height="21" fill="#172d5b"/>
<rect x="42" y="357" width="21" height="21" fill="#3264c8"/>
<rect x="63" y="357" width="21" height="21" fill="#3060c1"/>
<rect x="84" y="357" width="21" height="21" fill="#23458b"/>
<rect x="105" y="357" width="21" height="21" fill="#224489"/>
<rect x="126" y="357" width="21" height="21" fill="#468bff"/>
<rect x="147" y="357" width="21" height="21" fill="#69d2ff"/>
<rect x="168" y="357" width="21" height="21" fill="#d4ffff"/>
<rect x="189" y="357" width="21" height="21" fill="#89ffff"/>
<rect x="210" y="357" width="21" height="21" fill="#a7ffff"/>
<rect x="231" y="357" width="63" height="21" fill="#a1ffff"/>
<rect x="-42" y="378" width="63" height="21" fill="#478fff"/>
<rect x="21" y="378" width="21" height="21" fill="#2f5dba"/>
<rect x="42" y="378" width="21" height="21" fill="#3468d1"/>
<rect x="63" y="378" width="21" height="21" fill="#214386"/>
<rect x="84" y="378" width="21" height="21" fill="#274f9e"/>
<rect x="105" y="378" width="21" height="21" fill="#2850a0"/>
<rect x="126" y="378" width="21" height="21" fill="#6bd6ff"/>
<rect x="147" y="378" width="21" height="21" fill="#7ffdff"/>
<rect x="168" y="378" width="21" height="21" fill="#cbffff"/>
<rect x="189" y="378" width="21" height="21" fill="#6edcff"/>
<rect x="210" y="378" width="21" height="21" fill="#7dfaff"/>
<rect x="231" y="378" width="63" height="21" fill="#7af4ff"/>
<rect x="-42" y="399" width="63" height="21" fill="#468bff"/>
<rect x="21" y="399" width="21" height="21" fill="#3b77ee"/>
<rect x="42" y="399" width="21" height="21" fill="#3569d3"/>
<rect x="63" y="399" width="21" height="21" fill="#2f5dba"/>
<rect x="84" y="399" width="21" height="21" fill="#2e5cb8"/>
<rect x="105" y="399" width="21" height="21" fill="#356bd5"/>
<rect x="126" y="399" width="21" height="21" fill="#6fdfff"/>
<rect x="147" y="399" width="21" height="21" fill="#70e0ff"/>
<rect x="168" y="399" width="21" height="21" fill="#78f1ff"/>
<rect x="189" y="399" width="21" height="21" fill="#83ffff"/>
<rect x="210" y="399" width="21" height="21" fill="#81ffff"/>
<rect x="231" y="399" width="63" height="21" fill="#82ffff"/>
<rect x="-42" y="420" width="63" height="21" fill="#468bff"/>
<rect x="21" y="420" width="21" height="21" fill="#3b77ee"/>
<rect x="42" y="420" width="21" height="21" fill="#3569d3"/>
<rect x="63" y="420" width="21" height="21" fill="#2f5dba"/>
<rect x="84" y="420" width="21" height="21" fill="#2e5cb8"/>
<rect x="105" y="420" width="21" height="21" fill="#356bd5"/>
<rect x="126" y="420" width="21" height="21" fill="#6fdfff"/>
<rect x="147" y="420" width="21" height="21" fill="#70e0ff"/>
<rect x="168" y="420" width="21" height="21" fill="#78f1ff"/>
<rect x="189" y="420" width="21" height="21" fill="#83ffff"/>
<rect x="210" y="420" width="21" height="21" fill="#81ffff"/>
<rect x="231" y="420" width="63" height="21" fill="#82ffff"/>
<rect x="-42" y="441" width="63" height="21" fill="#468bff"/>
<rect x="21" y="441" width="21" height="21" fill="#3b77ee"/>
<rect x="42" y="441" width="21" height="21" fill="#3569d3"/>
<rect x="63" y="441" width="21" height="21" fill="#2f5dba"/>
<rect x="84" y="441" width="21" height="21" fill="#2e5cb8"/>
<rect x="105" y="441" width="21" height="21" fill="#356bd5"/>
<rect x="126" y="441" width="21" height="21" fill="#6fdfff"/>
<rect x="147" y="441" width="21" height="21" fill="#70e0ff"/>
<rect x="168" y="441" width="21" height="21" fill="#78f1ff"/>
<rect x="189" y="441" width="21" height="21" fill="#83ffff"/>
<rect x="210" y="441" width="21" height="21" fill="#81ffff"/>
<rect x="231" y="441" width="63" height="21" fill="#82ffff"/>
</g>
<use href="#land"/>
</g>
<use href="#dots"/>
<rect x="0" y="0" width="252" height="420" fill="none" stroke="#000" stroke-width="1.67"/>
<path d="M60,420 v7.3 M180,420 v7.3" stroke="#000" stroke-width="1.67" fill="none"/>
<text class="tk" x="59.3" y="455" text-anchor="middle">74°<tspan class="i">W</tspan></text>
<text class="tk" x="179.3" y="455" text-anchor="middle">72°<tspan class="i">W</tspan></text>
<text class="tt" x="0" y="-11">Dia 8</text>
</g>
<g transform="translate(1173,554)">
<g clip-path="url(#ax)">
<g filter="url(#cm)" shape-rendering="crispEdges">
<rect x="-42" y="-42" width="63" height="21" fill="#1f3f7d"/>
<rect x="21" y="-42" width="21" height="21" fill="#1f3e7d"/>
<rect x="42" y="-42" width="21" height="21" fill="#1a356a"/>
<rect x="63" y="-42" width="21" height="21" fill="#407ffe"/>
<rect x="84" y="-42" width="21" height="21" fill="#264c97"/>
<rect x="105" y="-42" width="21" height="21" fill="#2b56ad"/>
<rect x="126" y="-42" width="21" height="21" fill="#4a94ff"/>
<rect x="147" y="-42" width="21" height="21" fill="#8bffff"/>
<rect x="168" y="-42" width="21" height="21" fill="#a6ffff"/>
<rect x="189" y="-42" width="21" height="21" fill="#ccffff"/>
<rect x="210" y="-42" width="84" height="21" fill="#cbffff"/>
<rect x="-42" y="-21" width="63" height="21" fill="#1f3f7d"/>
<rect x="21" y="-21" width="21" height="21" fill="#1f3e7d"/>
<rect x="42" y="-21" width="21" height="21" fill="#1a356a"/>
<rect x="63" y="-21" width="21" height="21" fill="#407ffe"/>
<rect x="84" y="-21" width="21" height="21" fill="#264c97"/>
<rect x="105" y="-21" width="21" height="21" fill="#2b56ad"/>
<rect x="126" y="-21" width="21" height="21" fill="#4a94ff"/>
<rect x="147" y="-21" width="21" height="21" fill="#8bffff"/>
<rect x="168" y="-21" width="21" height="21" fill="#a6ffff"/>
<rect x="189" y="-21" width="21" height="21" fill="#ccffff"/>
<rect x="210" y="-21" width="84" height="21" fill="#cbffff"/>
<rect x="-42" y="0" width="63" height="21" fill="#1f3f7d"/>
<rect x="21" y="0" width="21" height="21" fill="#1f3e7d"/>
<rect x="42" y="0" width="21" height="21" fill="#1a356a"/>
<rect x="63" y="0" width="21" height="21" fill="#407ffe"/>
<rect x="84" y="0" width="21" height="21" fill="#264c97"/>
<rect x="105" y="0" width="21" height="21" fill="#2b56ad"/>
<rect x="126" y="0" width="21" height="21" fill="#4a94ff"/>
<rect x="147" y="0" width="21" height="21" fill="#8bffff"/>
<rect x="168" y="0" width="21" height="21" fill="#a6ffff"/>
<rect x="189" y="0" width="21" height="21" fill="#ccffff"/>
<rect x="210" y="0" width="84" height="21" fill="#cbffff"/>
<rect x="-42" y="21" width="63" height="21" fill="#152a54"/>
<rect x="21" y="21" width="21" height="21" fill="#193263"/>
<rect x="42" y="21" width="21" height="21" fill="#274e9d"/>
<rect x="63" y="21" width="21" height="21" fill="#3f7efc"/>
<rect x="84" y="21" width="21" height="21" fill="#3161c2"/>
<rect x="105" y="21" width="21" height="21" fill="#193162"/>
<rect x="126" y="21" width="21" height="21" fill="#7bf7ff"/>
<rect x="147" y="21" width="21" height="21" fill="#c5ffff"/>
<rect x="168" y="21" width="21" height="21" fill="#d8ffff"/>
<rect x="189" y="21" width="21" height="21" fill="#caffff"/>
<rect x="210" y="21" width="21" height="21" fill="#a6ffff"/>
<rect x="231" y="21" width="63" height="21" fill="#acffff"/>
<rect x="-42" y="42" width="63" height="21" fill="#1c3971"/>
<rect x="21" y="42" width="21" height="21" fill="#172e5d"/>
<rect x="42" y="42" width="21" height="21" fill="#28509f"/>
<rect x="63" y="42" width="21" height="21" fill="#4a94ff"/>
<rect x="84" y="42" width="21" height="21" fill="#356ad4"/>
<rect x="105" y="42" width="21" height="21" fill="#80ffff"/>
<rect x="126" y="42" width="21" height="21" fill="#88ffff"/>
<rect x="147" y="42" width="21" height="21" fill="#76ecff"/>
<rect x="168" y="42" width="21" height="21" fill="#a4ffff"/>
<rect x="189" y="42" width="21" height="21" fill="#ceffff"/>
<rect x="210" y="42" width="21" height="21" fill="#c9ffff"/>
<rect x="231" y="42" width="63" height="21" fill="#caffff"/>
<rect x="-42" y="63" width="63" height="21" fill="#1b366c"/>
<rect x="21" y="63" width="21" height="21" fill="#1c3870"/>
<rect x="42" y="63" width="21" height="21" fill="#3161c3"/>
<rect x="63" y="63" width="21" height="21" fill="#407fff"/>
<rect x="84" y="63" width="21" height="21" fill="#53a5ff"/>
<rect x="105" y="63" width="21" height="21" fill="#4993ff"/>
<rect x="126" y="63" width="42" height="21" fill="#7efcff"/>
<rect x="168" y="63" width="21" height="21" fill="#93ffff"/>
<rect x="189" y="63" width="21" height="21" fill="#91ffff"/>
<rect x="210" y="63" width="21" height="21" fill="#a7ffff"/>
<rect x="231" y="63" width="63" height="21" fill="#a3ffff"/>
<rect x="-42" y="84" width="63" height="21" fill="#172e5b"/>
<rect x="21" y="84" width="21" height="21" fill="#1e3d79"/>
<rect x="42" y="84" width="21" height="21" fill="#264c99"/>
<rect x="63" y="84" width="21" height="21" fill="#3061c2"/>
<rect x="84" y="84" width="21" height="21" fill="#1d3a73"/>
<rect x="105" y="84" width="21" height="21" fill="#4386ff"/>
<rect x="126" y="84" width="21" height="21" fill="#4e9cff"/>
<rect x="147" y="84" width="21" height="21" fill="#87ffff"/>
<rect x="168" y="84" width="42" height="21" fill="#9fffff"/>
<rect x="210" y="84" width="21" height="21" fill="#244890"/>
<rect x="231" y="84" width="63" height="21" fill="#3b75eb"/>
<rect x="-42" y="105" width="63" height="21" fill="#122347"/>
<rect x="21" y="105" width="21" height="21" fill="#1a356a"/>
<rect x="42" y="105" width="21" height="21" fill="#274e9c"/>
<rect x="63" y="105" width="21" height="21" fill="#214385"/>
<rect x="84" y="105" width="21" height="21" fill="#2b56ac"/>
<rect x="105" y="105" width="21" height="21" fill="#1e3c78"/>
<rect x="126" y="105" width="21" height="21" fill="#2f5dba"/>
<rect x="147" y="105" width="21" height="21" fill="#50a1ff"/>
<rect x="168" y="105" width="21" height="21" fill="#2d5ab4"/>
<rect x="189" y="105" width="21" height="21" fill="#96ffff"/>
<rect x="210" y="105" width="21" height="21" fill="#69d2ff"/>
<rect x="231" y="105" width="63" height="21" fill="#71e2ff"/>
<rect x="-42" y="126" width="63" height="21" fill="#1a3569"/>
<rect x="21" y="126" width="21" height="21" fill="#13264b"/>
<rect x="42" y="126" width="21" height="21" fill="#244891"/>
<rect x="63" y="126" width="21" height="21" fill="#203f7f"/>
<rect x="84" y="126" width="21" height="21" fill="#274f9e"/>
<rect x="105" y="126" width="21" height="21" fill="#3264c7"/>
<rect x="126" y="126" width="21" height="21" fill="#224386"/>
<rect x="147" y="126" width="21" height="21" fill="#3871e1"/>
<rect x="168" y="126" width="21" height="21" fill="#6fdfff"/>
<rect x="189" y="126" width="21" height="21" fill="#fdffff"/>
<rect x="210" y="126" width="21" height="21" fill="#112243"/>
<rect x="231" y="126" width="63" height="21" fill="#3c78f1"/>
<rect x="-42" y="147" width="63" height="21" fill="#112245"/>
<rect x="21" y="147" width="21" height="21" fill="#1d3b76"/>
<rect x="42" y="147" width="21" height="21" fill="#1d3b75"/>
<rect x="63" y="147" width="21" height="21" fill="#1c386f"/>
<rect x="84" y="147" width="21" height="21" fill="#2951a3"/>
<rect x="105" y="147" width="21" height="21" fill="#1f3e7d"/>
<rect x="126" y="147" width="21" height="21" fill="#1f3f7e"/>
<rect x="147" y="147" width="21" height="21" fill="#3264c9"/>
<rect x="168" y="147" width="21" height="21" fill="#82ffff"/>
<rect x="189" y="147" width="21" height="21" fill="#cfffff"/>
<rect x="210" y="147" width="21" height="21" fill="#dcffff"/>
<rect x="231" y="147" width="63" height="21" fill="#d9ffff"/>
<rect x="-42" y="168" width="63" height="21" fill="#182f5e"/>
<rect x="21" y="168" width="21" height="21" fill="#193263"/>
<rect x="42" y="168" width="21" height="21" fill="#214284"/>
<rect x="63" y="168" width="21" height="21" fill="#1b366c"/>
<rect x="84" y="168" width="21" height="21" fill="#1a3467"/>
<rect x="105" y="168" width="21" height="21" fill="#183162"/>
<rect x="126" y="168" width="21" height="21" fill="#112244"/>
<rect x="147" y="168" width="21" height="21" fill="#3468d0"/>
<rect x="168" y="168" width="21" height="21" fill="#81ffff"/>
<rect x="189" y="168" width="21" height="21" fill="#d2ffff"/>
<rect x="210" y="168" width="21" height="21" fill="#beffff"/>
<rect x="231" y="168" width="63" height="21" fill="#c2ffff"/>
<rect x="-42" y="189" width="63" height="21" fill="#1a3569"/>
<rect x="21" y="189" width="21" height="21" fill="#224387"/>
<rect x="42" y="189" width="21" height="21" fill="#193162"/>
<rect x="63" y="189" width="21" height="21" fill="#122549"/>
<rect x="84" y="189" width="21" height="21" fill="#142850"/>
<rect x="105" y="189" width="21" height="21" fill="#1f3d7b"/>
<rect x="126" y="189" width="21" height="21" fill="#61c3ff"/>
<rect x="147" y="189" width="21" height="21" fill="#67ceff"/>
<rect x="168" y="189" width="21" height="21" fill="#b0ffff"/>
<rect x="189" y="189" width="21" height="21" fill="#daffff"/>
<rect x="210" y="189" width="21" height="21" fill="#d3ffff"/>
<rect x="231" y="189" width="63" height="21" fill="#d4ffff"/>
<rect x="-42" y="210" width="63" height="21" fill="#1b366d"/>
<rect x="21" y="210" width="21" height="21" fill="#193162"/>
<rect x="42" y="210" width="21" height="21" fill="#214183"/>
<rect x="63" y="210" width="21" height="21" fill="#2850a0"/>
<rect x="84" y="210" width="21" height="21" fill="#4385ff"/>
<rect x="105" y="210" width="21" height="21" fill="#1c3871"/>
<rect x="126" y="210" width="21" height="21" fill="#4489ff"/>
<rect x="147" y="210" width="21" height="21" fill="#7ffeff"/>
<rect x="168" y="210" width="21" height="21" fill="#010305"/>
<rect x="189" y="210" width="21" height="21" fill="#9fffff"/>
<rect x="210" y="210" width="21" height="21" fill="#81ffff"/>
<rect x="231" y="210" width="63" height="21" fill="#86ffff"/>
<rect x="-42" y="231" width="63" height="21" fill="#1a3468"/>
<rect x="21" y="231" width="21" height="21" fill="#1c376e"/>
<rect x="42" y="231" width="21" height="21" fill="#142851"/>
<rect x="63" y="231" width="21" height="21" fill="#112243"/>
<rect x="84" y="231" width="21" height="21" fill="#1e3c78"/>
<rect x="105" y="231" width="21" height="21" fill="#224488"/>
<rect x="126" y="231" width="21" height="21" fill="#77efff"/>
<rect x="147" y="231" width="21" height="21" fill="#61c2ff"/>
<rect x="168" y="231" width="21" height="21" fill="#69d2ff"/>
<rect x="189" y="231" width="21" height="21" fill="#73e6ff"/>
<rect x="210" y="231" width="21" height="21" fill="#71e2ff"/>
<rect x="231" y="231" width="63" height="21" fill="#71e3ff"/>
<rect x="-42" y="252" width="63" height="21" fill="#1e3d79"/>
<rect x="21" y="252" width="21" height="21" fill="#1e3b76"/>
<rect x="42" y="252" width="21" height="21" fill="#1f3d7b"/>
<rect x="63" y="252" width="21" height="21" fill="#1d3a74"/>
<rect x="84" y="252" width="21" height="21" fill="#1f3f7e"/>
<rect x="105" y="252" width="21" height="21" fill="#264c97"/>
<rect x="126" y="252" width="21" height="21" fill="#162c57"/>
<rect x="147" y="252" width="21" height="21" fill="#52a4ff"/>
<rect x="168" y="252" width="21" height="21" fill="#2f5ebb"/>
<rect x="189" y="252" width="21" height="21" fill="#7dfbff"/>
<rect x="210" y="252" width="21" height="21" fill="#6eddff"/>
<rect x="231" y="252" width="63" height="21" fill="#71e2ff"/>
<rect x="-42" y="273" width="63" height="21" fill="#204081"/>
<rect x="21" y="273" width="21" height="21" fill="#23458b"/>
<rect x="42" y="273" width="21" height="21" fill="#254993"/>
<rect x="63" y="273" width="21" height="21" fill="#2c59b2"/>
<rect x="84" y="273" width="21" height="21" fill="#2e5bb6"/>
<rect x="105" y="273" width="21" height="21" fill="#224488"/>
<rect x="126" y="273" width="21" height="21" fill="#254a94"/>
<rect x="147" y="273" width="21" height="21" fill="#3467ce"/>
<rect x="168" y="273" width="21" height="21" fill="#55a9ff"/>
<rect x="189" y="273" width="21" height="21" fill="#91ffff"/>
<rect x="210" y="273" width="21" height="21" fill="#86ffff"/>
<rect x="231" y="273" width="63" height="21" fill="#88ffff"/>
<rect x="-42" y="294" width="63" height="21" fill="#2a54a8"/>
<rect x="21" y="294" width="21" height="21" fill="#193162"/>
<rect x="42" y="294" width="21" height="21" fill="#24478f"/>
<rect x="63" y="294" width="21" height="21" fill="#3264c9"/>
<rect x="84" y="294" width="21" height="21" fill="#4c99ff"/>
<rect x="105" y="294" width="21" height="21" fill="#4181ff"/>
<rect x="126" y="294" width="21" height="21" fill="#2f5ebc"/>
<rect x="147" y="294" width="21" height="21" fill="#4487ff"/>
<rect x="168" y="294" width="21" height="21" fill="#7efcff"/>
<rect x="189" y="294" width="21" height="21" fill="#d9ffff"/>
<rect x="210" y="294" width="21" height="21" fill="#c5ffff"/>
<rect x="231" y="294" width="63" height="21" fill="#c9ffff"/>
<rect x="-42" y="315" width="63" height="21" fill="#3162c3"/>
<rect x="21" y="315" width="21" height="21" fill="#1f3d7b"/>
<rect x="42" y="315" width="21" height="21" fill="#254993"/>
<rect x="63" y="315" width="21" height="21" fill="#274d9a"/>
<rect x="84" y="315" width="21" height="21" fill="#366cd8"/>
<rect x="105" y="315" width="21" height="21" fill="#3972e5"/>
<rect x="126" y="315" width="21" height="21" fill="#23468d"/>
<rect x="147" y="315" width="21" height="21" fill="#4993ff"/>
<rect x="168" y="315" width="21" height="21" fill="#a8ffff"/>
<rect x="189" y="315" width="21" height="21" fill="#c9ffff"/>
<rect x="210" y="315" width="21" height="21" fill="#cfffff"/>
<rect x="231" y="315" width="63" height="21" fill="#ceffff"/>
<rect x="-42" y="336" width="63" height="21" fill="#366bd6"/>
<rect x="21" y="336" width="21" height="21" fill="#172e5d"/>
<rect x="42" y="336" width="21" height="21" fill="#478fff"/>
<rect x="63" y="336" width="21" height="21" fill="#2d5ab3"/>
<rect x="84" y="336" width="21" height="21" fill="#203f7f"/>
<rect x="105" y="336" width="21" height="21" fill="#1e3c78"/>
<rect x="126" y="336" width="21" height="21" fill="#3061c2"/>
<rect x="147" y="336" width="21" height="21" fill="#6ad5ff"/>
<rect x="168" y="336" width="21" height="21" fill="#d3ffff"/>
<rect x="189" y="336" width="21" height="21" fill="#d7ffff"/>
<rect x="210" y="336" width="21" height="21" fill="#94ffff"/>
<rect x="231" y="336" width="63" height="21" fill="#a0ffff"/>
<rect x="-42" y="357" width="63" height="21" fill="#366bd6"/>
<rect x="21" y="357" width="21" height="21" fill="#162b57"/>
<rect x="42" y="357" width="21" height="21" fill="#2d5ab4"/>
<rect x="63" y="357" width="21" height="21" fill="#3265c9"/>
<rect x="84" y="357" width="21" height="21" fill="#244890"/>
<rect x="105" y="357" width="21" height="21" fill="#1f3f7d"/>
<rect x="126" y="357" width="21" height="21" fill="#4e9dff"/>
<rect x="147" y="357" width="21" height="21" fill="#70dfff"/>
<rect x="168" y="357" width="21" height="21" fill="#e1ffff"/>
<rect x="189" y="357" width="21" height="21" fill="#98ffff"/>
<rect x="210" y="357" width="21" height="21" fill="#b2ffff"/>
<rect x="231" y="357" width="63" height="21" fill="#adffff"/>
<rect x="-42" y="378" width="63" height="21" fill="#4a94ff"/>
<rect x="21" y="378" width="21" height="21" fill="#3467ce"/>
<rect x="42" y="378" width="21" height="21" fill="#3366cd"/>
<rect x="63" y="378" width="21" height="21" fill="#224487"/>
<rect x="84" y="378" width="21" height="21" fill="#204080"/>
<rect x="105" y="378" width="21" height="21" fill="#2d59b3"/>
<rect x="126" y="378" width="21" height="21" fill="#76ecff"/>
<rect x="147" y="378" width="21" height="21" fill="#77eeff"/>
<rect x="168" y="378" width="21" height="21" fill="#e0ffff"/>
<rect x="189" y="378" width="21" height="21" fill="#7cf9ff"/>
<rect x="210" y="378" width="21" height="21" fill="#8dffff"/>
<rect x="231" y="378" width="63" height="21" fill="#8affff"/>
<rect x="-42" y="399" width="63" height="21" fill="#4992ff"/>
<rect x="21" y="399" width="21" height="21" fill="#3e7dfa"/>
<rect x="42" y="399" width="21" height="21" fill="#3871e1"/>
<rect x="63" y="399" width="21" height="21" fill="#3367cd"/>
<rect x="84" y="399" width="21" height="21" fill="#2d5ab5"/>
<rect x="105" y="399" width="21" height="21" fill="#3a74e9"/>
<rect x="126" y="399" width="21" height="21" fill="#6dd9ff"/>
<rect x="147" y="399" width="21" height="21" fill="#72e3ff"/>
<rect x="168" y="399" width="21" height="21" fill="#75eaff"/>
<rect x="189" y="399" width="21" height="21" fill="#81ffff"/>
<rect x="210" y="399" width="21" height="21" fill="#7ffeff"/>
<rect x="231" y="399" width="63" height="21" fill="#7fffff"/>
<rect x="-42" y="420" width="63" height="21" fill="#4992ff"/>
<rect x="21" y="420" width="21" height="21" fill="#3e7dfa"/>
<rect x="42" y="420" width="21" height="21" fill="#3871e1"/>
<rect x="63" y="420" width="21" height="21" fill="#3367cd"/>
<rect x="84" y="420" width="21" height="21" fill="#2d5ab5"/>
<rect x="105" y="420" width="21" height="21" fill="#3a74e9"/>
<rect x="126" y="420" width="21" height="21" fill="#6dd9ff"/>
<rect x="147" y="420" width="21" height="21" fill="#72e3ff"/>
<rect x="168" y="420" width="21" height="21" fill="#75eaff"/>
<rect x="189" y="420" width="21" height="21" fill="#81ffff"/>
<rect x="210" y="420" width="21" height="21" fill="#7ffeff"/>
<rect x="231" y="420" width="63" height="21" fill="#7fffff"/>
<rect x="-42" y="441" width="63" height="21" fill="#4992ff"/>
<rect x="21" y="441" width="21" height="21" fill="#3e7dfa"/>
<rect x="42" y="441" width="21" height="21" fill="#3871e1"/>
<rect x="63" y="441" width="21" height="21" fill="#3367cd"/>
<rect x="84" y="441" width="21" height="21" fill="#2d5ab5"/>
<rect x="105" y="441" width="21" height="21" fill="#3a74e9"/>
<rect x="126" y="441" width="21" height="21" fill="#6dd9ff"/>
<rect x="147" y="441" width="21" height="21" fill="#72e3ff"/>
<rect x="168" y="441" width="21" height="21" fill="#75eaff"/>
<rect x="189" y="441" width="21" height="21" fill="#81ffff"/>
<rect x="210" y="441" width="21" height="21" fill="#7ffeff"/>
<rect x="231" y="441" width="63" height="21" fill="#7fffff"/>
</g>
<use href="#land"/>
</g>
<use href="#dots"/>
<rect x="0" y="0" width="252" height="420" fill="none" stroke="#000" stroke-width="1.67"/>
<path d="M60,420 v7.3 M180,420 v7.3" stroke="#000" stroke-width="1.67" fill="none"/>
<text class="tk" x="59.3" y="455" text-anchor="middle">74°<tspan class="i">W</tspan></text>
<text class="tk" x="179.3" y="455" text-anchor="middle">72°<tspan class="i">W</tspan></text>
<text class="tt" x="0" y="-11">Dia 9</text>
</g>
<g transform="translate(1534,554)">
<g clip-path="url(#ax)">
<g filter="url(#cm)" shape-rendering="crispEdges">
<rect x="-42" y="-42" width="63" height="21" fill="#224489"/>
<rect x="21" y="-42" width="21" height="21" fill="#23468c"/>
<rect x="42" y="-42" width="21" height="21" fill="#1f3f7e"/>
<rect x="63" y="-42" width="21" height="21" fill="#3d7af3"/>
<rect x="84" y="-42" width="21" height="21" fill="#3061c1"/>
<rect x="105" y="-42" width="21" height="21" fill="#264b96"/>
<rect x="126" y="-42" width="21" height="21" fill="#54a8ff"/>
<rect x="147" y="-42" width="21" height="21" fill="#61c1ff"/>
<rect x="168" y="-42" width="21" height="21" fill="#9fffff"/>
<rect x="189" y="-42" width="21" height="21" fill="#cfffff"/>
<rect x="210" y="-42" width="21" height="21" fill="#c7ffff"/>
<rect x="231" y="-42" width="63" height="21" fill="#c9ffff"/>
<rect x="-42" y="-21" width="63" height="21" fill="#224489"/>
<rect x="21" y="-21" width="21" height="21" fill="#23468c"/>
<rect x="42" y="-21" width="21" height="21" fill="#1f3f7e"/>
<rect x="63" y="-21" width="21" height="21" fill="#3d7af3"/>
<rect x="84" y="-21" width="21" height="21" fill="#3061c1"/>
<rect x="105" y="-21" width="21" height="21" fill="#264b96"/>
<rect x="126" y="-21" width="21" height="21" fill="#54a8ff"/>
<rect x="147" y="-21" width="21" height="21" fill="#61c1ff"/>
<rect x="168" y="-21" width="21" height="21" fill="#9fffff"/>
<rect x="189" y="-21" width="21" height="21" fill="#cfffff"/>
<rect x="210" y="-21" width="21" height="21" fill="#c7ffff"/>
<rect x="231" y="-21" width="63" height="21" fill="#c9ffff"/>
<rect x="-42" y="0" width="63" height="21" fill="#224489"/>
<rect x="21" y="0" width="21" height="21" fill="#23468c"/>
<rect x="42" y="0" width="21" height="21" fill="#1f3f7e"/>
<rect x="63" y="0" width="21" height="21" fill="#3d7af3"/>
<rect x="84" y="0" width="21" height="21" fill="#3061c1"/>
<rect x="105" y="0" width="21" height="21" fill="#264b96"/>
<rect x="126" y="0" width="21" height="21" fill="#54a8ff"/>
<rect x="147" y="0" width="21" height="21" fill="#61c1ff"/>
<rect x="168" y="0" width="21" height="21" fill="#9fffff"/>
<rect x="189" y="0" width="21" height="21" fill="#cfffff"/>
<rect x="210" y="0" width="21" height="21" fill="#c7ffff"/>
<rect x="231" y="0" width="63" height="21" fill="#c9ffff"/>
<rect x="-42" y="21" width="63" height="21" fill="#1b356a"/>
<rect x="21" y="21" width="21" height="21" fill="#172e5b"/>
<rect x="42" y="21" width="21" height="21" fill="#274d9b"/>
<rect x="63" y="21" width="21" height="21" fill="#3e7bf7"/>
<rect x="84" y="21" width="21" height="21" fill="#366bd6"/>
<rect x="105" y="21" width="21" height="21" fill="#24478e"/>
<rect x="126" y="21" width="21" height="21" fill="#7af3ff"/>
<rect x="147" y="21" width="21" height="21" fill="#95ffff"/>
<rect x="168" y="21" width="21" height="21" fill="#b9ffff"/>
<rect x="189" y="21" width="21" height="21" fill="#c9ffff"/>
<rect x="210" y="21" width="21" height="21" fill="#baffff"/>
<rect x="231" y="21" width="63" height="21" fill="#bdffff"/>
<rect x="-42" y="42" width="63" height="21" fill="#172e5b"/>
<rect x="21" y="42" width="21" height="21" fill="#193263"/>
<rect x="42" y="42" width="21" height="21" fill="#274e9d"/>
<rect x="63" y="42" width="21" height="21" fill="#4e9dff"/>
<rect x="84" y="42" width="21" height="21" fill="#2b56ac"/>
<rect x="105" y="42" width="21" height="21" fill="#67cfff"/>
<rect x="126" y="42" width="21" height="21" fill="#76edff"/>
<rect x="147" y="42" width="21" height="21" fill="#7dfbff"/>
<rect x="168" y="42" width="21" height="21" fill="#c3ffff"/>
<rect x="189" y="42" width="21" height="21" fill="#d4ffff"/>
<rect x="210" y="42" width="84" height="21" fill="#d0ffff"/>
<rect x="-42" y="63" width="63" height="21" fill="#172e5c"/>
<rect x="21" y="63" width="21" height="21" fill="#1b366c"/>
<rect x="42" y="63" width="21" height="21" fill="#3264c9"/>
<rect x="63" y="63" width="21" height="21" fill="#3263c6"/>
<rect x="84" y="63" width="21" height="21" fill="#53a6ff"/>
<rect x="105" y="63" width="21" height="21" fill="#5dbaff"/>
<rect x="126" y="63" width="21" height="21" fill="#6fdeff"/>
<rect x="147" y="63" width="21" height="21" fill="#82ffff"/>
<rect x="168" y="63" width="21" height="21" fill="#84ffff"/>
<rect x="189" y="63" width="21" height="21" fill="#91ffff"/>
<rect x="210" y="63" width="21" height="21" fill="#a2ffff"/>
<rect x="231" y="63" width="63" height="21" fill="#9fffff"/>
<rect x="-42" y="84" width="63" height="21" fill="#162d5a"/>
<rect x="21" y="84" width="21" height="21" fill="#244890"/>
<rect x="42" y="84" width="21" height="21" fill="#2a55aa"/>
<rect x="63" y="84" width="21" height="21" fill="#366dd9"/>
<rect x="84" y="84" width="21" height="21" fill="#22458a"/>
<rect x="105" y="84" width="21" height="21" fill="#4080ff"/>
<rect x="126" y="84" width="21" height="21" fill="#5cb7ff"/>
<rect x="147" y="84" width="21" height="21" fill="#89ffff"/>
<rect x="168" y="84" width="21" height="21" fill="#88ffff"/>
<rect x="189" y="84" width="21" height="21" fill="#a8ffff"/>
<rect x="210" y="84" width="21" height="21" fill="#3972e4"/>
<rect x="231" y="84" width="63" height="21" fill="#4d9aff"/>
<rect x="-42" y="105" width="63" height="21" fill="#13264b"/>
<rect x="21" y="105" width="21" height="21" fill="#193365"/>
<rect x="42" y="105" width="21" height="21" fill="#254b96"/>
<rect x="63" y="105" width="21" height="21" fill="#284f9f"/>
<rect x="84" y="105" width="21" height="21" fill="#254b96"/>
<rect x="105" y="105" width="21" height="21" fill="#2a54a8"/>
<rect x="126" y="105" width="21" height="21" fill="#3162c4"/>
<rect x="147" y="105" width="21" height="21" fill="#468bff"/>
<rect x="168" y="105" width="21" height="21" fill="#6ad4ff"/>
<rect x="189" y="105" width="21" height="21" fill="#a3ffff"/>
<rect x="210" y="105" width="21" height="21" fill="#63c5ff"/>
<rect x="231" y="105" width="63" height="21" fill="#6eddff"/>
<rect x="-42" y="126" width="63" height="21" fill="#142952"/>
<rect x="21" y="126" width="21" height="21" fill="#152a54"/>
<rect x="42" y="126" width="21" height="21" fill="#214285"/>
<rect x="63" y="126" width="21" height="21" fill="#1d3972"/>
<rect x="84" y="126" width="21" height="21" fill="#2f5dba"/>
<rect x="105" y="126" width="21" height="21" fill="#3162c3"/>
<rect x="126" y="126" width="21" height="21" fill="#284f9f"/>
<rect x="147" y="126" width="21" height="21" fill="#3060c0"/>
<rect x="168" y="126" width="21" height="21" fill="#7efcff"/>
<rect x="189" y="126" width="21" height="21" fill="#f7ffff"/>
<rect x="210" y="126" width="21" height="21" fill="#112143"/>
<rect x="231" y="126" width="63" height="21" fill="#3b76ec"/>
<rect x="-42" y="147" width="63" height="21" fill="#14274f"/>
<rect x="21" y="147" width="21" height="21" fill="#183162"/>
<rect x="42" y="147" width="21" height="21" fill="#305fbe"/>
<rect x="63" y="147" width="21" height="21" fill="#214284"/>
<rect x="84" y="147" width="21" height="21" fill="#254b96"/>
<rect x="105" y="147" width="21" height="21" fill="#2c58b0"/>
<rect x="126" y="147" width="21" height="21" fill="#254a94"/>
<rect x="147" y="147" width="21" height="21" fill="#274f9e"/>
<rect x="168" y="147" width="21" height="21" fill="#8affff"/>
<rect x="189" y="147" width="21" height="21" fill="#cdffff"/>
<rect x="210" y="147" width="21" height="21" fill="#e8ffff"/>
<rect x="231" y="147" width="63" height="21" fill="#e3ffff"/>
<rect x="-42" y="168" width="63" height="21" fill="#13254a"/>
<rect x="21" y="168" width="21" height="21" fill="#204080"/>
<rect x="42" y="168" width="21" height="21" fill="#224589"/>
<rect x="63" y="168" width="21" height="21" fill="#13274e"/>
<rect x="84" y="168" width="21" height="21" fill="#162c58"/>
<rect x="105" y="168" width="21" height="21" fill="#102041"/>
<rect x="126" y="168" width="21" height="21" fill="#12254a"/>
<rect x="147" y="168" width="21" height="21" fill="#1f3d7b"/>
<rect x="168" y="168" width="21" height="21" fill="#9cffff"/>
<rect x="189" y="168" width="21" height="21" fill="#ccffff"/>
<rect x="210" y="168" width="21" height="21" fill="#bcffff"/>
<rect x="231" y="168" width="63" height="21" fill="#bfffff"/>
<rect x="-42" y="189" width="63" height="21" fill="#13254b"/>
<rect x="21" y="189" width="21" height="21" fill="#204181"/>
<rect x="42" y="189" width="21" height="21" fill="#203f7e"/>
<rect x="63" y="189" width="21" height="21" fill="#142850"/>
<rect x="84" y="189" width="21" height="21" fill="#122447"/>
<rect x="105" y="189" width="21" height="21" fill="#4182ff"/>
<rect x="126" y="189" width="21" height="21" fill="#65caff"/>
<rect x="147" y="189" width="21" height="21" fill="#85ffff"/>
<rect x="168" y="189" width="21" height="21" fill="#adffff"/>
<rect x="189" y="189" width="21" height="21" fill="#e2ffff"/>
<rect x="210" y="189" width="21" height="21" fill="#d9ffff"/>
<rect x="231" y="189" width="63" height="21" fill="#dbffff"/>
<rect x="-42" y="210" width="63" height="21" fill="#12254a"/>
<rect x="21" y="210" width="21" height="21" fill="#1d3a74"/>
<rect x="42" y="210" width="21" height="21" fill="#193263"/>
<rect x="63" y="210" width="21" height="21" fill="#254b96"/>
<rect x="84" y="210" width="21" height="21" fill="#3469d1"/>
<rect x="105" y="210" width="21" height="21" fill="#102142"/>
<rect x="126" y="210" width="21" height="21" fill="#3c78f1"/>
<rect x="147" y="210" width="21" height="21" fill="#66ccff"/>
<rect x="168" y="210" width="21" height="21" fill="#1e3c78"/>
<rect x="189" y="210" width="21" height="21" fill="#73e6ff"/>
<rect x="210" y="210" width="21" height="21" fill="#62c5ff"/>
<rect x="231" y="210" width="63" height="21" fill="#65cbff"/>
<rect x="-42" y="231" width="63" height="21" fill="#172f5d"/>
<rect x="21" y="231" width="21" height="21" fill="#152a54"/>
<rect x="42" y="231" width="21" height="21" fill="#162d59"/>
<rect x="63" y="231" width="21" height="21" fill="#13274e"/>
<rect x="84" y="231" width="21" height="21" fill="#152952"/>
<rect x="105" y="231" width="21" height="21" fill="#224589"/>
<rect x="126" y="231" width="21" height="21" fill="#3d79f2"/>
<rect x="147" y="231" width="21" height="21" fill="#4488ff"/>
<rect x="168" y="231" width="21" height="21" fill="#4d9aff"/>
<rect x="189" y="231" width="21" height="21" fill="#63c5ff"/>
<rect x="210" y="231" width="21" height="21" fill="#5ebdff"/>
<rect x="231" y="231" width="63" height="21" fill="#5fbeff"/>
<rect x="-42" y="252" width="63" height="21" fill="#1e3d7a"/>
<rect x="21" y="252" width="21" height="21" fill="#204080"/>
<rect x="42" y="252" width="21" height="21" fill="#1e3c78"/>
<rect x="63" y="252" width="21" height="21" fill="#1c376e"/>
<rect x="84" y="252" width="21" height="21" fill="#244890"/>
<rect x="105" y="252" width="21" height="21" fill="#142851"/>
<rect x="126" y="252" width="21" height="21" fill="#1e3d7a"/>
<rect x="147" y="252" width="21" height="21" fill="#59b2ff"/>
<rect x="168" y="252" width="21" height="21" fill="#224489"/>
<rect x="189" y="252" width="21" height="21" fill="#73e6ff"/>
<rect x="210" y="252" width="21" height="21" fill="#64c7ff"/>
<rect x="231" y="252" width="63" height="21" fill="#66cdff"/>
<rect x="-42" y="273" width="63" height="21" fill="#224488"/>
<rect x="21" y="273" width="21" height="21" fill="#1b366c"/>
<rect x="42" y="273" width="21" height="21" fill="#274e9c"/>
<rect x="63" y="273" width="21" height="21" fill="#2e5bb7"/>
<rect x="84" y="273" width="21" height="21" fill="#3061c1"/>
<rect x="105" y="273" width="21" height="21" fill="#204080"/>
<rect x="126" y="273" width="21" height="21" fill="#1e3c78"/>
<rect x="147" y="273" width="21" height="21" fill="#4488ff"/>
<rect x="168" y="273" width="21" height="21" fill="#3f7ffd"/>
<rect x="189" y="273" width="21" height="21" fill="#80ffff"/>
<rect x="210" y="273" width="21" height="21" fill="#74e8ff"/>
<rect x="231" y="273" width="63" height="21" fill="#76edff"/>
<rect x="-42" y="294" width="63" height="21" fill="#254a93"/>
<rect x="21" y="294" width="21" height="21" fill="#1d3a74"/>
<rect x="42" y="294" width="21" height="21" fill="#1f3f7d"/>
<rect x="63" y="294" width="21" height="21" fill="#2b55aa"/>
<rect x="84" y="294" width="21" height="21" fill="#3e7bf7"/>
<rect x="105" y="294" width="21" height="21" fill="#4488ff"/>
<rect x="126" y="294" width="21" height="21" fill="#1f3f7d"/>
<rect x="147" y="294" width="21" height="21" fill="#4589ff"/>
<rect x="168" y="294" width="21" height="21" fill="#7bf6ff"/>
<rect x="189" y="294" width="21" height="21" fill="#e8ffff"/>
<rect x="210" y="294" width="21" height="21" fill="#d3ffff"/>
<rect x="231" y="294" width="63" height="21" fill="#d7ffff"/>
<rect x="-42" y="315" width="63" height="21" fill="#2d5bb6"/>
<rect x="21" y="315" width="21" height="21" fill="#193162"/>
<rect x="42" y="315" width="21" height="21" fill="#204081"/>
<rect x="63" y="315" width="21" height="21" fill="#23468c"/>
<rect x="84" y="315" width="21" height="21" fill="#2953a5"/>
<rect x="105" y="315" width="21" height="21" fill="#2b56ad"/>
<rect x="126" y="315" width="21" height="21" fill="#193264"/>
<rect x="147" y="315" width="21" height="21" fill="#4992ff"/>
<rect x="168" y="315" width="21" height="21" fill="#bfffff"/>
<rect x="189" y="315" width="21" height="21" fill="#c5ffff"/>
<rect x="210" y="315" width="84" height="21" fill="#c4ffff"/>
<rect x="-42" y="336" width="63" height="21" fill="#356bd6"/>
<rect x="21" y="336" width="21" height="21" fill="#1d3a74"/>
<rect x="42" y="336" width="21" height="21" fill="#4b95ff"/>
<rect x="63" y="336" width="21" height="21" fill="#3c77ee"/>
<rect x="84" y="336" width="21" height="21" fill="#204080"/>
<rect x="105" y="336" width="21" height="21" fill="#24488f"/>
<rect x="126" y="336" width="21" height="21" fill="#23478d"/>
<rect x="147" y="336" width="21" height="21" fill="#62c4ff"/>
<rect x="168" y="336" width="21" height="21" fill="#e1ffff"/>
<rect x="189" y="336" width="21" height="21" fill="#c4ffff"/>
<rect x="210" y="336" width="21" height="21" fill="#c9ffff"/>
<rect x="231" y="336" width="63" height="21" fill="#c8ffff"/>
<rect x="-42" y="357" width="63" height="21" fill="#356bd5"/>
<rect x="21" y="357" width="21" height="21" fill="#1b366c"/>
<rect x="42" y="357" width="21" height="21" fill="#3060c0"/>
<rect x="63" y="357" width="21" height="21" fill="#274d9b"/>
<rect x="84" y="357" width="21" height="21" fill="#1e3b76"/>
<rect x="105" y="357" width="21" height="21" fill="#274f9d"/>
<rect x="126" y="357" width="21" height="21" fill="#24488f"/>
<rect x="147" y="357" width="21" height="21" fill="#64c8ff"/>
<rect x="168" y="357" width="21" height="21" fill="#d8ffff"/>
<rect x="189" y="357" width="21" height="21" fill="#bfffff"/>
<rect x="210" y="357" width="21" height="21" fill="#c4ffff"/>
<rect x="231" y="357" width="63" height="21" fill="#c3ffff"/>
<rect x="-42" y="378" width="63" height="21" fill="#478eff"/>
<rect x="21" y="378" width="21" height="21" fill="#3163c6"/>
<rect x="42" y="378" width="21" height="21" fill="#254a94"/>
<rect x="63" y="378" width="21" height="21" fill="#152b56"/>
<rect x="84" y="378" width="21" height="21" fill="#244890"/>
<rect x="105" y="378" width="21" height="21" fill="#3060c0"/>
<rect x="126" y="378" width="21" height="21" fill="#6cd8ff"/>
<rect x="147" y="378" width="21" height="21" fill="#71e2ff"/>
<rect x="168" y="378" width="21" height="21" fill="#e7ffff"/>
<rect x="189" y="378" width="21" height="21" fill="#9effff"/>
<rect x="210" y="378" width="21" height="21" fill="#acffff"/>
<rect x="231" y="378" width="63" height="21" fill="#aaffff"/>
<rect x="-42" y="399" width="63" height="21" fill="#4284ff"/>
<rect x="21" y="399" width="21" height="21" fill="#376fdd"/>
<rect x="42" y="399" width="21" height="21" fill="#3367cd"/>
<rect x="63" y="399" width="21" height="21" fill="#2d5ab4"/>
<rect x="84" y="399" width="21" height="21" fill="#2a54a7"/>
<rect x="105" y="399" width="21" height="21" fill="#356bd5"/>
<rect x="126" y="399" width="21" height="21" fill="#52a3ff"/>
<rect x="147" y="399" width="21" height="21" fill="#6edbff"/>
<rect x="168" y="399" width="21" height="21" fill="#75eaff"/>
<rect x="189" y="399" width="21" height="21" fill="#7bf7ff"/>
<rect x="210" y="399" width="21" height="21" fill="#7af4ff"/>
<rect x="231" y="399" width="63" height="21" fill="#7af5ff"/>
<rect x="-42" y="420" width="63" height="21" fill="#4284ff"/>
<rect x="21" y="420" width="21" height="21" fill="#376fdd"/>
<rect x="42" y="420" width="21" height="21" fill="#3367cd"/>
<rect x="63" y="420" width="21" height="21" fill="#2d5ab4"/>
<rect x="84" y="420" width="21" height="21" fill="#2a54a7"/>
<rect x="105" y="420" width="21" height="21" fill="#356bd5"/>
<rect x="126" y="420" width="21" height="21" fill="#52a3ff"/>
<rect x="147" y="420" width="21" height="21" fill="#6edbff"/>
<rect x="168" y="420" width="21" height="21" fill="#75eaff"/>
<rect x="189" y="420" width="21" height="21" fill="#7bf7ff"/>
<rect x="210" y="420" width="21" height="21" fill="#7af4ff"/>
<rect x="231" y="420" width="63" height="21" fill="#7af5ff"/>
<rect x="-42" y="441" width="63" height="21" fill="#4284ff"/>
<rect x="21" y="441" width="21" height="21" fill="#376fdd"/>
<rect x="42" y="441" width="21" height="21" fill="#3367cd"/>
<rect x="63" y="441" width="21" height="21" fill="#2d5ab4"/>
<rect x="84" y="441" width="21" height="21" fill="#2a54a7"/>
<rect x="105" y="441" width="21" height="21" fill="#356bd5"/>
<rect x="126" y="441" width="21" height="21" fill="#52a3ff"/>
<rect x="147" y="441" width="21" height="21" fill="#6edbff"/>
<rect x="168" y="441" width="21" height="21" fill="#75eaff"/>
<rect x="189" y="441" width="21" height="21" fill="#7bf7ff"/>
<rect x="210" y="441" width="21" height="21" fill="#7af4ff"/>
<rect x="231" y="441" width="63" height="21" fill="#7af5ff"/>
</g>
<use href="#land"/>
</g>
<use href="#dots"/>
<rect x="0" y="0" width="252" height="420" fill="none" stroke="#000" stroke-width="1.67"/>
<path d="M60,420 v7.3 M180,420 v7.3" stroke="#000" stroke-width="1.67" fill="none"/>
<text class="tk" x="59.3" y="455" text-anchor="middle">74°<tspan class="i">W</tspan></text>
<text class="tk" x="179.3" y="455" text-anchor="middle">72°<tspan class="i">W</tspan></text>
<text class="tt" x="0" y="-11">Dia 10</text>
</g>
<g id="cbar">
<rect x="1886.0" y="903.80" width="22.6" height="28.40" fill="rgb(242,249,251)"/>
<rect x="1886.0" y="875.80" width="22.6" height="28.40" fill="rgb(217,236,242)"/>
<rect x="1886.0" y="847.80" width="22.6" height="28.40" fill="rgb(191,223,234)"/>
<rect x="1886.0" y="819.80" width="22.6" height="28.40" fill="rgb(166,210,225)"/>
<rect x="1886.0" y="791.80" width="22.6" height="28.40" fill="rgb(140,198,217)"/>
<rect x="1886.0" y="763.80" width="22.6" height="28.40" fill="rgb(115,185,208)"/>
<rect x="1886.0" y="735.80" width="22.6" height="28.40" fill="rgb(89,172,200)"/>
<rect x="1886.0" y="707.80" width="22.6" height="28.40" fill="rgb(64,159,191)"/>
<rect x="1886.0" y="679.80" width="22.6" height="28.40" fill="rgb(38,147,183)"/>
<rect x="1886.0" y="651.80" width="22.6" height="28.40" fill="rgb(13,134,174)"/>
<rect x="1886.0" y="623.80" width="22.6" height="28.40" fill="rgb(0,121,166)"/>
<rect x="1886.0" y="595.80" width="22.6" height="28.40" fill="rgb(0,108,157)"/>
<rect x="1886.0" y="567.80" width="22.6" height="28.40" fill="rgb(0,96,149)"/>
<rect x="1886.0" y="539.80" width="22.6" height="28.40" fill="rgb(0,83,140)"/>
<rect x="1886.0" y="511.80" width="22.6" height="28.40" fill="rgb(0,70,132)"/>
<rect x="1886.0" y="483.80" width="22.6" height="28.40" fill="rgb(0,57,123)"/>
<rect x="1886.0" y="455.80" width="22.6" height="28.40" fill="rgb(0,45,115)"/>
<rect x="1886.0" y="427.80" width="22.6" height="28.40" fill="rgb(0,32,106)"/>
<rect x="1886.0" y="399.80" width="22.6" height="28.40" fill="rgb(0,19,98)"/>
<rect x="1886.0" y="371.80" width="22.6" height="28.40" fill="rgb(0,6,89)"/>
<rect x="1886.0" y="343.80" width="22.6" height="28.40" fill="rgb(0,6,81)"/>
<rect x="1886.0" y="315.80" width="22.6" height="28.40" fill="rgb(0,19,72)"/>
<rect x="1886.0" y="287.80" width="22.6" height="28.40" fill="rgb(0,32,64)"/>
<rect x="1886.0" y="259.80" width="22.6" height="28.40" fill="rgb(0,45,55)"/>
<rect x="1886.0" y="231.80" width="22.6" height="28.40" fill="rgb(0,57,47)"/>
<rect x="1886.0" y="203.80" width="22.6" height="28.40" fill="rgb(0,70,38)"/>
<rect x="1886.0" y="175.80" width="22.6" height="28.40" fill="rgb(0,83,30)"/>
<rect x="1886.0" y="147.80" width="22.6" height="28.40" fill="rgb(0,96,21)"/>
<rect x="1886.0" y="119.80" width="22.6" height="28.40" fill="rgb(0,108,13)"/>
<rect x="1886.0" y="91.80" width="22.6" height="28.40" fill="rgb(0,121,4)"/>
<polygon points="1886.0,92.1 1897.3,49.8 1908.6,92.1" fill="rgb(0,128,0)"/>
<polygon points="1886.0,931.8 1897.3,973.8 1908.6,931.8" fill="#fff"/>
<path d="M1886.0,91.8 L1897.3,49.8 L1908.6,91.8 L1908.6,931.8 L1897.3,973.8 L1886.0,931.8 Z" fill="none" stroke="#000" stroke-width="1.67" stroke-linejoin="miter"/>
<path d="M1908.6,931.8 h7.3" stroke="#000" stroke-width="1.67"/>
<text class="tk" x="1924.1" y="942.0">0.0</text>
<path d="M1908.6,791.8 h7.3" stroke="#000" stroke-width="1.67"/>
<text class="tk" x="1924.1" y="802.0">0.5</text>
<path d="M1908.6,651.8 h7.3" stroke="#000" stroke-width="1.67"/>
<text class="tk" x="1924.1" y="662.0">1.0</text>
<path d="M1908.6,511.8 h7.3" stroke="#000" stroke-width="1.67"/>
<text class="tk" x="1924.1" y="522.0">1.5</text>
<path d="M1908.6,371.8 h7.3" stroke="#000" stroke-width="1.67"/>
<text class="tk" x="1924.1" y="382.0">2.0</text>
<path d="M1908.6,231.8 h7.3" stroke="#000" stroke-width="1.67"/>
<text class="tk" x="1924.1" y="242.0">2.5</text>
<path d="M1908.6,91.8 h7.3" stroke="#000" stroke-width="1.67"/>
<text class="tk" x="1924.1" y="102.0">3.0</text>
</g>
<g id="cblabel" transform="translate(2027,512) rotate(-90)" style="font-size:37.5px">
<text x="-358.2" y="0" style="font-size:37.72px">Raiz del error cuadratico medio (</text>
<text transform="translate(264,0) scale(1,1.57)" x="0" y="0" style="font-size:41.7px">√</text>
<rect x="290" y="-53.9" width="55.2" height="1.6"/>
<rect x="295.1" y="-41" width="46.3" height="1.8"/>
<text x="295.5" y="0">Δ</text>
<text x="321.5" y="-14" style="font-size:26.25px">2</text>
<text x="343" y="0">)</text>
<text x="-255.4" y="46">Δ</text>
<text x="-224.7" y="46">=</text>
<text x="-187" y="46" class="i">TSM</text>
<text x="-107" y="50" class="i" style="font-size:26.25px">pronostico</text>
<text x="41.4" y="46">−</text>
<text x="78.5" y="46" class="i">TSM</text>
<text x="156.5" y="50" class="i" style="font-size:26.25px">satelite</text>
<text x="-41.4" y="99.4">(°C)</text>
</g>

<text x="91" y="1054" style="font-size:20.8px">Estadistica para el periodo: 2024-02-19 ; 2024-03-19</text>
</svg>
</body></html>
